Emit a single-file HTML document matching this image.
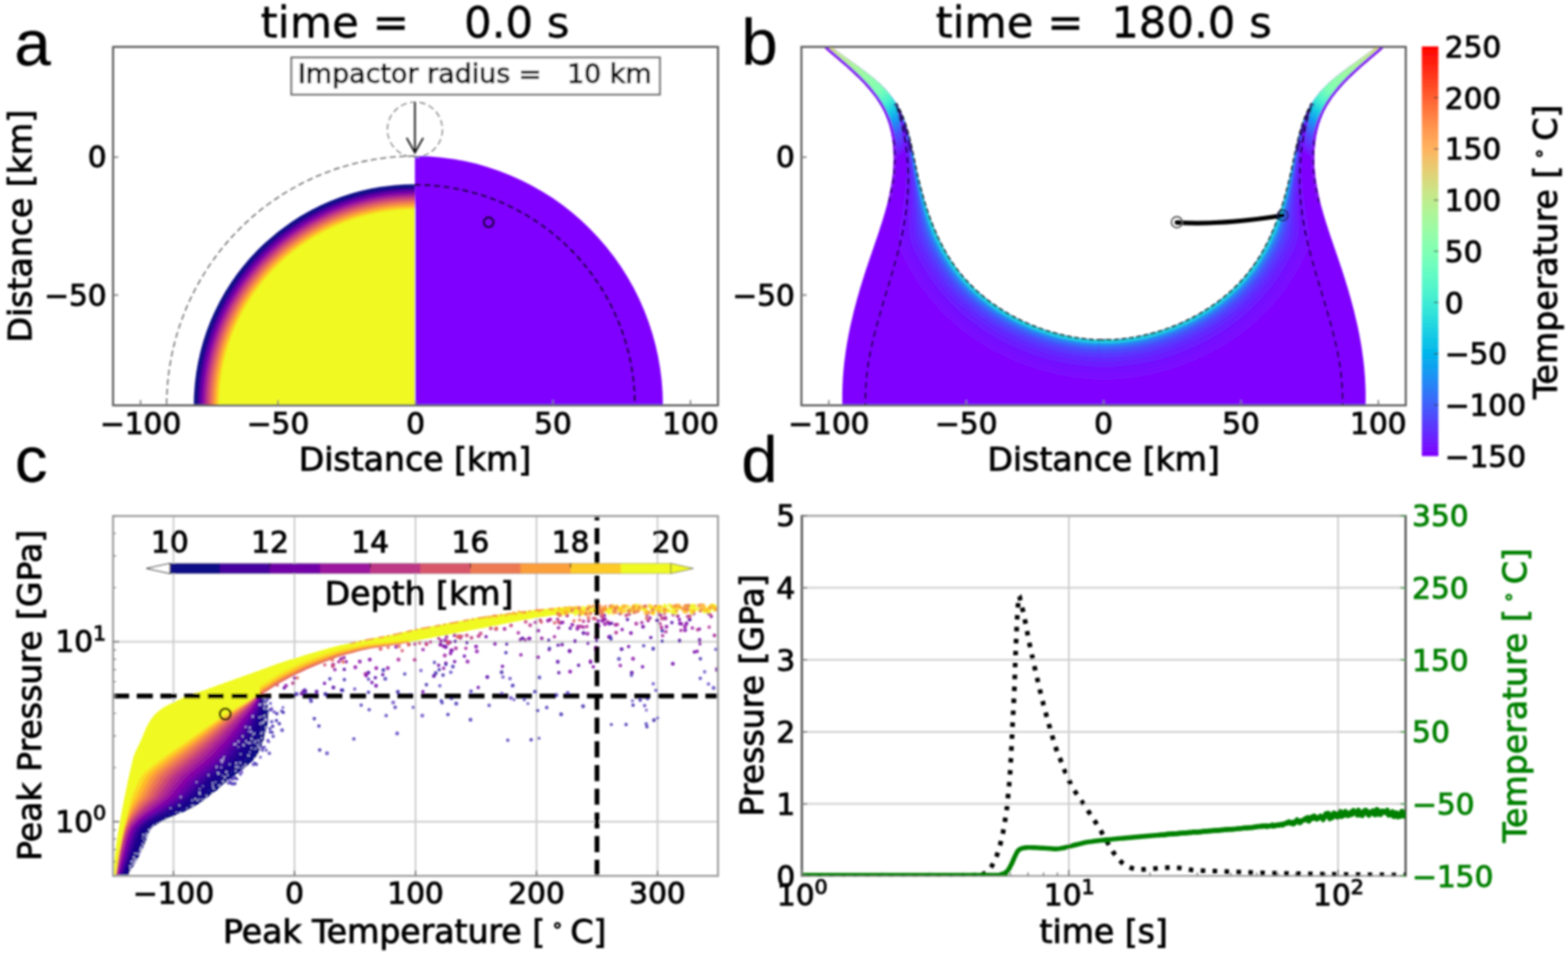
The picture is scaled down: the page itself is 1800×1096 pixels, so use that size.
<!DOCTYPE html>
<html lang="en"><head><meta charset="utf-8"><title>Impact simulation figure</title>
<style>
html,body{margin:0;padding:0;background:#fff;}
body{width:1800px;height:1096px;overflow:hidden;}
svg{display:block;font-family:'DejaVu Sans','Liberation Sans',sans-serif;}

</style></head><body>
<svg width="1800" height="1096" viewBox="0 0 1800 1096">
<defs><filter id="soft" filterUnits="userSpaceOnUse" x="0" y="0" width="1800" height="1096"><feGaussianBlur stdDeviation="0.8"/></filter></defs>
<rect width="1800" height="1096" fill="#fff"/>
<g filter="url(#soft)">
<!-- panel a -->
<defs>
<clipPath id="clipA"><rect x="129.8" y="53.8" width="694.4" height="411.4"/></clipPath>
<radialGradient id="gA" gradientUnits="userSpaceOnUse" cx="476.3" cy="465.2" r="253.8"><stop offset="0" stop-color="#f0f921"/><stop offset="0.8831" stop-color="#f0f921"/><stop offset="0.8935" stop-color="#fcce25"/><stop offset="0.9040" stop-color="#fca636"/><stop offset="0.9144" stop-color="#f2844b"/><stop offset="0.9249" stop-color="#e16462"/><stop offset="0.9353" stop-color="#cc4778"/><stop offset="0.9458" stop-color="#b12a90"/><stop offset="0.9562" stop-color="#8f0da4"/><stop offset="0.9667" stop-color="#6a00a8"/><stop offset="0.9771" stop-color="#41049d"/><stop offset="0.9876" stop-color="#0d0887"/></radialGradient>
</defs>
<g clip-path="url(#clipA)">
<path d="M476.3,179.1 A284.7,286.1 0 0 1 761,465.2 L476.3,465.2 Z" fill="#8000ff"/>
<path d="M476.3,211.4 A253.8,253.8 0 0 0 222.5,465.2 L476.3,465.2 Z" fill="url(#gA)"/>
<path d="M476.3,179.1 A285,286.1 0 0 0 191.3,465.2" fill="none" stroke="#707070" stroke-width="1.6" stroke-dasharray="7 4"/>
<path d="M476.3,212 A252.5,253.2 0 0 1 728.8,465.2" fill="none" stroke="#12042e" stroke-width="2.4" stroke-dasharray="7 4"/>
<circle cx="561" cy="255.1" r="5.6" fill="none" stroke="#12042e" stroke-width="2.8"/>
</g>
<circle cx="476.3" cy="148.7" r="31.6" fill="none" stroke="#808080" stroke-width="1.4" stroke-dasharray="7 4"/>
<path d="M476.3,117.1 L476.3,175.3 M466.8,158.3 L476.3,175.3 L485.8,158.3" fill="none" stroke="#111" stroke-width="1.9"/>
<rect x="334.5" y="66" width="423" height="42.5" fill="#fff" stroke="#6a6a6a" stroke-width="2.2"/>
<text x="342" y="94.5" font-size="30.9" text-anchor="start" fill="#000" stroke="#000" stroke-width="1.0" xml:space="preserve">Impactor radius =   10 km</text>
<rect x="129.8" y="53.8" width="694.4" height="411.4" fill="none" stroke="#5a5a5a" stroke-width="2.3"/>
<line x1="161.4" y1="465.2" x2="161.4" y2="459.2" stroke="#777" stroke-width="1.6"/>
<text x="161.4" y="498.3" font-size="34" text-anchor="middle" fill="#000" stroke="#000" stroke-width="1.0">−100</text>
<line x1="319.2" y1="465.2" x2="319.2" y2="459.2" stroke="#777" stroke-width="1.6"/>
<text x="319.2" y="498.3" font-size="34" text-anchor="middle" fill="#000" stroke="#000" stroke-width="1.0">−50</text>
<line x1="477" y1="465.2" x2="477" y2="459.2" stroke="#777" stroke-width="1.6"/>
<text x="477" y="498.3" font-size="34" text-anchor="middle" fill="#000" stroke="#000" stroke-width="1.0">0</text>
<line x1="634.8" y1="465.2" x2="634.8" y2="459.2" stroke="#777" stroke-width="1.6"/>
<text x="634.8" y="498.3" font-size="34" text-anchor="middle" fill="#000" stroke="#000" stroke-width="1.0">50</text>
<line x1="792.6" y1="465.2" x2="792.6" y2="459.2" stroke="#777" stroke-width="1.6"/>
<text x="792.6" y="498.3" font-size="34" text-anchor="middle" fill="#000" stroke="#000" stroke-width="1.0">100</text>
<line x1="129.8" y1="180.4" x2="135.8" y2="180.4" stroke="#777" stroke-width="1.6"/>
<text x="122.5" y="192.4" font-size="34" text-anchor="end" fill="#000" stroke="#000" stroke-width="1.0">0</text>
<line x1="129.8" y1="338.6" x2="135.8" y2="338.6" stroke="#777" stroke-width="1.6"/>
<text x="122.5" y="350.6" font-size="34" text-anchor="end" fill="#000" stroke="#000" stroke-width="1.0">−50</text>
<text x="476.5" y="539.5" font-size="38" text-anchor="middle" fill="#000" stroke="#000" stroke-width="1.0">Distance [km]</text>
<text x="35.5" y="259.5" font-size="38" text-anchor="middle" fill="#000" stroke="#000" stroke-width="1.0" transform="rotate(-90 35.5 259.5)">Distance [km]</text>
<text x="476.5" y="43.4" font-size="49.8" text-anchor="middle" fill="#000" stroke="#000" stroke-width="1.0" xml:space="preserve" style="stroke-width:0.5">time =    0.0 s</text>
<!-- panel b -->
<defs>
<clipPath id="clipB"><rect x="920" y="53.8" width="693.8" height="411.4"/></clipPath>
<clipPath id="bodyB"><polygon points="934.2,44.1 936.3,46.1 938.5,48.1 940.7,50.1 943,52.1 945.3,54.1 947.6,56.1 949.9,58.2 952.3,60.2 954.6,62.2 957,64.2 959.4,66.3 961.8,68.3 964.2,70.4 966.6,72.4 969,74.5 971.4,76.6 973.8,78.7 976.2,80.9 978.5,83 980.8,85.2 983.1,87.4 985.4,89.6 987.6,91.8 989.8,94.1 992,96.3 994.1,98.7 996.2,101 998.2,103.4 1000.2,105.8 1002.1,108.2 1004,110.6 1005.8,113.1 1007.5,115.7 1009.2,118.2 1010.8,120.8 1012.3,123.5 1013.7,126.1 1015.1,128.8 1016.3,131.6 1017.5,134.4 1018.6,137.2 1019.6,140.1 1020.6,143 1021.4,146 1022.2,148.9 1022.9,151.9 1023.5,154.9 1024,157.9 1024.5,161 1024.9,164 1025.2,167.1 1025.5,170.2 1025.7,173.3 1025.8,176.4 1025.9,179.5 1025.9,182.6 1025.8,185.6 1025.7,188.7 1025.6,191.8 1025.4,194.9 1025.1,198 1024.8,201 1024.4,204.1 1024,207.1 1023.5,210.2 1023,213.3 1022.4,216.3 1021.8,219.3 1021.2,222.4 1020.6,225.4 1019.9,228.4 1019.1,231.5 1018.4,234.5 1017.6,237.5 1016.7,240.5 1015.9,243.6 1015,246.6 1014.1,249.6 1013.2,252.6 1012.3,255.6 1011.3,258.6 1010.3,261.6 1009.4,264.6 1008.4,267.6 1007.4,270.5 1006.4,273.5 1005.3,276.5 1004.3,279.5 1003.3,282.5 1002.3,285.4 1001.2,288.4 1000.2,291.4 999.2,294.3 998.2,297.3 997.2,300.3 996.2,303.2 995.2,306.2 994.2,309.1 993.3,312.1 992.3,315.1 991.4,318 990.4,321 989.5,323.9 988.6,326.9 987.7,329.8 986.8,332.8 986,335.7 985.1,338.7 984.3,341.6 983.5,344.6 982.7,347.6 981.9,350.5 981.1,353.5 980.3,356.4 979.6,359.4 978.9,362.4 978.2,365.4 977.5,368.3 976.8,371.3 976.1,374.3 975.5,377.3 974.9,380.3 974.3,383.3 973.7,386.3 973.2,389.3 972.6,392.3 972.1,395.3 971.6,398.4 971.1,401.4 970.7,404.4 970.3,407.5 969.9,410.5 969.5,413.6 969.1,416.7 968.8,419.8 968.5,422.8 968.2,425.9 968,429 967.7,432.1 967.5,435.3 967.4,438.4 967.2,441.5 967.1,444.7 967,447.8 966.9,451 966.9,454.2 966.9,457.4 966.9,460.6 966.9,463.8 967,467 967.1,470.2 1273,470 1272.9,390.2 1270,390.2 1267,390.3 1264,390.2 1261,390.1 1258,390 1255,389.8 1252,389.6 1249,389.4 1246,389.1 1243,388.7 1239.9,388.3 1236.9,387.9 1233.9,387.4 1231,386.9 1228,386.3 1225,385.7 1222,385.1 1219,384.4 1216,383.7 1213.1,382.9 1210.1,382.1 1207.2,381.3 1204.3,380.4 1201.3,379.5 1198.4,378.5 1195.5,377.5 1192.7,376.5 1189.8,375.4 1186.9,374.3 1184.1,373.2 1181.3,372 1178.5,370.8 1175.7,369.5 1172.9,368.2 1170.2,366.9 1167.4,365.5 1164.7,364.1 1162,362.7 1159.4,361.2 1156.7,359.7 1154.1,358.1 1151.5,356.5 1149,354.9 1146.4,353.3 1143.9,351.6 1141.4,349.9 1139,348.2 1136.5,346.4 1134.1,344.6 1131.8,342.7 1129.4,340.9 1127.1,339 1124.9,337 1122.6,335.1 1120.4,333.1 1118.3,331.1 1116.1,329 1114,326.9 1112,324.8 1110,322.7 1108,320.5 1106,318.3 1104.1,316.1 1102.3,313.8 1100.5,311.5 1098.7,309.2 1097,306.9 1095.3,304.5 1093.6,302.2 1092,299.7 1090.4,297.3 1088.8,294.9 1087.3,292.4 1085.8,289.9 1084.4,287.4 1083,284.8 1081.6,282.2 1080.2,279.7 1078.9,277 1077.6,274.4 1076.4,271.8 1075.2,269.1 1074,266.4 1072.8,263.7 1071.7,261 1070.6,258.3 1069.5,255.5 1068.4,252.7 1067.4,250 1066.4,247.2 1065.4,244.3 1064.4,241.5 1063.5,238.7 1062.6,235.8 1061.7,233 1060.8,230.1 1060,227.2 1059.2,224.3 1058.4,221.4 1057.6,218.5 1056.8,215.5 1056.1,212.6 1055.3,209.6 1054.6,206.7 1053.9,203.7 1053.2,200.8 1052.6,197.8 1051.9,194.8 1051.3,191.8 1050.6,188.8 1050,185.8 1049.4,182.8 1048.8,179.8 1048.2,176.8 1047.5,173.9 1046.9,170.9 1046.3,167.9 1045.6,165 1044.9,162 1044.2,159.1 1043.5,156.2 1042.7,153.3 1041.9,150.4 1041.1,147.6 1040.2,144.8 1039.3,142 1038.4,139.2 1037.4,136.5 1036.3,133.8 1035.2,131.1 1034,128.5 1032.8,125.9 1031.5,123.3 1030.1,120.8 1028.7,118.3 1027.2,115.9 1025.6,113.5 1023.9,111.2 1022.1,108.9 1020.3,106.6 1018.4,104.5 1016.4,102.3 1014.4,100.2 1012.3,98.1 1010.2,96.1 1008,94.1 1005.7,92.1 1003.4,90.1 1001.1,88.2 998.7,86.3 996.4,84.4 993.9,82.6 991.5,80.7 989,78.9 986.6,77.1 984.1,75.3 981.6,73.5 979.1,71.7 976.6,69.9 974.1,68.1 971.6,66.3 969.2,64.5 966.7,62.8 964.3,61 961.9,59.2 959.5,57.3 957.2,55.5 954.9,53.7 952.7,51.8 950.5,49.9 948.3,48 946.2,46.1 944.2,44.1"/></clipPath>
<linearGradient id="gCurt" gradientUnits="userSpaceOnUse" x1="948" y1="54" x2="1040" y2="175"><stop offset="0" stop-color="#e0cf72"/><stop offset="0.09" stop-color="#c4ec8c"/><stop offset="0.3" stop-color="#a0f8a0"/><stop offset="0.5" stop-color="#80ffb4"/><stop offset="0.6" stop-color="#4df3ce"/><stop offset="0.68" stop-color="#18cde4"/><stop offset="0.76" stop-color="#1996f3"/><stop offset="0.86" stop-color="#4e4dfc"/><stop offset="0.95" stop-color="#6e20ff"/><stop offset="1" stop-color="#8000ff"/></linearGradient>
</defs>
<g clip-path="url(#clipB)">
<polygon points="934.2,44.1 936.3,46.1 938.5,48.1 940.7,50.1 943,52.1 945.3,54.1 947.6,56.1 949.9,58.2 952.3,60.2 954.6,62.2 957,64.2 959.4,66.3 961.8,68.3 964.2,70.4 966.6,72.4 969,74.5 971.4,76.6 973.8,78.7 976.2,80.9 978.5,83 980.8,85.2 983.1,87.4 985.4,89.6 987.6,91.8 989.8,94.1 992,96.3 994.1,98.7 996.2,101 998.2,103.4 1000.2,105.8 1002.1,108.2 1004,110.6 1005.8,113.1 1007.5,115.7 1009.2,118.2 1010.8,120.8 1012.3,123.5 1013.7,126.1 1015.1,128.8 1016.3,131.6 1017.5,134.4 1018.6,137.2 1019.6,140.1 1020.6,143 1021.4,146 1022.2,148.9 1022.9,151.9 1023.5,154.9 1024,157.9 1024.5,161 1024.9,164 1025.2,167.1 1025.5,170.2 1025.7,173.3 1025.8,176.4 1025.9,179.5 1025.9,182.6 1025.8,185.6 1025.7,188.7 1025.6,191.8 1025.4,194.9 1025.1,198 1024.8,201 1024.4,204.1 1024,207.1 1023.5,210.2 1023,213.3 1022.4,216.3 1021.8,219.3 1021.2,222.4 1020.6,225.4 1019.9,228.4 1019.1,231.5 1018.4,234.5 1017.6,237.5 1016.7,240.5 1015.9,243.6 1015,246.6 1014.1,249.6 1013.2,252.6 1012.3,255.6 1011.3,258.6 1010.3,261.6 1009.4,264.6 1008.4,267.6 1007.4,270.5 1006.4,273.5 1005.3,276.5 1004.3,279.5 1003.3,282.5 1002.3,285.4 1001.2,288.4 1000.2,291.4 999.2,294.3 998.2,297.3 997.2,300.3 996.2,303.2 995.2,306.2 994.2,309.1 993.3,312.1 992.3,315.1 991.4,318 990.4,321 989.5,323.9 988.6,326.9 987.7,329.8 986.8,332.8 986,335.7 985.1,338.7 984.3,341.6 983.5,344.6 982.7,347.6 981.9,350.5 981.1,353.5 980.3,356.4 979.6,359.4 978.9,362.4 978.2,365.4 977.5,368.3 976.8,371.3 976.1,374.3 975.5,377.3 974.9,380.3 974.3,383.3 973.7,386.3 973.2,389.3 972.6,392.3 972.1,395.3 971.6,398.4 971.1,401.4 970.7,404.4 970.3,407.5 969.9,410.5 969.5,413.6 969.1,416.7 968.8,419.8 968.5,422.8 968.2,425.9 968,429 967.7,432.1 967.5,435.3 967.4,438.4 967.2,441.5 967.1,444.7 967,447.8 966.9,451 966.9,454.2 966.9,457.4 966.9,460.6 966.9,463.8 967,467 967.1,470.2 1273,470 1272.9,390.2 1270,390.2 1267,390.3 1264,390.2 1261,390.1 1258,390 1255,389.8 1252,389.6 1249,389.4 1246,389.1 1243,388.7 1239.9,388.3 1236.9,387.9 1233.9,387.4 1231,386.9 1228,386.3 1225,385.7 1222,385.1 1219,384.4 1216,383.7 1213.1,382.9 1210.1,382.1 1207.2,381.3 1204.3,380.4 1201.3,379.5 1198.4,378.5 1195.5,377.5 1192.7,376.5 1189.8,375.4 1186.9,374.3 1184.1,373.2 1181.3,372 1178.5,370.8 1175.7,369.5 1172.9,368.2 1170.2,366.9 1167.4,365.5 1164.7,364.1 1162,362.7 1159.4,361.2 1156.7,359.7 1154.1,358.1 1151.5,356.5 1149,354.9 1146.4,353.3 1143.9,351.6 1141.4,349.9 1139,348.2 1136.5,346.4 1134.1,344.6 1131.8,342.7 1129.4,340.9 1127.1,339 1124.9,337 1122.6,335.1 1120.4,333.1 1118.3,331.1 1116.1,329 1114,326.9 1112,324.8 1110,322.7 1108,320.5 1106,318.3 1104.1,316.1 1102.3,313.8 1100.5,311.5 1098.7,309.2 1097,306.9 1095.3,304.5 1093.6,302.2 1092,299.7 1090.4,297.3 1088.8,294.9 1087.3,292.4 1085.8,289.9 1084.4,287.4 1083,284.8 1081.6,282.2 1080.2,279.7 1078.9,277 1077.6,274.4 1076.4,271.8 1075.2,269.1 1074,266.4 1072.8,263.7 1071.7,261 1070.6,258.3 1069.5,255.5 1068.4,252.7 1067.4,250 1066.4,247.2 1065.4,244.3 1064.4,241.5 1063.5,238.7 1062.6,235.8 1061.7,233 1060.8,230.1 1060,227.2 1059.2,224.3 1058.4,221.4 1057.6,218.5 1056.8,215.5 1056.1,212.6 1055.3,209.6 1054.6,206.7 1053.9,203.7 1053.2,200.8 1052.6,197.8 1051.9,194.8 1051.3,191.8 1050.6,188.8 1050,185.8 1049.4,182.8 1048.8,179.8 1048.2,176.8 1047.5,173.9 1046.9,170.9 1046.3,167.9 1045.6,165 1044.9,162 1044.2,159.1 1043.5,156.2 1042.7,153.3 1041.9,150.4 1041.1,147.6 1040.2,144.8 1039.3,142 1038.4,139.2 1037.4,136.5 1036.3,133.8 1035.2,131.1 1034,128.5 1032.8,125.9 1031.5,123.3 1030.1,120.8 1028.7,118.3 1027.2,115.9 1025.6,113.5 1023.9,111.2 1022.1,108.9 1020.3,106.6 1018.4,104.5 1016.4,102.3 1014.4,100.2 1012.3,98.1 1010.2,96.1 1008,94.1 1005.7,92.1 1003.4,90.1 1001.1,88.2 998.7,86.3 996.4,84.4 993.9,82.6 991.5,80.7 989,78.9 986.6,77.1 984.1,75.3 981.6,73.5 979.1,71.7 976.6,69.9 974.1,68.1 971.6,66.3 969.2,64.5 966.7,62.8 964.3,61 961.9,59.2 959.5,57.3 957.2,55.5 954.9,53.7 952.7,51.8 950.5,49.9 948.3,48 946.2,46.1 944.2,44.1" fill="#8000ff"/>
<g transform="translate(2534.6 0) scale(-1 1)"><polygon points="934.2,44.1 936.3,46.1 938.5,48.1 940.7,50.1 943,52.1 945.3,54.1 947.6,56.1 949.9,58.2 952.3,60.2 954.6,62.2 957,64.2 959.4,66.3 961.8,68.3 964.2,70.4 966.6,72.4 969,74.5 971.4,76.6 973.8,78.7 976.2,80.9 978.5,83 980.8,85.2 983.1,87.4 985.4,89.6 987.6,91.8 989.8,94.1 992,96.3 994.1,98.7 996.2,101 998.2,103.4 1000.2,105.8 1002.1,108.2 1004,110.6 1005.8,113.1 1007.5,115.7 1009.2,118.2 1010.8,120.8 1012.3,123.5 1013.7,126.1 1015.1,128.8 1016.3,131.6 1017.5,134.4 1018.6,137.2 1019.6,140.1 1020.6,143 1021.4,146 1022.2,148.9 1022.9,151.9 1023.5,154.9 1024,157.9 1024.5,161 1024.9,164 1025.2,167.1 1025.5,170.2 1025.7,173.3 1025.8,176.4 1025.9,179.5 1025.9,182.6 1025.8,185.6 1025.7,188.7 1025.6,191.8 1025.4,194.9 1025.1,198 1024.8,201 1024.4,204.1 1024,207.1 1023.5,210.2 1023,213.3 1022.4,216.3 1021.8,219.3 1021.2,222.4 1020.6,225.4 1019.9,228.4 1019.1,231.5 1018.4,234.5 1017.6,237.5 1016.7,240.5 1015.9,243.6 1015,246.6 1014.1,249.6 1013.2,252.6 1012.3,255.6 1011.3,258.6 1010.3,261.6 1009.4,264.6 1008.4,267.6 1007.4,270.5 1006.4,273.5 1005.3,276.5 1004.3,279.5 1003.3,282.5 1002.3,285.4 1001.2,288.4 1000.2,291.4 999.2,294.3 998.2,297.3 997.2,300.3 996.2,303.2 995.2,306.2 994.2,309.1 993.3,312.1 992.3,315.1 991.4,318 990.4,321 989.5,323.9 988.6,326.9 987.7,329.8 986.8,332.8 986,335.7 985.1,338.7 984.3,341.6 983.5,344.6 982.7,347.6 981.9,350.5 981.1,353.5 980.3,356.4 979.6,359.4 978.9,362.4 978.2,365.4 977.5,368.3 976.8,371.3 976.1,374.3 975.5,377.3 974.9,380.3 974.3,383.3 973.7,386.3 973.2,389.3 972.6,392.3 972.1,395.3 971.6,398.4 971.1,401.4 970.7,404.4 970.3,407.5 969.9,410.5 969.5,413.6 969.1,416.7 968.8,419.8 968.5,422.8 968.2,425.9 968,429 967.7,432.1 967.5,435.3 967.4,438.4 967.2,441.5 967.1,444.7 967,447.8 966.9,451 966.9,454.2 966.9,457.4 966.9,460.6 966.9,463.8 967,467 967.1,470.2 1273,470 1272.9,390.2 1270,390.2 1267,390.3 1264,390.2 1261,390.1 1258,390 1255,389.8 1252,389.6 1249,389.4 1246,389.1 1243,388.7 1239.9,388.3 1236.9,387.9 1233.9,387.4 1231,386.9 1228,386.3 1225,385.7 1222,385.1 1219,384.4 1216,383.7 1213.1,382.9 1210.1,382.1 1207.2,381.3 1204.3,380.4 1201.3,379.5 1198.4,378.5 1195.5,377.5 1192.7,376.5 1189.8,375.4 1186.9,374.3 1184.1,373.2 1181.3,372 1178.5,370.8 1175.7,369.5 1172.9,368.2 1170.2,366.9 1167.4,365.5 1164.7,364.1 1162,362.7 1159.4,361.2 1156.7,359.7 1154.1,358.1 1151.5,356.5 1149,354.9 1146.4,353.3 1143.9,351.6 1141.4,349.9 1139,348.2 1136.5,346.4 1134.1,344.6 1131.8,342.7 1129.4,340.9 1127.1,339 1124.9,337 1122.6,335.1 1120.4,333.1 1118.3,331.1 1116.1,329 1114,326.9 1112,324.8 1110,322.7 1108,320.5 1106,318.3 1104.1,316.1 1102.3,313.8 1100.5,311.5 1098.7,309.2 1097,306.9 1095.3,304.5 1093.6,302.2 1092,299.7 1090.4,297.3 1088.8,294.9 1087.3,292.4 1085.8,289.9 1084.4,287.4 1083,284.8 1081.6,282.2 1080.2,279.7 1078.9,277 1077.6,274.4 1076.4,271.8 1075.2,269.1 1074,266.4 1072.8,263.7 1071.7,261 1070.6,258.3 1069.5,255.5 1068.4,252.7 1067.4,250 1066.4,247.2 1065.4,244.3 1064.4,241.5 1063.5,238.7 1062.6,235.8 1061.7,233 1060.8,230.1 1060,227.2 1059.2,224.3 1058.4,221.4 1057.6,218.5 1056.8,215.5 1056.1,212.6 1055.3,209.6 1054.6,206.7 1053.9,203.7 1053.2,200.8 1052.6,197.8 1051.9,194.8 1051.3,191.8 1050.6,188.8 1050,185.8 1049.4,182.8 1048.8,179.8 1048.2,176.8 1047.5,173.9 1046.9,170.9 1046.3,167.9 1045.6,165 1044.9,162 1044.2,159.1 1043.5,156.2 1042.7,153.3 1041.9,150.4 1041.1,147.6 1040.2,144.8 1039.3,142 1038.4,139.2 1037.4,136.5 1036.3,133.8 1035.2,131.1 1034,128.5 1032.8,125.9 1031.5,123.3 1030.1,120.8 1028.7,118.3 1027.2,115.9 1025.6,113.5 1023.9,111.2 1022.1,108.9 1020.3,106.6 1018.4,104.5 1016.4,102.3 1014.4,100.2 1012.3,98.1 1010.2,96.1 1008,94.1 1005.7,92.1 1003.4,90.1 1001.1,88.2 998.7,86.3 996.4,84.4 993.9,82.6 991.5,80.7 989,78.9 986.6,77.1 984.1,75.3 981.6,73.5 979.1,71.7 976.6,69.9 974.1,68.1 971.6,66.3 969.2,64.5 966.7,62.8 964.3,61 961.9,59.2 959.5,57.3 957.2,55.5 954.9,53.7 952.7,51.8 950.5,49.9 948.3,48 946.2,46.1 944.2,44.1" fill="#8000ff"/></g>
<g>
<g clip-path="url(#bodyB)">
<polygon points="1048.2,176.8 1047.5,173.9 1046.9,170.9 1046.3,167.9 1045.6,165 1044.9,162 1044.2,159.1 1043.5,156.2 1042.7,153.3 1041.9,150.4 1041.1,147.6 1040.2,144.8 1039.3,142 1038.4,139.2 1037.4,136.5 1036.3,133.8 1035.2,131.1 1034,128.5 1032.8,125.9 1031.5,123.3 1030.1,120.8 1028.7,118.3 1027.2,115.9 1025.6,113.5 1023.9,111.2 1022.1,108.9 1020.3,106.6 1018.4,104.5 1016.4,102.3 1014.4,100.2 1012.3,98.1 1010.2,96.1 1008,94.1 1005.7,92.1 1003.4,90.1 1001.1,88.2 998.7,86.3 996.4,84.4 993.9,82.6 991.5,80.7 989,78.9 986.6,77.1 984.1,75.3 981.6,73.5 979.1,71.7 976.6,69.9 974.1,68.1 971.6,66.3 969.2,64.5 966.7,62.8 964.3,61 961.9,59.2 959.5,57.3 957.2,55.5 954.9,53.7 952.7,51.8 950.5,49.9 948.3,48 946.2,46.1 944.2,44.1 923.4,65.8 925.7,68 928.2,70.3 930.8,72.6 933.4,74.8 936,76.9 938.6,79 941.2,81.1 943.8,83 946.4,85 948.9,86.9 951.5,88.8 954.1,90.7 956.6,92.5 959.1,94.3 961.6,96.1 964.1,97.8 966.5,99.6 968.9,101.3 971.2,103 973.5,104.7 975.8,106.4 977.9,108.1 980.1,109.8 982.1,111.4 984.1,113.1 986.1,114.7 987.9,116.4 989.7,118 991.4,119.6 993,121.2 994.6,122.8 996,124.4 997.4,126 998.6,127.5 999.8,129.1 1000.9,130.6 1002,132.2 1003,133.8 1004,135.5 1004.9,137.3 1005.9,139.1 1006.8,141 1007.6,142.9 1008.5,145 1009.3,147.1 1010.1,149.3 1010.9,151.5 1011.6,153.8 1012.3,156.2 1013.1,158.6 1013.7,161.1 1014.4,163.7 1015.1,166.3 1015.7,168.9 1016.3,171.7 1017,174.4 1017.6,177.2 1018.2,180.1 1018.8,183" fill="url(#gCurt)"/>
<polygon points="1272.9,390.2 1270,390.2 1267,390.3 1264,390.2 1261,390.1 1258,390 1255,389.8 1252,389.6 1249,389.4 1246,389.1 1243,388.7 1239.9,388.3 1236.9,387.9 1233.9,387.4 1231,386.9 1228,386.3 1225,385.7 1222,385.1 1219,384.4 1216,383.7 1213.1,382.9 1210.1,382.1 1207.2,381.3 1204.3,380.4 1201.3,379.5 1198.4,378.5 1195.5,377.5 1192.7,376.5 1189.8,375.4 1186.9,374.3 1184.1,373.2 1181.3,372 1178.5,370.8 1175.7,369.5 1172.9,368.2 1170.2,366.9 1167.4,365.5 1164.7,364.1 1162,362.7 1159.4,361.2 1156.7,359.7 1154.1,358.1 1151.5,356.5 1149,354.9 1146.4,353.3 1143.9,351.6 1141.4,349.9 1139,348.2 1136.5,346.4 1134.1,344.6 1131.8,342.7 1129.4,340.9 1127.1,339 1124.9,337 1122.6,335.1 1120.4,333.1 1118.3,331.1 1116.1,329 1114,326.9 1112,324.8 1110,322.7 1108,320.5 1106,318.3 1104.1,316.1 1102.3,313.8 1100.5,311.5 1098.7,309.2 1097,306.9 1095.3,304.5 1093.6,302.2 1092,299.7 1090.4,297.3 1088.8,294.9 1087.3,292.4 1085.8,289.9 1084.4,287.4 1083,284.8 1081.6,282.2 1080.2,279.7 1078.9,277 1077.6,274.4 1076.4,271.8 1075.2,269.1 1074,266.4 1072.8,263.7 1071.7,261 1070.6,258.3 1069.5,255.5 1068.4,252.7 1067.4,250 1066.4,247.2 1065.4,244.3 1064.4,241.5 1063.5,238.7 1062.6,235.8 1061.7,233 1060.8,230.1 1060,227.2 1059.2,224.3 1058.4,221.4 1057.6,218.5 1056.8,215.5 1056.1,212.6 1055.3,209.6 1054.6,206.7 1053.9,203.7 1053.2,200.8 1052.6,197.8 1051.9,194.8 1051.3,191.8 1050.6,188.8 1050,185.8 1049.4,182.8 1048.8,179.8 1048.2,176.8 1047.5,173.9 1046.9,170.9 1046.3,167.9 1045.6,165 1044.9,162 1044.2,159.1 1043.5,156.2 1042.7,153.3 1041.9,150.4 1041.1,147.6 1040.2,144.8 1039.3,142 1038.4,139.2 1037.4,136.5 1036.3,133.8 1035.2,131.1 1034,128.5 1032.8,125.9 1031.5,123.3 1030.1,120.8 1028.7,118.3 1027.6,118.9 1028.7,121.6 1029.6,124.3 1030.3,127.1 1030.9,129.9 1031.5,132.7 1031.9,135.5 1032.6,138.3 1033.3,141 1033.9,143.8 1034.4,146.6 1034.9,149.4 1035.5,152.3 1036,155.1 1036.5,158 1036.9,160.9 1037.3,163.8 1037.6,166.8 1038,169.8 1038.3,172.8 1038.6,175.8 1038.8,178.8 1038.9,181.9 1039.1,185 1039.2,188.1 1039.2,191.2 1039.2,194.4 1039.2,197.6 1039.1,200.8 1039,204 1038.8,207.2 1038.6,210.5 1038.4,213.8 1038.1,217.1 1037.8,220.4 1037.5,223.8 1037.1,227.2 1036.7,230.6 1036.2,234.1 1035.7,237.5 1035.2,241.1 1034.7,244.6 1034.1,248.2 1033.5,251.8 1032.9,255.5 1032.3,259.2 1031.7,263 1031.3,266.7 1031.1,270.4 1031.1,274 1031.3,277.6 1031.8,281.1 1032.5,284.6 1033.5,287.9 1034.7,291.2 1036.2,294.4 1037.7,297.5 1039.3,300.6 1040.9,303.8 1042.6,306.9 1044.3,310 1046.1,313 1047.9,316.1 1049.8,319.1 1051.7,322.2 1053.6,325.2 1055.7,328.2 1057.7,331.1 1059.8,334.1 1062,337 1064.3,339.9 1066.5,342.8 1068.9,345.6 1071.3,348.4 1073.7,351.2 1076.2,353.9 1078.8,356.6 1081.3,359.3 1083.9,361.9 1086.6,364.4 1089.3,366.9 1092,369.4 1094.8,371.8 1097.6,374.2 1100.4,376.6 1103.3,378.9 1106.2,381.1 1109.1,383.3 1112.1,385.5 1115.1,387.6 1118.1,389.7 1121.1,391.7 1124.2,393.7 1127.3,395.7 1130.5,397.6 1133.6,399.4 1136.8,401.3 1140,403 1143.3,404.8 1146.5,406.5 1149.8,408.1 1153.1,409.7 1156.4,411.3 1159.8,412.8 1163.2,414.3 1166.5,415.7 1169.9,417.1 1173.4,418.4 1176.8,419.7 1180.3,420.9 1183.7,422.1 1187.2,423.3 1190.7,424.4 1194.2,425.4 1197.8,426.4 1201.3,427.4 1204.9,428.3 1208.4,429.2 1212,430 1215.6,430.8 1219.2,431.5 1222.8,432.2 1226.5,432.8 1230.1,433.4 1233.7,433.9 1237.4,434.4 1241,434.8 1244.7,435.2 1248.4,435.5 1252,435.7 1255.7,436 1259.4,436.1 1263.1,436.2 1266.7,436.3 1270.4,436.2 1273.8,436.2" fill="#7a07ff"/>
<polygon points="1272.9,390.2 1270,390.2 1267,390.3 1264,390.2 1261,390.1 1258,390 1255,389.8 1252,389.6 1249,389.4 1246,389.1 1243,388.7 1239.9,388.3 1236.9,387.9 1233.9,387.4 1231,386.9 1228,386.3 1225,385.7 1222,385.1 1219,384.4 1216,383.7 1213.1,382.9 1210.1,382.1 1207.2,381.3 1204.3,380.4 1201.3,379.5 1198.4,378.5 1195.5,377.5 1192.7,376.5 1189.8,375.4 1186.9,374.3 1184.1,373.2 1181.3,372 1178.5,370.8 1175.7,369.5 1172.9,368.2 1170.2,366.9 1167.4,365.5 1164.7,364.1 1162,362.7 1159.4,361.2 1156.7,359.7 1154.1,358.1 1151.5,356.5 1149,354.9 1146.4,353.3 1143.9,351.6 1141.4,349.9 1139,348.2 1136.5,346.4 1134.1,344.6 1131.8,342.7 1129.4,340.9 1127.1,339 1124.9,337 1122.6,335.1 1120.4,333.1 1118.3,331.1 1116.1,329 1114,326.9 1112,324.8 1110,322.7 1108,320.5 1106,318.3 1104.1,316.1 1102.3,313.8 1100.5,311.5 1098.7,309.2 1097,306.9 1095.3,304.5 1093.6,302.2 1092,299.7 1090.4,297.3 1088.8,294.9 1087.3,292.4 1085.8,289.9 1084.4,287.4 1083,284.8 1081.6,282.2 1080.2,279.7 1078.9,277 1077.6,274.4 1076.4,271.8 1075.2,269.1 1074,266.4 1072.8,263.7 1071.7,261 1070.6,258.3 1069.5,255.5 1068.4,252.7 1067.4,250 1066.4,247.2 1065.4,244.3 1064.4,241.5 1063.5,238.7 1062.6,235.8 1061.7,233 1060.8,230.1 1060,227.2 1059.2,224.3 1058.4,221.4 1057.6,218.5 1056.8,215.5 1056.1,212.6 1055.3,209.6 1054.6,206.7 1053.9,203.7 1053.2,200.8 1052.6,197.8 1051.9,194.8 1051.3,191.8 1050.6,188.8 1050,185.8 1049.4,182.8 1048.8,179.8 1048.2,176.8 1047.5,173.9 1046.9,170.9 1046.3,167.9 1045.6,165 1044.9,162 1044.2,159.1 1043.5,156.2 1042.7,153.3 1041.9,150.4 1041.1,147.6 1040.2,144.8 1039.3,142 1038.4,139.2 1037.4,136.5 1036.3,133.8 1035.2,131.1 1034,128.5 1032.8,125.9 1031.5,123.3 1030.1,120.8 1028.7,118.3 1027.8,118.8 1028.9,121.5 1029.9,124.1 1030.7,126.9 1031.5,129.6 1032.1,132.4 1032.7,135.2 1033.4,137.9 1034.2,140.7 1034.8,143.5 1035.4,146.3 1036,149.1 1036.6,151.9 1037.2,154.8 1037.7,157.7 1038.2,160.6 1038.6,163.5 1039,166.5 1039.4,169.4 1039.8,172.4 1040.1,175.4 1040.4,178.5 1040.7,181.5 1040.9,184.6 1041,187.7 1041.2,190.8 1041.3,193.9 1041.4,197.1 1041.5,200.2 1041.5,203.4 1041.5,206.6 1041.4,209.8 1041.3,213.1 1041.3,216.3 1041.1,219.6 1041,222.9 1040.8,226.2 1040.6,229.5 1040.3,232.9 1040.1,236.2 1039.8,239.6 1039.5,243.1 1039.2,246.5 1038.9,250 1038.6,253.6 1038.3,257.1 1037.9,260.7 1037.7,264.3 1037.7,267.8 1037.9,271.3 1038.3,274.7 1038.9,278.1 1039.7,281.4 1040.7,284.7 1042,287.8 1043.4,290.9 1044.9,293.9 1046.4,297 1048,300 1049.6,303 1051.3,306 1053,309 1054.8,312 1056.6,314.9 1058.4,317.8 1060.3,320.8 1062.3,323.6 1064.2,326.5 1066.3,329.4 1068.4,332.2 1070.6,335 1072.8,337.7 1075,340.5 1077.3,343.2 1079.7,345.9 1082.1,348.5 1084.5,351.1 1087,353.6 1089.5,356.2 1092.1,358.6 1094.7,361 1097.3,363.4 1100,365.8 1102.7,368.1 1105.5,370.3 1108.2,372.6 1111,374.8 1113.9,376.9 1116.7,379 1119.7,381.1 1122.6,383.1 1125.5,385 1128.5,387 1131.5,388.9 1134.6,390.7 1137.7,392.5 1140.7,394.3 1143.9,396 1147,397.7 1150.2,399.3 1153.4,400.9 1156.6,402.5 1159.8,404 1163,405.5 1166.3,406.9 1169.6,408.3 1172.9,409.6 1176.2,410.9 1179.6,412.2 1182.9,413.4 1186.3,414.5 1189.7,415.7 1193.1,416.7 1196.5,417.8 1199.9,418.7 1203.4,419.7 1206.8,420.6 1210.3,421.4 1213.8,422.2 1217.2,423 1220.7,423.7 1224.2,424.3 1227.8,424.9 1231.3,425.5 1234.8,426 1238.3,426.4 1241.9,426.8 1245.4,427.2 1249,427.5 1252.5,427.8 1256.1,428 1259.7,428.1 1263.2,428.2 1266.8,428.3 1270.4,428.2 1273.6,428.2" fill="#7410ff"/>
<polygon points="1272.9,390.2 1270,390.2 1267,390.3 1264,390.2 1261,390.1 1258,390 1255,389.8 1252,389.6 1249,389.4 1246,389.1 1243,388.7 1239.9,388.3 1236.9,387.9 1233.9,387.4 1231,386.9 1228,386.3 1225,385.7 1222,385.1 1219,384.4 1216,383.7 1213.1,382.9 1210.1,382.1 1207.2,381.3 1204.3,380.4 1201.3,379.5 1198.4,378.5 1195.5,377.5 1192.7,376.5 1189.8,375.4 1186.9,374.3 1184.1,373.2 1181.3,372 1178.5,370.8 1175.7,369.5 1172.9,368.2 1170.2,366.9 1167.4,365.5 1164.7,364.1 1162,362.7 1159.4,361.2 1156.7,359.7 1154.1,358.1 1151.5,356.5 1149,354.9 1146.4,353.3 1143.9,351.6 1141.4,349.9 1139,348.2 1136.5,346.4 1134.1,344.6 1131.8,342.7 1129.4,340.9 1127.1,339 1124.9,337 1122.6,335.1 1120.4,333.1 1118.3,331.1 1116.1,329 1114,326.9 1112,324.8 1110,322.7 1108,320.5 1106,318.3 1104.1,316.1 1102.3,313.8 1100.5,311.5 1098.7,309.2 1097,306.9 1095.3,304.5 1093.6,302.2 1092,299.7 1090.4,297.3 1088.8,294.9 1087.3,292.4 1085.8,289.9 1084.4,287.4 1083,284.8 1081.6,282.2 1080.2,279.7 1078.9,277 1077.6,274.4 1076.4,271.8 1075.2,269.1 1074,266.4 1072.8,263.7 1071.7,261 1070.6,258.3 1069.5,255.5 1068.4,252.7 1067.4,250 1066.4,247.2 1065.4,244.3 1064.4,241.5 1063.5,238.7 1062.6,235.8 1061.7,233 1060.8,230.1 1060,227.2 1059.2,224.3 1058.4,221.4 1057.6,218.5 1056.8,215.5 1056.1,212.6 1055.3,209.6 1054.6,206.7 1053.9,203.7 1053.2,200.8 1052.6,197.8 1051.9,194.8 1051.3,191.8 1050.6,188.8 1050,185.8 1049.4,182.8 1048.8,179.8 1048.2,176.8 1047.5,173.9 1046.9,170.9 1046.3,167.9 1045.6,165 1044.9,162 1044.2,159.1 1043.5,156.2 1042.7,153.3 1041.9,150.4 1041.1,147.6 1040.2,144.8 1039.3,142 1038.4,139.2 1037.4,136.5 1036.3,133.8 1035.2,131.1 1034,128.5 1032.8,125.9 1031.5,123.3 1030.1,120.8 1028.7,118.3 1028,118.7 1029.1,121.3 1030.2,124 1031.1,126.7 1031.9,129.4 1032.7,132.2 1033.3,135 1034.2,137.7 1034.9,140.4 1035.6,143.2 1036.3,146 1036.9,148.8 1037.6,151.7 1038.2,154.5 1038.8,157.4 1039.3,160.3 1039.8,163.2 1040.2,166.2 1040.7,169.2 1041.1,172.1 1041.5,175.1 1041.8,178.2 1042.2,181.2 1042.4,184.3 1042.7,187.3 1042.9,190.4 1043.1,193.5 1043.3,196.7 1043.5,199.8 1043.7,202.9 1043.8,206.1 1043.9,209.3 1043.9,212.4 1044,215.6 1044,218.8 1044,222.1 1044,225.3 1044,228.6 1044,231.8 1043.9,235.1 1043.9,238.4 1043.8,241.7 1043.7,245.1 1043.6,248.5 1043.5,251.9 1043.4,255.3 1043.3,258.7 1043.4,262.2 1043.6,265.5 1043.9,268.9 1044.5,272.2 1045.2,275.5 1046,278.7 1047.1,281.8 1048.3,284.9 1049.7,287.9 1051.2,290.8 1052.7,293.8 1054.2,296.7 1055.8,299.7 1057.4,302.6 1059,305.5 1060.7,308.4 1062.5,311.2 1064.3,314.1 1066.1,316.9 1068,319.7 1070,322.5 1071.9,325.2 1074,328 1076.1,330.7 1078.2,333.3 1080.4,336 1082.6,338.6 1084.9,341.2 1087.2,343.7 1089.6,346.2 1092,348.7 1094.4,351.1 1096.9,353.5 1099.4,355.9 1102,358.2 1104.6,360.5 1107.2,362.7 1109.9,364.9 1112.6,367.1 1115.3,369.2 1118.1,371.3 1120.8,373.3 1123.7,375.3 1126.5,377.3 1129.4,379.2 1132.3,381.1 1135.2,382.9 1138.2,384.7 1141.2,386.5 1144.2,388.2 1147.2,389.9 1150.3,391.5 1153.3,393.1 1156.4,394.7 1159.6,396.2 1162.7,397.7 1165.9,399.1 1169.1,400.5 1172.3,401.8 1175.5,403.1 1178.7,404.4 1182,405.6 1185.2,406.8 1188.5,407.9 1191.8,409 1195.1,410 1198.5,411 1201.8,412 1205.2,412.9 1208.5,413.8 1211.9,414.6 1215.3,415.4 1218.7,416.1 1222.1,416.8 1225.5,417.4 1228.9,418 1232.3,418.5 1235.8,419 1239.2,419.5 1242.6,419.9 1246.1,420.2 1249.5,420.5 1253,420.8 1256.4,421 1259.9,421.1 1263.4,421.2 1266.8,421.3 1270.3,421.2 1273.5,421.2" fill="#6c1aff"/>
<polygon points="1272.9,390.2 1270,390.2 1267,390.3 1264,390.2 1261,390.1 1258,390 1255,389.8 1252,389.6 1249,389.4 1246,389.1 1243,388.7 1239.9,388.3 1236.9,387.9 1233.9,387.4 1231,386.9 1228,386.3 1225,385.7 1222,385.1 1219,384.4 1216,383.7 1213.1,382.9 1210.1,382.1 1207.2,381.3 1204.3,380.4 1201.3,379.5 1198.4,378.5 1195.5,377.5 1192.7,376.5 1189.8,375.4 1186.9,374.3 1184.1,373.2 1181.3,372 1178.5,370.8 1175.7,369.5 1172.9,368.2 1170.2,366.9 1167.4,365.5 1164.7,364.1 1162,362.7 1159.4,361.2 1156.7,359.7 1154.1,358.1 1151.5,356.5 1149,354.9 1146.4,353.3 1143.9,351.6 1141.4,349.9 1139,348.2 1136.5,346.4 1134.1,344.6 1131.8,342.7 1129.4,340.9 1127.1,339 1124.9,337 1122.6,335.1 1120.4,333.1 1118.3,331.1 1116.1,329 1114,326.9 1112,324.8 1110,322.7 1108,320.5 1106,318.3 1104.1,316.1 1102.3,313.8 1100.5,311.5 1098.7,309.2 1097,306.9 1095.3,304.5 1093.6,302.2 1092,299.7 1090.4,297.3 1088.8,294.9 1087.3,292.4 1085.8,289.9 1084.4,287.4 1083,284.8 1081.6,282.2 1080.2,279.7 1078.9,277 1077.6,274.4 1076.4,271.8 1075.2,269.1 1074,266.4 1072.8,263.7 1071.7,261 1070.6,258.3 1069.5,255.5 1068.4,252.7 1067.4,250 1066.4,247.2 1065.4,244.3 1064.4,241.5 1063.5,238.7 1062.6,235.8 1061.7,233 1060.8,230.1 1060,227.2 1059.2,224.3 1058.4,221.4 1057.6,218.5 1056.8,215.5 1056.1,212.6 1055.3,209.6 1054.6,206.7 1053.9,203.7 1053.2,200.8 1052.6,197.8 1051.9,194.8 1051.3,191.8 1050.6,188.8 1050,185.8 1049.4,182.8 1048.8,179.8 1048.2,176.8 1047.5,173.9 1046.9,170.9 1046.3,167.9 1045.6,165 1044.9,162 1044.2,159.1 1043.5,156.2 1042.7,153.3 1041.9,150.4 1041.1,147.6 1040.2,144.8 1039.3,142 1038.4,139.2 1037.4,136.5 1036.3,133.8 1035.2,131.1 1034,128.5 1032.8,125.9 1031.5,123.3 1030.1,120.8 1028.7,118.3 1028.1,118.6 1029.3,121.2 1030.4,123.8 1031.4,126.5 1032.3,129.2 1033.2,132 1033.9,134.7 1034.8,137.4 1035.6,140.2 1036.4,143 1037.1,145.8 1037.7,148.6 1038.4,151.4 1039.1,154.3 1039.7,157.2 1040.2,160.1 1040.8,163 1041.3,166 1041.7,168.9 1042.2,171.9 1042.7,174.9 1043.1,177.9 1043.4,180.9 1043.8,184 1044.1,187 1044.4,190.1 1044.7,193.2 1045,196.3 1045.3,199.4 1045.5,202.5 1045.7,205.6 1045.9,208.8 1046.1,211.9 1046.3,215 1046.5,218.2 1046.7,221.4 1046.8,224.5 1046.9,227.7 1047.1,230.9 1047.2,234.1 1047.3,237.4 1047.4,240.6 1047.5,243.8 1047.6,247.1 1047.8,250.4 1047.9,253.7 1048,257 1048.2,260.3 1048.6,263.6 1049.1,266.8 1049.7,270 1050.5,273.2 1051.4,276.3 1052.5,279.3 1053.7,282.3 1055.1,285.3 1056.5,288.2 1058,291.1 1059.5,293.9 1061,296.8 1062.6,299.6 1064.2,302.5 1065.9,305.3 1067.6,308.1 1069.3,310.8 1071.1,313.6 1073,316.3 1074.9,319 1076.8,321.7 1078.8,324.3 1080.8,327 1082.9,329.6 1085,332.1 1087.2,334.7 1089.4,337.2 1091.6,339.7 1093.9,342.1 1096.3,344.5 1098.6,346.9 1101,349.2 1103.5,351.5 1106,353.7 1108.5,355.9 1111.1,358.1 1113.7,360.3 1116.3,362.4 1118.9,364.4 1121.6,366.5 1124.3,368.4 1127.1,370.4 1129.9,372.3 1132.7,374.2 1135.5,376 1138.4,377.8 1141.3,379.6 1144.2,381.3 1147.1,383 1150.1,384.6 1153.1,386.2 1156.1,387.8 1159.1,389.3 1162.2,390.8 1165.2,392.2 1168.3,393.6 1171.4,395 1174.6,396.3 1177.7,397.5 1180.9,398.8 1184,400 1187.2,401.1 1190.4,402.2 1193.7,403.3 1196.9,404.3 1200.2,405.3 1203.4,406.2 1206.7,407.1 1210,408 1213.3,408.8 1216.6,409.5 1219.9,410.2 1223.2,410.9 1226.5,411.5 1229.9,412.1 1233.2,412.6 1236.6,413.1 1239.9,413.5 1243.3,413.9 1246.6,414.3 1250,414.5 1253.4,414.8 1256.7,415 1260.1,415.1 1263.5,415.2 1266.8,415.3 1270.2,415.2 1273.4,415.2" fill="#6426ff"/>
<polygon points="1272.9,390.2 1270,390.2 1267,390.3 1264,390.2 1261,390.1 1258,390 1255,389.8 1252,389.6 1249,389.4 1246,389.1 1243,388.7 1239.9,388.3 1236.9,387.9 1233.9,387.4 1231,386.9 1228,386.3 1225,385.7 1222,385.1 1219,384.4 1216,383.7 1213.1,382.9 1210.1,382.1 1207.2,381.3 1204.3,380.4 1201.3,379.5 1198.4,378.5 1195.5,377.5 1192.7,376.5 1189.8,375.4 1186.9,374.3 1184.1,373.2 1181.3,372 1178.5,370.8 1175.7,369.5 1172.9,368.2 1170.2,366.9 1167.4,365.5 1164.7,364.1 1162,362.7 1159.4,361.2 1156.7,359.7 1154.1,358.1 1151.5,356.5 1149,354.9 1146.4,353.3 1143.9,351.6 1141.4,349.9 1139,348.2 1136.5,346.4 1134.1,344.6 1131.8,342.7 1129.4,340.9 1127.1,339 1124.9,337 1122.6,335.1 1120.4,333.1 1118.3,331.1 1116.1,329 1114,326.9 1112,324.8 1110,322.7 1108,320.5 1106,318.3 1104.1,316.1 1102.3,313.8 1100.5,311.5 1098.7,309.2 1097,306.9 1095.3,304.5 1093.6,302.2 1092,299.7 1090.4,297.3 1088.8,294.9 1087.3,292.4 1085.8,289.9 1084.4,287.4 1083,284.8 1081.6,282.2 1080.2,279.7 1078.9,277 1077.6,274.4 1076.4,271.8 1075.2,269.1 1074,266.4 1072.8,263.7 1071.7,261 1070.6,258.3 1069.5,255.5 1068.4,252.7 1067.4,250 1066.4,247.2 1065.4,244.3 1064.4,241.5 1063.5,238.7 1062.6,235.8 1061.7,233 1060.8,230.1 1060,227.2 1059.2,224.3 1058.4,221.4 1057.6,218.5 1056.8,215.5 1056.1,212.6 1055.3,209.6 1054.6,206.7 1053.9,203.7 1053.2,200.8 1052.6,197.8 1051.9,194.8 1051.3,191.8 1050.6,188.8 1050,185.8 1049.4,182.8 1048.8,179.8 1048.2,176.8 1047.5,173.9 1046.9,170.9 1046.3,167.9 1045.6,165 1044.9,162 1044.2,159.1 1043.5,156.2 1042.7,153.3 1041.9,150.4 1041.1,147.6 1040.2,144.8 1039.3,142 1038.4,139.2 1037.4,136.5 1036.3,133.8 1035.2,131.1 1034,128.5 1032.8,125.9 1031.5,123.3 1030.1,120.8 1028.7,118.3 1028.2,118.6 1029.5,121.1 1030.6,123.7 1031.7,126.4 1032.7,129.1 1033.6,131.8 1034.4,134.5 1035.3,137.2 1036.2,140 1036.9,142.8 1037.7,145.6 1038.4,148.4 1039.1,151.2 1039.8,154.1 1040.4,157 1041,159.9 1041.6,162.8 1042.1,165.8 1042.7,168.7 1043.2,171.7 1043.6,174.7 1044.1,177.7 1044.5,180.7 1044.9,183.8 1045.3,186.8 1045.7,189.9 1046,192.9 1046.4,196 1046.7,199.1 1047.1,202.2 1047.4,205.3 1047.7,208.4 1048,211.5 1048.3,214.6 1048.6,217.7 1048.8,220.8 1049.1,223.9 1049.4,227 1049.7,230.2 1049.9,233.3 1050.2,236.5 1050.5,239.6 1050.7,242.8 1051,246 1051.3,249.2 1051.6,252.4 1051.9,255.6 1052.3,258.8 1052.8,262 1053.4,265.1 1054.1,268.2 1055,271.3 1056,274.3 1057,277.3 1058.3,280.2 1059.6,283.1 1061,285.9 1062.4,288.8 1063.9,291.6 1065.4,294.4 1067,297.2 1068.5,299.9 1070.2,302.7 1071.8,305.4 1073.5,308.1 1075.3,310.8 1077.1,313.5 1078.9,316.1 1080.8,318.7 1082.7,321.3 1084.7,323.9 1086.7,326.4 1088.8,328.9 1090.9,331.4 1093.1,333.8 1095.3,336.3 1097.5,338.6 1099.8,341 1102.1,343.3 1104.5,345.6 1106.9,347.8 1109.3,350 1111.8,352.2 1114.3,354.3 1116.8,356.4 1119.4,358.4 1122,360.5 1124.6,362.4 1127.3,364.4 1130,366.3 1132.7,368.2 1135.4,370 1138.2,371.8 1141,373.6 1143.8,375.3 1146.7,377 1149.6,378.6 1152.5,380.2 1155.4,381.8 1158.3,383.3 1161.3,384.8 1164.3,386.3 1167.3,387.7 1170.3,389 1173.4,390.4 1176.5,391.7 1179.5,392.9 1182.6,394.1 1185.8,395.3 1188.9,396.4 1192,397.5 1195.2,398.5 1198.4,399.5 1201.6,400.5 1204.8,401.4 1208,402.3 1211.2,403.1 1214.4,403.9 1217.7,404.6 1220.9,405.3 1224.2,406 1227.4,406.6 1230.7,407.2 1234,407.7 1237.2,408.1 1240.5,408.6 1243.8,408.9 1247.1,409.3 1250.4,409.6 1253.7,409.8 1257,410 1260.3,410.1 1263.6,410.2 1266.9,410.3 1270.2,410.2 1273.3,410.2" fill="#5a34fe"/>
<polygon points="1272.9,390.2 1270,390.2 1267,390.3 1264,390.2 1261,390.1 1258,390 1255,389.8 1252,389.6 1249,389.4 1246,389.1 1243,388.7 1239.9,388.3 1236.9,387.9 1233.9,387.4 1231,386.9 1228,386.3 1225,385.7 1222,385.1 1219,384.4 1216,383.7 1213.1,382.9 1210.1,382.1 1207.2,381.3 1204.3,380.4 1201.3,379.5 1198.4,378.5 1195.5,377.5 1192.7,376.5 1189.8,375.4 1186.9,374.3 1184.1,373.2 1181.3,372 1178.5,370.8 1175.7,369.5 1172.9,368.2 1170.2,366.9 1167.4,365.5 1164.7,364.1 1162,362.7 1159.4,361.2 1156.7,359.7 1154.1,358.1 1151.5,356.5 1149,354.9 1146.4,353.3 1143.9,351.6 1141.4,349.9 1139,348.2 1136.5,346.4 1134.1,344.6 1131.8,342.7 1129.4,340.9 1127.1,339 1124.9,337 1122.6,335.1 1120.4,333.1 1118.3,331.1 1116.1,329 1114,326.9 1112,324.8 1110,322.7 1108,320.5 1106,318.3 1104.1,316.1 1102.3,313.8 1100.5,311.5 1098.7,309.2 1097,306.9 1095.3,304.5 1093.6,302.2 1092,299.7 1090.4,297.3 1088.8,294.9 1087.3,292.4 1085.8,289.9 1084.4,287.4 1083,284.8 1081.6,282.2 1080.2,279.7 1078.9,277 1077.6,274.4 1076.4,271.8 1075.2,269.1 1074,266.4 1072.8,263.7 1071.7,261 1070.6,258.3 1069.5,255.5 1068.4,252.7 1067.4,250 1066.4,247.2 1065.4,244.3 1064.4,241.5 1063.5,238.7 1062.6,235.8 1061.7,233 1060.8,230.1 1060,227.2 1059.2,224.3 1058.4,221.4 1057.6,218.5 1056.8,215.5 1056.1,212.6 1055.3,209.6 1054.6,206.7 1053.9,203.7 1053.2,200.8 1052.6,197.8 1051.9,194.8 1051.3,191.8 1050.6,188.8 1050,185.8 1049.4,182.8 1048.8,179.8 1048.2,176.8 1047.5,173.9 1046.9,170.9 1046.3,167.9 1045.6,165 1044.9,162 1044.2,159.1 1043.5,156.2 1042.7,153.3 1041.9,150.4 1041.1,147.6 1040.2,144.8 1039.3,142 1038.4,139.2 1037.4,136.5 1036.3,133.8 1035.2,131.1 1034,128.5 1032.8,125.9 1031.5,123.3 1030.1,120.8 1028.7,118.3 1028.3,118.5 1029.6,121.1 1030.8,123.6 1032,126.3 1033,128.9 1033.9,131.6 1034.8,134.4 1035.8,137.1 1036.6,139.8 1037.5,142.6 1038.3,145.4 1039,148.2 1039.7,151.1 1040.5,153.9 1041.1,156.8 1041.7,159.7 1042.3,162.6 1042.9,165.6 1043.5,168.5 1044,171.5 1044.5,174.5 1045,177.5 1045.5,180.5 1045.9,183.5 1046.4,186.6 1046.8,189.6 1047.2,192.7 1047.6,195.7 1048,198.8 1048.4,201.8 1048.8,204.9 1049.2,208 1049.6,211 1050,214.1 1050.4,217.2 1050.8,220.3 1051.2,223.3 1051.6,226.4 1052,229.5 1052.4,232.6 1052.8,235.7 1053.2,238.8 1053.6,241.9 1054,245 1054.5,248.1 1054.9,251.2 1055.4,254.3 1055.9,257.4 1056.5,260.5 1057.3,263.6 1058.1,266.6 1059,269.6 1060,272.5 1061.1,275.5 1062.3,278.3 1063.7,281.1 1065,283.9 1066.4,286.7 1067.9,289.5 1069.4,292.2 1070.9,295 1072.4,297.7 1074,300.4 1075.7,303 1077.3,305.7 1079.1,308.3 1080.8,310.9 1082.6,313.5 1084.4,316.1 1086.3,318.6 1088.3,321.1 1090.2,323.6 1092.3,326 1094.3,328.5 1096.4,330.8 1098.6,333.2 1100.8,335.5 1103,337.8 1105.3,340.1 1107.6,342.3 1109.9,344.5 1112.3,346.6 1114.7,348.8 1117.2,350.8 1119.7,352.9 1122.2,354.9 1124.7,356.9 1127.3,358.8 1129.9,360.7 1132.5,362.6 1135.2,364.4 1137.9,366.2 1140.6,368 1143.4,369.7 1146.1,371.4 1148.9,373.1 1151.8,374.7 1154.6,376.3 1157.5,377.8 1160.4,379.3 1163.3,380.8 1166.2,382.2 1169.2,383.6 1172.2,384.9 1175.2,386.2 1178.2,387.5 1181.2,388.7 1184.3,389.9 1187.3,391.1 1190.4,392.2 1193.5,393.2 1196.6,394.2 1199.7,395.2 1202.8,396.2 1206,397.1 1209.1,397.9 1212.3,398.7 1215.5,399.5 1218.6,400.2 1221.8,400.9 1225,401.6 1228.2,402.2 1231.4,402.7 1234.6,403.2 1237.9,403.7 1241.1,404.1 1244.3,404.5 1247.5,404.8 1250.8,405.1 1254,405.3 1257.2,405.5 1260.4,405.6 1263.7,405.7 1266.9,405.8 1270.1,405.7 1273.2,405.7" fill="#4e47fd"/>
<polygon points="1272.9,390.2 1270,390.2 1267,390.3 1264,390.2 1261,390.1 1258,390 1255,389.8 1252,389.6 1249,389.4 1246,389.1 1243,388.7 1239.9,388.3 1236.9,387.9 1233.9,387.4 1231,386.9 1228,386.3 1225,385.7 1222,385.1 1219,384.4 1216,383.7 1213.1,382.9 1210.1,382.1 1207.2,381.3 1204.3,380.4 1201.3,379.5 1198.4,378.5 1195.5,377.5 1192.7,376.5 1189.8,375.4 1186.9,374.3 1184.1,373.2 1181.3,372 1178.5,370.8 1175.7,369.5 1172.9,368.2 1170.2,366.9 1167.4,365.5 1164.7,364.1 1162,362.7 1159.4,361.2 1156.7,359.7 1154.1,358.1 1151.5,356.5 1149,354.9 1146.4,353.3 1143.9,351.6 1141.4,349.9 1139,348.2 1136.5,346.4 1134.1,344.6 1131.8,342.7 1129.4,340.9 1127.1,339 1124.9,337 1122.6,335.1 1120.4,333.1 1118.3,331.1 1116.1,329 1114,326.9 1112,324.8 1110,322.7 1108,320.5 1106,318.3 1104.1,316.1 1102.3,313.8 1100.5,311.5 1098.7,309.2 1097,306.9 1095.3,304.5 1093.6,302.2 1092,299.7 1090.4,297.3 1088.8,294.9 1087.3,292.4 1085.8,289.9 1084.4,287.4 1083,284.8 1081.6,282.2 1080.2,279.7 1078.9,277 1077.6,274.4 1076.4,271.8 1075.2,269.1 1074,266.4 1072.8,263.7 1071.7,261 1070.6,258.3 1069.5,255.5 1068.4,252.7 1067.4,250 1066.4,247.2 1065.4,244.3 1064.4,241.5 1063.5,238.7 1062.6,235.8 1061.7,233 1060.8,230.1 1060,227.2 1059.2,224.3 1058.4,221.4 1057.6,218.5 1056.8,215.5 1056.1,212.6 1055.3,209.6 1054.6,206.7 1053.9,203.7 1053.2,200.8 1052.6,197.8 1051.9,194.8 1051.3,191.8 1050.6,188.8 1050,185.8 1049.4,182.8 1048.8,179.8 1048.2,176.8 1047.5,173.9 1046.9,170.9 1046.3,167.9 1045.6,165 1044.9,162 1044.2,159.1 1043.5,156.2 1042.7,153.3 1041.9,150.4 1041.1,147.6 1040.2,144.8 1039.3,142 1038.4,139.2 1037.4,136.5 1036.3,133.8 1035.2,131.1 1034,128.5 1032.8,125.9 1031.5,123.3 1030.1,120.8 1028.7,118.3 1028.4,118.5 1029.8,121 1031,123.6 1032.2,126.2 1033.2,128.8 1034.3,131.5 1035.2,134.2 1036.2,136.9 1037.1,139.7 1038,142.4 1038.8,145.2 1039.6,148 1040.3,150.9 1041,153.8 1041.7,156.6 1042.4,159.6 1043,162.5 1043.6,165.4 1044.2,168.4 1044.7,171.4 1045.3,174.3 1045.8,177.3 1046.3,180.3 1046.8,183.4 1047.3,186.4 1047.8,189.4 1048.3,192.5 1048.7,195.5 1049.2,198.5 1049.7,201.6 1050.2,204.6 1050.6,207.6 1051.1,210.7 1051.6,213.7 1052.1,216.8 1052.6,219.8 1053,222.8 1053.5,225.9 1054.1,228.9 1054.6,231.9 1055.1,235 1055.6,238 1056.2,241.1 1056.7,244.1 1057.3,247.1 1057.9,250.2 1058.5,253.2 1059.1,256.2 1059.9,259.2 1060.7,262.2 1061.6,265.2 1062.6,268.1 1063.6,271 1064.7,273.8 1066,276.6 1067.3,279.4 1068.6,282.2 1070,284.9 1071.4,287.6 1072.9,290.3 1074.4,293 1075.9,295.7 1077.5,298.3 1079.1,300.9 1080.7,303.5 1082.4,306.1 1084.1,308.7 1085.9,311.2 1087.7,313.7 1089.5,316.2 1091.4,318.6 1093.3,321.1 1095.3,323.5 1097.4,325.8 1099.4,328.2 1101.5,330.5 1103.7,332.8 1105.9,335 1108.1,337.2 1110.3,339.4 1112.6,341.5 1115,343.7 1117.3,345.7 1119.7,347.8 1122.2,349.8 1124.6,351.8 1127.1,353.7 1129.7,355.6 1132.2,357.5 1134.8,359.3 1137.4,361.1 1140.1,362.9 1142.8,364.6 1145.5,366.3 1148.2,368 1151,369.6 1153.7,371.2 1156.5,372.7 1159.4,374.3 1162.2,375.7 1165.1,377.2 1168,378.6 1170.9,379.9 1173.8,381.3 1176.7,382.5 1179.7,383.8 1182.7,385 1185.7,386.2 1188.7,387.3 1191.7,388.4 1194.8,389.4 1197.8,390.4 1200.9,391.4 1204,392.3 1207,393.2 1210.1,394.1 1213.3,394.9 1216.4,395.6 1219.5,396.3 1222.6,397 1225.8,397.6 1228.9,398.2 1232.1,398.8 1235.2,399.3 1238.4,399.7 1241.6,400.1 1244.7,400.5 1247.9,400.8 1251.1,401.1 1254.2,401.3 1257.4,401.5 1260.6,401.6 1263.7,401.7 1266.9,401.8 1270.1,401.7 1273.1,401.7" fill="#405dfa"/>
<polygon points="1272.9,390.2 1270,390.2 1267,390.3 1264,390.2 1261,390.1 1258,390 1255,389.8 1252,389.6 1249,389.4 1246,389.1 1243,388.7 1239.9,388.3 1236.9,387.9 1233.9,387.4 1231,386.9 1228,386.3 1225,385.7 1222,385.1 1219,384.4 1216,383.7 1213.1,382.9 1210.1,382.1 1207.2,381.3 1204.3,380.4 1201.3,379.5 1198.4,378.5 1195.5,377.5 1192.7,376.5 1189.8,375.4 1186.9,374.3 1184.1,373.2 1181.3,372 1178.5,370.8 1175.7,369.5 1172.9,368.2 1170.2,366.9 1167.4,365.5 1164.7,364.1 1162,362.7 1159.4,361.2 1156.7,359.7 1154.1,358.1 1151.5,356.5 1149,354.9 1146.4,353.3 1143.9,351.6 1141.4,349.9 1139,348.2 1136.5,346.4 1134.1,344.6 1131.8,342.7 1129.4,340.9 1127.1,339 1124.9,337 1122.6,335.1 1120.4,333.1 1118.3,331.1 1116.1,329 1114,326.9 1112,324.8 1110,322.7 1108,320.5 1106,318.3 1104.1,316.1 1102.3,313.8 1100.5,311.5 1098.7,309.2 1097,306.9 1095.3,304.5 1093.6,302.2 1092,299.7 1090.4,297.3 1088.8,294.9 1087.3,292.4 1085.8,289.9 1084.4,287.4 1083,284.8 1081.6,282.2 1080.2,279.7 1078.9,277 1077.6,274.4 1076.4,271.8 1075.2,269.1 1074,266.4 1072.8,263.7 1071.7,261 1070.6,258.3 1069.5,255.5 1068.4,252.7 1067.4,250 1066.4,247.2 1065.4,244.3 1064.4,241.5 1063.5,238.7 1062.6,235.8 1061.7,233 1060.8,230.1 1060,227.2 1059.2,224.3 1058.4,221.4 1057.6,218.5 1056.8,215.5 1056.1,212.6 1055.3,209.6 1054.6,206.7 1053.9,203.7 1053.2,200.8 1052.6,197.8 1051.9,194.8 1051.3,191.8 1050.6,188.8 1050,185.8 1049.4,182.8 1048.8,179.8 1048.2,176.8 1047.5,173.9 1046.9,170.9 1046.3,167.9 1045.6,165 1044.9,162 1044.2,159.1 1043.5,156.2 1042.7,153.3 1041.9,150.4 1041.1,147.6 1040.2,144.8 1039.3,142 1038.4,139.2 1037.4,136.5 1036.3,133.8 1035.2,131.1 1034,128.5 1032.8,125.9 1031.5,123.3 1030.1,120.8 1028.7,118.3 1028.5,118.4 1029.9,120.9 1031.1,123.5 1032.3,126.1 1033.4,128.7 1034.5,131.4 1035.5,134.1 1036.5,136.8 1037.4,139.5 1038.3,142.3 1039.1,145.1 1040,147.9 1040.7,150.8 1041.5,153.6 1042.2,156.5 1042.9,159.4 1043.5,162.4 1044.1,165.3 1044.7,168.3 1045.3,171.2 1045.9,174.2 1046.4,177.2 1047,180.2 1047.5,183.2 1048,186.2 1048.5,189.3 1049,192.3 1049.6,195.3 1050.1,198.3 1050.6,201.4 1051.1,204.4 1051.7,207.4 1052.2,210.4 1052.8,213.4 1053.3,216.4 1053.9,219.4 1054.4,222.5 1055,225.5 1055.6,228.5 1056.2,231.5 1056.8,234.5 1057.4,237.4 1058.1,240.4 1058.7,243.4 1059.4,246.4 1060.1,249.4 1060.8,252.4 1061.6,255.3 1062.4,258.3 1063.3,261.2 1064.2,264.1 1065.2,266.9 1066.3,269.8 1067.5,272.6 1068.7,275.4 1070,278.1 1071.3,280.8 1072.7,283.5 1074.1,286.2 1075.5,288.9 1077,291.5 1078.5,294.2 1080,296.8 1081.6,299.3 1083.2,301.9 1084.9,304.4 1086.6,307 1088.3,309.5 1090.1,311.9 1091.9,314.4 1093.8,316.8 1095.7,319.2 1097.6,321.5 1099.6,323.9 1101.6,326.2 1103.7,328.4 1105.8,330.7 1108,332.9 1110.2,335.1 1112.4,337.2 1114.7,339.3 1117,341.4 1119.3,343.5 1121.7,345.5 1124.1,347.5 1126.5,349.4 1129,351.3 1131.5,353.2 1134,355.1 1136.5,356.9 1139.1,358.6 1141.7,360.4 1144.4,362.1 1147.1,363.8 1149.7,365.4 1152.5,367 1155.2,368.6 1158,370.1 1160.8,371.6 1163.6,373.1 1166.4,374.5 1169.3,375.9 1172.1,377.2 1175,378.5 1177.9,379.8 1180.8,381 1183.8,382.2 1186.8,383.4 1189.7,384.5 1192.7,385.6 1195.7,386.6 1198.7,387.6 1201.8,388.5 1204.8,389.5 1207.9,390.3 1210.9,391.2 1214,392 1217.1,392.7 1220.1,393.4 1223.2,394.1 1226.3,394.7 1229.5,395.3 1232.6,395.8 1235.7,396.3 1238.8,396.7 1241.9,397.2 1245,397.5 1248.2,397.8 1251.3,398.1 1254.4,398.3 1257.6,398.5 1260.7,398.6 1263.8,398.7 1266.9,398.8 1270,398.7 1273.1,398.7" fill="#3176f6"/>
<polygon points="1272.9,390.2 1270,390.2 1267,390.3 1264,390.2 1261,390.1 1258,390 1255,389.8 1252,389.6 1249,389.4 1246,389.1 1243,388.7 1239.9,388.3 1236.9,387.9 1233.9,387.4 1231,386.9 1228,386.3 1225,385.7 1222,385.1 1219,384.4 1216,383.7 1213.1,382.9 1210.1,382.1 1207.2,381.3 1204.3,380.4 1201.3,379.5 1198.4,378.5 1195.5,377.5 1192.7,376.5 1189.8,375.4 1186.9,374.3 1184.1,373.2 1181.3,372 1178.5,370.8 1175.7,369.5 1172.9,368.2 1170.2,366.9 1167.4,365.5 1164.7,364.1 1162,362.7 1159.4,361.2 1156.7,359.7 1154.1,358.1 1151.5,356.5 1149,354.9 1146.4,353.3 1143.9,351.6 1141.4,349.9 1139,348.2 1136.5,346.4 1134.1,344.6 1131.8,342.7 1129.4,340.9 1127.1,339 1124.9,337 1122.6,335.1 1120.4,333.1 1118.3,331.1 1116.1,329 1114,326.9 1112,324.8 1110,322.7 1108,320.5 1106,318.3 1104.1,316.1 1102.3,313.8 1100.5,311.5 1098.7,309.2 1097,306.9 1095.3,304.5 1093.6,302.2 1092,299.7 1090.4,297.3 1088.8,294.9 1087.3,292.4 1085.8,289.9 1084.4,287.4 1083,284.8 1081.6,282.2 1080.2,279.7 1078.9,277 1077.6,274.4 1076.4,271.8 1075.2,269.1 1074,266.4 1072.8,263.7 1071.7,261 1070.6,258.3 1069.5,255.5 1068.4,252.7 1067.4,250 1066.4,247.2 1065.4,244.3 1064.4,241.5 1063.5,238.7 1062.6,235.8 1061.7,233 1060.8,230.1 1060,227.2 1059.2,224.3 1058.4,221.4 1057.6,218.5 1056.8,215.5 1056.1,212.6 1055.3,209.6 1054.6,206.7 1053.9,203.7 1053.2,200.8 1052.6,197.8 1051.9,194.8 1051.3,191.8 1050.6,188.8 1050,185.8 1049.4,182.8 1048.8,179.8 1048.2,176.8 1047.5,173.9 1046.9,170.9 1046.3,167.9 1045.6,165 1044.9,162 1044.2,159.1 1043.5,156.2 1042.7,153.3 1041.9,150.4 1041.1,147.6 1040.2,144.8 1039.3,142 1038.4,139.2 1037.4,136.5 1036.3,133.8 1035.2,131.1 1034,128.5 1032.8,125.9 1031.5,123.3 1030.1,120.8 1028.7,118.3 1028.5,118.4 1029.9,120.9 1031.2,123.4 1032.5,126 1033.6,128.6 1034.7,131.3 1035.7,134 1036.7,136.7 1037.7,139.4 1038.6,142.2 1039.5,145 1040.3,147.8 1041.1,150.7 1041.8,153.5 1042.6,156.4 1043.3,159.3 1043.9,162.3 1044.6,165.2 1045.2,168.2 1045.8,171.1 1046.4,174.1 1046.9,177.1 1047.5,180.1 1048.1,183.1 1048.6,186.1 1049.2,189.1 1049.7,192.1 1050.3,195.2 1050.8,198.2 1051.4,201.2 1052,204.2 1052.5,207.2 1053.1,210.2 1053.7,213.2 1054.3,216.2 1055,219.2 1055.6,222.1 1056.2,225.1 1056.9,228.1 1057.6,231.1 1058.3,234 1059,237 1059.7,239.9 1060.4,242.9 1061.2,245.8 1061.9,248.7 1062.7,251.7 1063.6,254.6 1064.5,257.5 1065.4,260.3 1066.4,263.2 1067.5,266 1068.6,268.8 1069.7,271.6 1071,274.3 1072.2,277 1073.6,279.7 1074.9,282.4 1076.3,285 1077.7,287.7 1079.2,290.3 1080.6,292.9 1082.2,295.5 1083.7,298 1085.3,300.6 1087,303.1 1088.6,305.6 1090.4,308 1092.1,310.4 1093.9,312.9 1095.7,315.2 1097.6,317.6 1099.5,319.9 1101.5,322.2 1103.5,324.5 1105.6,326.7 1107.6,329 1109.8,331.1 1111.9,333.3 1114.1,335.4 1116.4,337.5 1118.6,339.5 1120.9,341.6 1123.3,343.6 1125.6,345.5 1128,347.4 1130.5,349.3 1133,351.2 1135.5,353 1138,354.8 1140.5,356.6 1143.1,358.3 1145.7,360 1148.4,361.6 1151,363.3 1153.7,364.9 1156.4,366.4 1159.2,367.9 1161.9,369.4 1164.7,370.8 1167.5,372.2 1170.3,373.6 1173.2,374.9 1176,376.2 1178.9,377.5 1181.8,378.7 1184.7,379.9 1187.6,381 1190.6,382.1 1193.5,383.2 1196.5,384.2 1199.5,385.2 1202.5,386.2 1205.5,387.1 1208.5,387.9 1211.6,388.7 1214.6,389.5 1217.6,390.3 1220.7,391 1223.8,391.6 1226.8,392.2 1229.9,392.8 1233,393.3 1236.1,393.8 1239.1,394.3 1242.2,394.7 1245.3,395 1248.4,395.3 1251.5,395.6 1254.6,395.8 1257.7,396 1260.8,396.1 1263.9,396.2 1266.9,396.3 1270,396.2 1273,396.2" fill="#2393f1"/>
<polygon points="1272.9,390.2 1270,390.2 1267,390.3 1264,390.2 1261,390.1 1258,390 1255,389.8 1252,389.6 1249,389.4 1246,389.1 1243,388.7 1239.9,388.3 1236.9,387.9 1233.9,387.4 1231,386.9 1228,386.3 1225,385.7 1222,385.1 1219,384.4 1216,383.7 1213.1,382.9 1210.1,382.1 1207.2,381.3 1204.3,380.4 1201.3,379.5 1198.4,378.5 1195.5,377.5 1192.7,376.5 1189.8,375.4 1186.9,374.3 1184.1,373.2 1181.3,372 1178.5,370.8 1175.7,369.5 1172.9,368.2 1170.2,366.9 1167.4,365.5 1164.7,364.1 1162,362.7 1159.4,361.2 1156.7,359.7 1154.1,358.1 1151.5,356.5 1149,354.9 1146.4,353.3 1143.9,351.6 1141.4,349.9 1139,348.2 1136.5,346.4 1134.1,344.6 1131.8,342.7 1129.4,340.9 1127.1,339 1124.9,337 1122.6,335.1 1120.4,333.1 1118.3,331.1 1116.1,329 1114,326.9 1112,324.8 1110,322.7 1108,320.5 1106,318.3 1104.1,316.1 1102.3,313.8 1100.5,311.5 1098.7,309.2 1097,306.9 1095.3,304.5 1093.6,302.2 1092,299.7 1090.4,297.3 1088.8,294.9 1087.3,292.4 1085.8,289.9 1084.4,287.4 1083,284.8 1081.6,282.2 1080.2,279.7 1078.9,277 1077.6,274.4 1076.4,271.8 1075.2,269.1 1074,266.4 1072.8,263.7 1071.7,261 1070.6,258.3 1069.5,255.5 1068.4,252.7 1067.4,250 1066.4,247.2 1065.4,244.3 1064.4,241.5 1063.5,238.7 1062.6,235.8 1061.7,233 1060.8,230.1 1060,227.2 1059.2,224.3 1058.4,221.4 1057.6,218.5 1056.8,215.5 1056.1,212.6 1055.3,209.6 1054.6,206.7 1053.9,203.7 1053.2,200.8 1052.6,197.8 1051.9,194.8 1051.3,191.8 1050.6,188.8 1050,185.8 1049.4,182.8 1048.8,179.8 1048.2,176.8 1047.5,173.9 1046.9,170.9 1046.3,167.9 1045.6,165 1044.9,162 1044.2,159.1 1043.5,156.2 1042.7,153.3 1041.9,150.4 1041.1,147.6 1040.2,144.8 1039.3,142 1038.4,139.2 1037.4,136.5 1036.3,133.8 1035.2,131.1 1034,128.5 1032.8,125.9 1031.5,123.3 1030.1,120.8 1028.7,118.3 1028.6,118.4 1030,120.9 1031.3,123.4 1032.6,126 1033.7,128.6 1034.8,131.2 1035.9,133.9 1036.9,136.6 1037.9,139.4 1038.8,142.1 1039.7,144.9 1040.5,147.8 1041.3,150.6 1042.1,153.5 1042.8,156.4 1043.5,159.3 1044.2,162.2 1044.9,165.1 1045.5,168.1 1046.1,171.1 1046.7,174 1047.3,177 1047.9,180 1048.5,183 1049,186 1049.6,189 1050.2,192 1050.8,195 1051.3,198.1 1051.9,201.1 1052.5,204 1053.2,207 1053.8,210 1054.4,213 1055.1,216 1055.7,218.9 1056.4,221.9 1057.1,224.9 1057.8,227.8 1058.6,230.8 1059.3,233.7 1060.1,236.6 1060.8,239.5 1061.6,242.5 1062.4,245.4 1063.3,248.3 1064.1,251.1 1065,254 1066,256.9 1067,259.7 1068,262.5 1069.1,265.3 1070.2,268.1 1071.4,270.8 1072.6,273.5 1073.9,276.2 1075.2,278.9 1076.5,281.6 1077.9,284.2 1079.3,286.8 1080.7,289.4 1082.2,292 1083.7,294.5 1085.3,297.1 1086.8,299.6 1088.5,302.1 1090.1,304.5 1091.8,307 1093.6,309.4 1095.3,311.8 1097.2,314.1 1099,316.5 1100.9,318.8 1102.9,321 1104.8,323.3 1106.9,325.5 1108.9,327.7 1111,329.9 1113.2,332 1115.4,334.1 1117.6,336.2 1119.8,338.2 1122.1,340.2 1124.4,342.2 1126.8,344.1 1129.2,346 1131.6,347.9 1134,349.8 1136.5,351.6 1139,353.3 1141.5,355.1 1144.1,356.8 1146.7,358.5 1149.3,360.1 1152,361.7 1154.6,363.3 1157.3,364.8 1160,366.3 1162.8,367.8 1165.5,369.2 1168.3,370.6 1171.1,372 1173.9,373.3 1176.8,374.6 1179.6,375.8 1182.5,377 1185.4,378.2 1188.3,379.4 1191.2,380.4 1194.1,381.5 1197.1,382.5 1200.1,383.5 1203,384.4 1206,385.3 1209,386.2 1212,387 1215,387.8 1218,388.5 1221.1,389.2 1224.1,389.9 1227.2,390.5 1230.2,391 1233.3,391.6 1236.3,392 1239.4,392.5 1242.4,392.9 1245.5,393.2 1248.6,393.5 1251.6,393.8 1254.7,394 1257.8,394.2 1260.8,394.3 1263.9,394.4 1266.9,394.5 1270,394.4 1273,394.4" fill="#1cb4ea"/>
<polygon points="1272.9,390.2 1270,390.2 1267,390.3 1264,390.2 1261,390.1 1258,390 1255,389.8 1252,389.6 1249,389.4 1246,389.1 1243,388.7 1239.9,388.3 1236.9,387.9 1233.9,387.4 1231,386.9 1228,386.3 1225,385.7 1222,385.1 1219,384.4 1216,383.7 1213.1,382.9 1210.1,382.1 1207.2,381.3 1204.3,380.4 1201.3,379.5 1198.4,378.5 1195.5,377.5 1192.7,376.5 1189.8,375.4 1186.9,374.3 1184.1,373.2 1181.3,372 1178.5,370.8 1175.7,369.5 1172.9,368.2 1170.2,366.9 1167.4,365.5 1164.7,364.1 1162,362.7 1159.4,361.2 1156.7,359.7 1154.1,358.1 1151.5,356.5 1149,354.9 1146.4,353.3 1143.9,351.6 1141.4,349.9 1139,348.2 1136.5,346.4 1134.1,344.6 1131.8,342.7 1129.4,340.9 1127.1,339 1124.9,337 1122.6,335.1 1120.4,333.1 1118.3,331.1 1116.1,329 1114,326.9 1112,324.8 1110,322.7 1108,320.5 1106,318.3 1104.1,316.1 1102.3,313.8 1100.5,311.5 1098.7,309.2 1097,306.9 1095.3,304.5 1093.6,302.2 1092,299.7 1090.4,297.3 1088.8,294.9 1087.3,292.4 1085.8,289.9 1084.4,287.4 1083,284.8 1081.6,282.2 1080.2,279.7 1078.9,277 1077.6,274.4 1076.4,271.8 1075.2,269.1 1074,266.4 1072.8,263.7 1071.7,261 1070.6,258.3 1069.5,255.5 1068.4,252.7 1067.4,250 1066.4,247.2 1065.4,244.3 1064.4,241.5 1063.5,238.7 1062.6,235.8 1061.7,233 1060.8,230.1 1060,227.2 1059.2,224.3 1058.4,221.4 1057.6,218.5 1056.8,215.5 1056.1,212.6 1055.3,209.6 1054.6,206.7 1053.9,203.7 1053.2,200.8 1052.6,197.8 1051.9,194.8 1051.3,191.8 1050.6,188.8 1050,185.8 1049.4,182.8 1048.8,179.8 1048.2,176.8 1047.5,173.9 1046.9,170.9 1046.3,167.9 1045.6,165 1044.9,162 1044.2,159.1 1043.5,156.2 1042.7,153.3 1041.9,150.4 1041.1,147.6 1040.2,144.8 1039.3,142 1038.4,139.2 1037.4,136.5 1036.3,133.8 1035.2,131.1 1034,128.5 1032.8,125.9 1031.5,123.3 1030.1,120.8 1028.7,118.3 1028.6,118.3 1030,120.8 1031.4,123.4 1032.6,125.9 1033.8,128.5 1035,131.2 1036,133.9 1037.1,136.6 1038.1,139.3 1039,142.1 1039.9,144.9 1040.7,147.7 1041.5,150.5 1042.3,153.4 1043,156.3 1043.8,159.2 1044.4,162.1 1045.1,165.1 1045.8,168 1046.4,171 1047,174 1047.6,177 1048.2,180 1048.8,183 1049.4,186 1049.9,189 1050.5,192 1051.1,195 1051.8,198 1052.4,201 1053,203.9 1053.6,206.9 1054.3,209.9 1055,212.9 1055.7,215.8 1056.4,218.8 1057.1,221.7 1057.8,224.7 1058.6,227.6 1059.3,230.5 1060.1,233.5 1060.9,236.4 1061.7,239.3 1062.6,242.1 1063.4,245 1064.3,247.9 1065.2,250.7 1066.2,253.6 1067.1,256.4 1068.2,259.2 1069.2,262 1070.3,264.8 1071.4,267.5 1072.6,270.3 1073.9,273 1075.1,275.6 1076.4,278.3 1077.8,280.9 1079.1,283.6 1080.5,286.2 1081.9,288.7 1083.4,291.3 1084.9,293.8 1086.4,296.3 1088,298.8 1089.6,301.3 1091.3,303.7 1093,306.2 1094.7,308.6 1096.5,310.9 1098.3,313.3 1100.1,315.6 1102,317.9 1103.9,320.1 1105.9,322.4 1107.9,324.6 1109.9,326.7 1112,328.9 1114.2,331 1116.3,333.1 1118.5,335.1 1120.8,337.2 1123,339.1 1125.3,341.1 1127.7,343 1130,344.9 1132.4,346.8 1134.9,348.6 1137.3,350.4 1139.8,352.2 1142.3,353.9 1144.9,355.6 1147.5,357.3 1150.1,358.9 1152.7,360.5 1155.3,362.1 1158,363.6 1160.7,365.1 1163.4,366.6 1166.2,368 1168.9,369.4 1171.7,370.7 1174.5,372 1177.3,373.3 1180.2,374.6 1183,375.8 1185.9,376.9 1188.8,378 1191.7,379.1 1194.6,380.2 1197.5,381.2 1200.5,382.2 1203.4,383.1 1206.4,384 1209.4,384.8 1212.4,385.7 1215.4,386.4 1218.4,387.2 1221.4,387.8 1224.4,388.5 1227.4,389.1 1230.5,389.7 1233.5,390.2 1236.5,390.7 1239.6,391.1 1242.6,391.5 1245.7,391.8 1248.7,392.2 1251.8,392.4 1254.8,392.6 1257.8,392.8 1260.9,392.9 1263.9,393 1267,393.1 1270,393 1273,393" fill="#27d6e0"/>
<polyline points="934.2,44.1 936.3,46.1 938.5,48.1 940.7,50.1 943,52.1 945.3,54.1 947.6,56.1 949.9,58.2 952.3,60.2 954.6,62.2 957,64.2 959.4,66.3 961.8,68.3 964.2,70.4 966.6,72.4 969,74.5 971.4,76.6 973.8,78.7 976.2,80.9 978.5,83 980.8,85.2 983.1,87.4 985.4,89.6 987.6,91.8 989.8,94.1 992,96.3 994.1,98.7 996.2,101 998.2,103.4 1000.2,105.8 1002.1,108.2 1004,110.6 1005.8,113.1 1007.5,115.7 1009.2,118.2 1010.8,120.8 1012.3,123.5 1013.7,126.1 1015.1,128.8 1016.3,131.6 1017.5,134.4 1018.6,137.2 1019.6,140.1 1020.6,143 1021.4,146 1022.2,148.9 1022.9,151.9 1023.5,154.9 1024,157.9 1024.5,161 1024.9,164 1025.2,167.1 1025.5,170.2 1025.7,173.3 1025.8,176.4 1025.9,179.5 1025.9,182.6 1025.8,185.6 1025.7,188.7 1025.6,191.8 1025.4,194.9 1025.1,198 1024.8,201 1024.4,204.1 1024,207.1 1023.5,210.2 1023,213.3 1022.4,216.3 1021.8,219.3 1021.2,222.4 1020.6,225.4 1019.9,228.4" fill="none" stroke="#8614f4" stroke-width="6.5"/>
<polyline points="1047.5,173.9 1046.9,170.9 1046.3,167.9 1045.6,165 1044.9,162 1044.2,159.1 1043.5,156.2 1042.7,153.3 1041.9,150.4 1041.1,147.6 1040.2,144.8 1039.3,142 1038.4,139.2 1037.4,136.5 1036.3,133.8 1035.2,131.1 1034,128.5 1032.8,125.9 1031.5,123.3 1030.1,120.8 1028.7,118.3" fill="none" stroke="#3a0a8a" stroke-width="7" stroke-dasharray="14 5" opacity="0.9"/>
</g>
<polyline points="1029,121.9 1030.1,125.2 1031.2,128.5 1032.2,131.9 1033.2,135.2 1034.1,138.6 1035,141.9 1035.8,145.3 1036.6,148.6 1037.3,152 1038,155.3 1038.6,158.7 1039.2,162.1 1039.7,165.5 1040.2,168.9 1040.7,172.2 1041.1,175.6 1041.4,179 1041.7,182.4 1042,185.8 1042.2,189.2 1042.4,192.6 1042.5,196 1042.6,199.4 1042.7,202.8 1042.7,206.2 1042.7,209.5 1042.6,212.9 1042.5,216.3 1042.3,219.7 1042.1,223.1 1041.9,226.5 1041.6,229.8 1041.3,233.2 1040.9,236.6 1040.6,240 1040.1,243.3 1039.7,246.7 1039.2,250 1038.6,253.4 1038,256.7 1037.4,260 1036.8,263.4 1036.1,266.7 1035.4,270 1034.7,273.3 1033.9,276.6 1033.2,280 1032.4,283.3 1031.5,286.6 1030.7,289.9 1029.8,293.2 1028.9,296.4 1028,299.7 1027.1,303 1026.2,306.3 1025.2,309.6 1024.3,312.9 1023.3,316.2 1022.4,319.4 1021.4,322.7 1020.4,326 1019.4,329.3 1018.4,332.5 1017.4,335.8 1016.4,339.1 1015.5,342.4 1014.5,345.6 1013.5,348.9 1012.5,352.2 1011.6,355.5 1010.6,358.8 1009.7,362.1 1008.7,365.3 1007.8,368.6 1006.9,371.9 1006,375.2 1005.2,378.5 1004.3,381.8 1003.5,385.1 1002.7,388.4 1001.9,391.7 1001.1,395 1000.4,398.4 999.7,401.7 999,405 998.4,408.3 997.8,411.7 997.2,415 996.6,418.4 996.1,421.7 995.7,425.1 995.2,428.4 994.9,431.8 994.5,435.2 994.2,438.6 994,441.9 993.7,445.3 993.6,448.8 993.5,452.2 993.4,455.6 993.4,459 993.4,462.4 993.5,465.9" fill="none" stroke="#14043a" stroke-width="2.1" stroke-dasharray="7 5"/>
<polyline points="1272.9,390.2 1270,390.2 1267,390.3 1264,390.2 1261,390.1 1258,390 1255,389.8 1252,389.6 1249,389.4 1246,389.1 1243,388.7 1239.9,388.3 1236.9,387.9 1233.9,387.4 1231,386.9 1228,386.3 1225,385.7 1222,385.1 1219,384.4 1216,383.7 1213.1,382.9 1210.1,382.1 1207.2,381.3 1204.3,380.4 1201.3,379.5 1198.4,378.5 1195.5,377.5 1192.7,376.5 1189.8,375.4 1186.9,374.3 1184.1,373.2 1181.3,372 1178.5,370.8 1175.7,369.5 1172.9,368.2 1170.2,366.9 1167.4,365.5 1164.7,364.1 1162,362.7 1159.4,361.2 1156.7,359.7 1154.1,358.1 1151.5,356.5 1149,354.9 1146.4,353.3 1143.9,351.6 1141.4,349.9 1139,348.2 1136.5,346.4 1134.1,344.6 1131.8,342.7 1129.4,340.9 1127.1,339 1124.9,337 1122.6,335.1 1120.4,333.1 1118.3,331.1 1116.1,329 1114,326.9 1112,324.8 1110,322.7 1108,320.5 1106,318.3 1104.1,316.1 1102.3,313.8 1100.5,311.5 1098.7,309.2 1097,306.9 1095.3,304.5 1093.6,302.2 1092,299.7 1090.4,297.3 1088.8,294.9 1087.3,292.4 1085.8,289.9 1084.4,287.4 1083,284.8 1081.6,282.2 1080.2,279.7 1078.9,277 1077.6,274.4 1076.4,271.8 1075.2,269.1 1074,266.4 1072.8,263.7 1071.7,261 1070.6,258.3 1069.5,255.5 1068.4,252.7 1067.4,250 1066.4,247.2 1065.4,244.3 1064.4,241.5 1063.5,238.7 1062.6,235.8 1061.7,233 1060.8,230.1 1060,227.2 1059.2,224.3 1058.4,221.4 1057.6,218.5 1056.8,215.5 1056.1,212.6 1055.3,209.6 1054.6,206.7 1053.9,203.7 1053.2,200.8 1052.6,197.8 1051.9,194.8 1051.3,191.8 1050.6,188.8 1050,185.8 1049.4,182.8 1048.8,179.8 1048.2,176.8 1047.5,173.9 1046.9,170.9 1046.3,167.9 1045.6,165 1044.9,162 1044.2,159.1 1043.5,156.2 1042.7,153.3 1041.9,150.4 1041.1,147.6 1040.2,144.8 1039.3,142 1038.4,139.2 1037.4,136.5 1036.3,133.8 1035.2,131.1 1034,128.5 1032.8,125.9 1031.5,123.3 1030.1,120.8 1028.7,118.3" fill="none" stroke="#101418" stroke-width="1.8" stroke-dasharray="6 2.5"/>
<polyline points="1024.5,161 1024.9,164 1025.2,167.1 1025.5,170.2 1025.7,173.3 1025.8,176.4 1025.9,179.5 1025.9,182.6 1025.8,185.6 1025.7,188.7 1025.6,191.8 1025.4,194.9 1025.1,198 1024.8,201 1024.4,204.1 1024,207.1 1023.5,210.2 1023,213.3 1022.4,216.3 1021.8,219.3 1021.2,222.4 1020.6,225.4 1019.9,228.4 1019.1,231.5 1018.4,234.5" fill="none" stroke="#2a0670" stroke-width="2" stroke-dasharray="6 5" transform="translate(1.5 0)"/>
</g>
<g transform="translate(2534.6 0) scale(-1 1)"><g>
<g clip-path="url(#bodyB)">
<polygon points="1048.2,176.8 1047.5,173.9 1046.9,170.9 1046.3,167.9 1045.6,165 1044.9,162 1044.2,159.1 1043.5,156.2 1042.7,153.3 1041.9,150.4 1041.1,147.6 1040.2,144.8 1039.3,142 1038.4,139.2 1037.4,136.5 1036.3,133.8 1035.2,131.1 1034,128.5 1032.8,125.9 1031.5,123.3 1030.1,120.8 1028.7,118.3 1027.2,115.9 1025.6,113.5 1023.9,111.2 1022.1,108.9 1020.3,106.6 1018.4,104.5 1016.4,102.3 1014.4,100.2 1012.3,98.1 1010.2,96.1 1008,94.1 1005.7,92.1 1003.4,90.1 1001.1,88.2 998.7,86.3 996.4,84.4 993.9,82.6 991.5,80.7 989,78.9 986.6,77.1 984.1,75.3 981.6,73.5 979.1,71.7 976.6,69.9 974.1,68.1 971.6,66.3 969.2,64.5 966.7,62.8 964.3,61 961.9,59.2 959.5,57.3 957.2,55.5 954.9,53.7 952.7,51.8 950.5,49.9 948.3,48 946.2,46.1 944.2,44.1 923.4,65.8 925.7,68 928.2,70.3 930.8,72.6 933.4,74.8 936,76.9 938.6,79 941.2,81.1 943.8,83 946.4,85 948.9,86.9 951.5,88.8 954.1,90.7 956.6,92.5 959.1,94.3 961.6,96.1 964.1,97.8 966.5,99.6 968.9,101.3 971.2,103 973.5,104.7 975.8,106.4 977.9,108.1 980.1,109.8 982.1,111.4 984.1,113.1 986.1,114.7 987.9,116.4 989.7,118 991.4,119.6 993,121.2 994.6,122.8 996,124.4 997.4,126 998.6,127.5 999.8,129.1 1000.9,130.6 1002,132.2 1003,133.8 1004,135.5 1004.9,137.3 1005.9,139.1 1006.8,141 1007.6,142.9 1008.5,145 1009.3,147.1 1010.1,149.3 1010.9,151.5 1011.6,153.8 1012.3,156.2 1013.1,158.6 1013.7,161.1 1014.4,163.7 1015.1,166.3 1015.7,168.9 1016.3,171.7 1017,174.4 1017.6,177.2 1018.2,180.1 1018.8,183" fill="url(#gCurt)"/>
<polygon points="1272.9,390.2 1270,390.2 1267,390.3 1264,390.2 1261,390.1 1258,390 1255,389.8 1252,389.6 1249,389.4 1246,389.1 1243,388.7 1239.9,388.3 1236.9,387.9 1233.9,387.4 1231,386.9 1228,386.3 1225,385.7 1222,385.1 1219,384.4 1216,383.7 1213.1,382.9 1210.1,382.1 1207.2,381.3 1204.3,380.4 1201.3,379.5 1198.4,378.5 1195.5,377.5 1192.7,376.5 1189.8,375.4 1186.9,374.3 1184.1,373.2 1181.3,372 1178.5,370.8 1175.7,369.5 1172.9,368.2 1170.2,366.9 1167.4,365.5 1164.7,364.1 1162,362.7 1159.4,361.2 1156.7,359.7 1154.1,358.1 1151.5,356.5 1149,354.9 1146.4,353.3 1143.9,351.6 1141.4,349.9 1139,348.2 1136.5,346.4 1134.1,344.6 1131.8,342.7 1129.4,340.9 1127.1,339 1124.9,337 1122.6,335.1 1120.4,333.1 1118.3,331.1 1116.1,329 1114,326.9 1112,324.8 1110,322.7 1108,320.5 1106,318.3 1104.1,316.1 1102.3,313.8 1100.5,311.5 1098.7,309.2 1097,306.9 1095.3,304.5 1093.6,302.2 1092,299.7 1090.4,297.3 1088.8,294.9 1087.3,292.4 1085.8,289.9 1084.4,287.4 1083,284.8 1081.6,282.2 1080.2,279.7 1078.9,277 1077.6,274.4 1076.4,271.8 1075.2,269.1 1074,266.4 1072.8,263.7 1071.7,261 1070.6,258.3 1069.5,255.5 1068.4,252.7 1067.4,250 1066.4,247.2 1065.4,244.3 1064.4,241.5 1063.5,238.7 1062.6,235.8 1061.7,233 1060.8,230.1 1060,227.2 1059.2,224.3 1058.4,221.4 1057.6,218.5 1056.8,215.5 1056.1,212.6 1055.3,209.6 1054.6,206.7 1053.9,203.7 1053.2,200.8 1052.6,197.8 1051.9,194.8 1051.3,191.8 1050.6,188.8 1050,185.8 1049.4,182.8 1048.8,179.8 1048.2,176.8 1047.5,173.9 1046.9,170.9 1046.3,167.9 1045.6,165 1044.9,162 1044.2,159.1 1043.5,156.2 1042.7,153.3 1041.9,150.4 1041.1,147.6 1040.2,144.8 1039.3,142 1038.4,139.2 1037.4,136.5 1036.3,133.8 1035.2,131.1 1034,128.5 1032.8,125.9 1031.5,123.3 1030.1,120.8 1028.7,118.3 1027.6,118.9 1028.7,121.6 1029.6,124.3 1030.3,127.1 1030.9,129.9 1031.5,132.7 1031.9,135.5 1032.6,138.3 1033.3,141 1033.9,143.8 1034.4,146.6 1034.9,149.4 1035.5,152.3 1036,155.1 1036.5,158 1036.9,160.9 1037.3,163.8 1037.6,166.8 1038,169.8 1038.3,172.8 1038.6,175.8 1038.8,178.8 1038.9,181.9 1039.1,185 1039.2,188.1 1039.2,191.2 1039.2,194.4 1039.2,197.6 1039.1,200.8 1039,204 1038.8,207.2 1038.6,210.5 1038.4,213.8 1038.1,217.1 1037.8,220.4 1037.5,223.8 1037.1,227.2 1036.7,230.6 1036.2,234.1 1035.7,237.5 1035.2,241.1 1034.7,244.6 1034.1,248.2 1033.5,251.8 1032.9,255.5 1032.3,259.2 1031.7,263 1031.3,266.7 1031.1,270.4 1031.1,274 1031.3,277.6 1031.8,281.1 1032.5,284.6 1033.5,287.9 1034.7,291.2 1036.2,294.4 1037.7,297.5 1039.3,300.6 1040.9,303.8 1042.6,306.9 1044.3,310 1046.1,313 1047.9,316.1 1049.8,319.1 1051.7,322.2 1053.6,325.2 1055.7,328.2 1057.7,331.1 1059.8,334.1 1062,337 1064.3,339.9 1066.5,342.8 1068.9,345.6 1071.3,348.4 1073.7,351.2 1076.2,353.9 1078.8,356.6 1081.3,359.3 1083.9,361.9 1086.6,364.4 1089.3,366.9 1092,369.4 1094.8,371.8 1097.6,374.2 1100.4,376.6 1103.3,378.9 1106.2,381.1 1109.1,383.3 1112.1,385.5 1115.1,387.6 1118.1,389.7 1121.1,391.7 1124.2,393.7 1127.3,395.7 1130.5,397.6 1133.6,399.4 1136.8,401.3 1140,403 1143.3,404.8 1146.5,406.5 1149.8,408.1 1153.1,409.7 1156.4,411.3 1159.8,412.8 1163.2,414.3 1166.5,415.7 1169.9,417.1 1173.4,418.4 1176.8,419.7 1180.3,420.9 1183.7,422.1 1187.2,423.3 1190.7,424.4 1194.2,425.4 1197.8,426.4 1201.3,427.4 1204.9,428.3 1208.4,429.2 1212,430 1215.6,430.8 1219.2,431.5 1222.8,432.2 1226.5,432.8 1230.1,433.4 1233.7,433.9 1237.4,434.4 1241,434.8 1244.7,435.2 1248.4,435.5 1252,435.7 1255.7,436 1259.4,436.1 1263.1,436.2 1266.7,436.3 1270.4,436.2 1273.8,436.2" fill="#7a07ff"/>
<polygon points="1272.9,390.2 1270,390.2 1267,390.3 1264,390.2 1261,390.1 1258,390 1255,389.8 1252,389.6 1249,389.4 1246,389.1 1243,388.7 1239.9,388.3 1236.9,387.9 1233.9,387.4 1231,386.9 1228,386.3 1225,385.7 1222,385.1 1219,384.4 1216,383.7 1213.1,382.9 1210.1,382.1 1207.2,381.3 1204.3,380.4 1201.3,379.5 1198.4,378.5 1195.5,377.5 1192.7,376.5 1189.8,375.4 1186.9,374.3 1184.1,373.2 1181.3,372 1178.5,370.8 1175.7,369.5 1172.9,368.2 1170.2,366.9 1167.4,365.5 1164.7,364.1 1162,362.7 1159.4,361.2 1156.7,359.7 1154.1,358.1 1151.5,356.5 1149,354.9 1146.4,353.3 1143.9,351.6 1141.4,349.9 1139,348.2 1136.5,346.4 1134.1,344.6 1131.8,342.7 1129.4,340.9 1127.1,339 1124.9,337 1122.6,335.1 1120.4,333.1 1118.3,331.1 1116.1,329 1114,326.9 1112,324.8 1110,322.7 1108,320.5 1106,318.3 1104.1,316.1 1102.3,313.8 1100.5,311.5 1098.7,309.2 1097,306.9 1095.3,304.5 1093.6,302.2 1092,299.7 1090.4,297.3 1088.8,294.9 1087.3,292.4 1085.8,289.9 1084.4,287.4 1083,284.8 1081.6,282.2 1080.2,279.7 1078.9,277 1077.6,274.4 1076.4,271.8 1075.2,269.1 1074,266.4 1072.8,263.7 1071.7,261 1070.6,258.3 1069.5,255.5 1068.4,252.7 1067.4,250 1066.4,247.2 1065.4,244.3 1064.4,241.5 1063.5,238.7 1062.6,235.8 1061.7,233 1060.8,230.1 1060,227.2 1059.2,224.3 1058.4,221.4 1057.6,218.5 1056.8,215.5 1056.1,212.6 1055.3,209.6 1054.6,206.7 1053.9,203.7 1053.2,200.8 1052.6,197.8 1051.9,194.8 1051.3,191.8 1050.6,188.8 1050,185.8 1049.4,182.8 1048.8,179.8 1048.2,176.8 1047.5,173.9 1046.9,170.9 1046.3,167.9 1045.6,165 1044.9,162 1044.2,159.1 1043.5,156.2 1042.7,153.3 1041.9,150.4 1041.1,147.6 1040.2,144.8 1039.3,142 1038.4,139.2 1037.4,136.5 1036.3,133.8 1035.2,131.1 1034,128.5 1032.8,125.9 1031.5,123.3 1030.1,120.8 1028.7,118.3 1027.8,118.8 1028.9,121.5 1029.9,124.1 1030.7,126.9 1031.5,129.6 1032.1,132.4 1032.7,135.2 1033.4,137.9 1034.2,140.7 1034.8,143.5 1035.4,146.3 1036,149.1 1036.6,151.9 1037.2,154.8 1037.7,157.7 1038.2,160.6 1038.6,163.5 1039,166.5 1039.4,169.4 1039.8,172.4 1040.1,175.4 1040.4,178.5 1040.7,181.5 1040.9,184.6 1041,187.7 1041.2,190.8 1041.3,193.9 1041.4,197.1 1041.5,200.2 1041.5,203.4 1041.5,206.6 1041.4,209.8 1041.3,213.1 1041.3,216.3 1041.1,219.6 1041,222.9 1040.8,226.2 1040.6,229.5 1040.3,232.9 1040.1,236.2 1039.8,239.6 1039.5,243.1 1039.2,246.5 1038.9,250 1038.6,253.6 1038.3,257.1 1037.9,260.7 1037.7,264.3 1037.7,267.8 1037.9,271.3 1038.3,274.7 1038.9,278.1 1039.7,281.4 1040.7,284.7 1042,287.8 1043.4,290.9 1044.9,293.9 1046.4,297 1048,300 1049.6,303 1051.3,306 1053,309 1054.8,312 1056.6,314.9 1058.4,317.8 1060.3,320.8 1062.3,323.6 1064.2,326.5 1066.3,329.4 1068.4,332.2 1070.6,335 1072.8,337.7 1075,340.5 1077.3,343.2 1079.7,345.9 1082.1,348.5 1084.5,351.1 1087,353.6 1089.5,356.2 1092.1,358.6 1094.7,361 1097.3,363.4 1100,365.8 1102.7,368.1 1105.5,370.3 1108.2,372.6 1111,374.8 1113.9,376.9 1116.7,379 1119.7,381.1 1122.6,383.1 1125.5,385 1128.5,387 1131.5,388.9 1134.6,390.7 1137.7,392.5 1140.7,394.3 1143.9,396 1147,397.7 1150.2,399.3 1153.4,400.9 1156.6,402.5 1159.8,404 1163,405.5 1166.3,406.9 1169.6,408.3 1172.9,409.6 1176.2,410.9 1179.6,412.2 1182.9,413.4 1186.3,414.5 1189.7,415.7 1193.1,416.7 1196.5,417.8 1199.9,418.7 1203.4,419.7 1206.8,420.6 1210.3,421.4 1213.8,422.2 1217.2,423 1220.7,423.7 1224.2,424.3 1227.8,424.9 1231.3,425.5 1234.8,426 1238.3,426.4 1241.9,426.8 1245.4,427.2 1249,427.5 1252.5,427.8 1256.1,428 1259.7,428.1 1263.2,428.2 1266.8,428.3 1270.4,428.2 1273.6,428.2" fill="#7410ff"/>
<polygon points="1272.9,390.2 1270,390.2 1267,390.3 1264,390.2 1261,390.1 1258,390 1255,389.8 1252,389.6 1249,389.4 1246,389.1 1243,388.7 1239.9,388.3 1236.9,387.9 1233.9,387.4 1231,386.9 1228,386.3 1225,385.7 1222,385.1 1219,384.4 1216,383.7 1213.1,382.9 1210.1,382.1 1207.2,381.3 1204.3,380.4 1201.3,379.5 1198.4,378.5 1195.5,377.5 1192.7,376.5 1189.8,375.4 1186.9,374.3 1184.1,373.2 1181.3,372 1178.5,370.8 1175.7,369.5 1172.9,368.2 1170.2,366.9 1167.4,365.5 1164.7,364.1 1162,362.7 1159.4,361.2 1156.7,359.7 1154.1,358.1 1151.5,356.5 1149,354.9 1146.4,353.3 1143.9,351.6 1141.4,349.9 1139,348.2 1136.5,346.4 1134.1,344.6 1131.8,342.7 1129.4,340.9 1127.1,339 1124.9,337 1122.6,335.1 1120.4,333.1 1118.3,331.1 1116.1,329 1114,326.9 1112,324.8 1110,322.7 1108,320.5 1106,318.3 1104.1,316.1 1102.3,313.8 1100.5,311.5 1098.7,309.2 1097,306.9 1095.3,304.5 1093.6,302.2 1092,299.7 1090.4,297.3 1088.8,294.9 1087.3,292.4 1085.8,289.9 1084.4,287.4 1083,284.8 1081.6,282.2 1080.2,279.7 1078.9,277 1077.6,274.4 1076.4,271.8 1075.2,269.1 1074,266.4 1072.8,263.7 1071.7,261 1070.6,258.3 1069.5,255.5 1068.4,252.7 1067.4,250 1066.4,247.2 1065.4,244.3 1064.4,241.5 1063.5,238.7 1062.6,235.8 1061.7,233 1060.8,230.1 1060,227.2 1059.2,224.3 1058.4,221.4 1057.6,218.5 1056.8,215.5 1056.1,212.6 1055.3,209.6 1054.6,206.7 1053.9,203.7 1053.2,200.8 1052.6,197.8 1051.9,194.8 1051.3,191.8 1050.6,188.8 1050,185.8 1049.4,182.8 1048.8,179.8 1048.2,176.8 1047.5,173.9 1046.9,170.9 1046.3,167.9 1045.6,165 1044.9,162 1044.2,159.1 1043.5,156.2 1042.7,153.3 1041.9,150.4 1041.1,147.6 1040.2,144.8 1039.3,142 1038.4,139.2 1037.4,136.5 1036.3,133.8 1035.2,131.1 1034,128.5 1032.8,125.9 1031.5,123.3 1030.1,120.8 1028.7,118.3 1028,118.7 1029.1,121.3 1030.2,124 1031.1,126.7 1031.9,129.4 1032.7,132.2 1033.3,135 1034.2,137.7 1034.9,140.4 1035.6,143.2 1036.3,146 1036.9,148.8 1037.6,151.7 1038.2,154.5 1038.8,157.4 1039.3,160.3 1039.8,163.2 1040.2,166.2 1040.7,169.2 1041.1,172.1 1041.5,175.1 1041.8,178.2 1042.2,181.2 1042.4,184.3 1042.7,187.3 1042.9,190.4 1043.1,193.5 1043.3,196.7 1043.5,199.8 1043.7,202.9 1043.8,206.1 1043.9,209.3 1043.9,212.4 1044,215.6 1044,218.8 1044,222.1 1044,225.3 1044,228.6 1044,231.8 1043.9,235.1 1043.9,238.4 1043.8,241.7 1043.7,245.1 1043.6,248.5 1043.5,251.9 1043.4,255.3 1043.3,258.7 1043.4,262.2 1043.6,265.5 1043.9,268.9 1044.5,272.2 1045.2,275.5 1046,278.7 1047.1,281.8 1048.3,284.9 1049.7,287.9 1051.2,290.8 1052.7,293.8 1054.2,296.7 1055.8,299.7 1057.4,302.6 1059,305.5 1060.7,308.4 1062.5,311.2 1064.3,314.1 1066.1,316.9 1068,319.7 1070,322.5 1071.9,325.2 1074,328 1076.1,330.7 1078.2,333.3 1080.4,336 1082.6,338.6 1084.9,341.2 1087.2,343.7 1089.6,346.2 1092,348.7 1094.4,351.1 1096.9,353.5 1099.4,355.9 1102,358.2 1104.6,360.5 1107.2,362.7 1109.9,364.9 1112.6,367.1 1115.3,369.2 1118.1,371.3 1120.8,373.3 1123.7,375.3 1126.5,377.3 1129.4,379.2 1132.3,381.1 1135.2,382.9 1138.2,384.7 1141.2,386.5 1144.2,388.2 1147.2,389.9 1150.3,391.5 1153.3,393.1 1156.4,394.7 1159.6,396.2 1162.7,397.7 1165.9,399.1 1169.1,400.5 1172.3,401.8 1175.5,403.1 1178.7,404.4 1182,405.6 1185.2,406.8 1188.5,407.9 1191.8,409 1195.1,410 1198.5,411 1201.8,412 1205.2,412.9 1208.5,413.8 1211.9,414.6 1215.3,415.4 1218.7,416.1 1222.1,416.8 1225.5,417.4 1228.9,418 1232.3,418.5 1235.8,419 1239.2,419.5 1242.6,419.9 1246.1,420.2 1249.5,420.5 1253,420.8 1256.4,421 1259.9,421.1 1263.4,421.2 1266.8,421.3 1270.3,421.2 1273.5,421.2" fill="#6c1aff"/>
<polygon points="1272.9,390.2 1270,390.2 1267,390.3 1264,390.2 1261,390.1 1258,390 1255,389.8 1252,389.6 1249,389.4 1246,389.1 1243,388.7 1239.9,388.3 1236.9,387.9 1233.9,387.4 1231,386.9 1228,386.3 1225,385.7 1222,385.1 1219,384.4 1216,383.7 1213.1,382.9 1210.1,382.1 1207.2,381.3 1204.3,380.4 1201.3,379.5 1198.4,378.5 1195.5,377.5 1192.7,376.5 1189.8,375.4 1186.9,374.3 1184.1,373.2 1181.3,372 1178.5,370.8 1175.7,369.5 1172.9,368.2 1170.2,366.9 1167.4,365.5 1164.7,364.1 1162,362.7 1159.4,361.2 1156.7,359.7 1154.1,358.1 1151.5,356.5 1149,354.9 1146.4,353.3 1143.9,351.6 1141.4,349.9 1139,348.2 1136.5,346.4 1134.1,344.6 1131.8,342.7 1129.4,340.9 1127.1,339 1124.9,337 1122.6,335.1 1120.4,333.1 1118.3,331.1 1116.1,329 1114,326.9 1112,324.8 1110,322.7 1108,320.5 1106,318.3 1104.1,316.1 1102.3,313.8 1100.5,311.5 1098.7,309.2 1097,306.9 1095.3,304.5 1093.6,302.2 1092,299.7 1090.4,297.3 1088.8,294.9 1087.3,292.4 1085.8,289.9 1084.4,287.4 1083,284.8 1081.6,282.2 1080.2,279.7 1078.9,277 1077.6,274.4 1076.4,271.8 1075.2,269.1 1074,266.4 1072.8,263.7 1071.7,261 1070.6,258.3 1069.5,255.5 1068.4,252.7 1067.4,250 1066.4,247.2 1065.4,244.3 1064.4,241.5 1063.5,238.7 1062.6,235.8 1061.7,233 1060.8,230.1 1060,227.2 1059.2,224.3 1058.4,221.4 1057.6,218.5 1056.8,215.5 1056.1,212.6 1055.3,209.6 1054.6,206.7 1053.9,203.7 1053.2,200.8 1052.6,197.8 1051.9,194.8 1051.3,191.8 1050.6,188.8 1050,185.8 1049.4,182.8 1048.8,179.8 1048.2,176.8 1047.5,173.9 1046.9,170.9 1046.3,167.9 1045.6,165 1044.9,162 1044.2,159.1 1043.5,156.2 1042.7,153.3 1041.9,150.4 1041.1,147.6 1040.2,144.8 1039.3,142 1038.4,139.2 1037.4,136.5 1036.3,133.8 1035.2,131.1 1034,128.5 1032.8,125.9 1031.5,123.3 1030.1,120.8 1028.7,118.3 1028.1,118.6 1029.3,121.2 1030.4,123.8 1031.4,126.5 1032.3,129.2 1033.2,132 1033.9,134.7 1034.8,137.4 1035.6,140.2 1036.4,143 1037.1,145.8 1037.7,148.6 1038.4,151.4 1039.1,154.3 1039.7,157.2 1040.2,160.1 1040.8,163 1041.3,166 1041.7,168.9 1042.2,171.9 1042.7,174.9 1043.1,177.9 1043.4,180.9 1043.8,184 1044.1,187 1044.4,190.1 1044.7,193.2 1045,196.3 1045.3,199.4 1045.5,202.5 1045.7,205.6 1045.9,208.8 1046.1,211.9 1046.3,215 1046.5,218.2 1046.7,221.4 1046.8,224.5 1046.9,227.7 1047.1,230.9 1047.2,234.1 1047.3,237.4 1047.4,240.6 1047.5,243.8 1047.6,247.1 1047.8,250.4 1047.9,253.7 1048,257 1048.2,260.3 1048.6,263.6 1049.1,266.8 1049.7,270 1050.5,273.2 1051.4,276.3 1052.5,279.3 1053.7,282.3 1055.1,285.3 1056.5,288.2 1058,291.1 1059.5,293.9 1061,296.8 1062.6,299.6 1064.2,302.5 1065.9,305.3 1067.6,308.1 1069.3,310.8 1071.1,313.6 1073,316.3 1074.9,319 1076.8,321.7 1078.8,324.3 1080.8,327 1082.9,329.6 1085,332.1 1087.2,334.7 1089.4,337.2 1091.6,339.7 1093.9,342.1 1096.3,344.5 1098.6,346.9 1101,349.2 1103.5,351.5 1106,353.7 1108.5,355.9 1111.1,358.1 1113.7,360.3 1116.3,362.4 1118.9,364.4 1121.6,366.5 1124.3,368.4 1127.1,370.4 1129.9,372.3 1132.7,374.2 1135.5,376 1138.4,377.8 1141.3,379.6 1144.2,381.3 1147.1,383 1150.1,384.6 1153.1,386.2 1156.1,387.8 1159.1,389.3 1162.2,390.8 1165.2,392.2 1168.3,393.6 1171.4,395 1174.6,396.3 1177.7,397.5 1180.9,398.8 1184,400 1187.2,401.1 1190.4,402.2 1193.7,403.3 1196.9,404.3 1200.2,405.3 1203.4,406.2 1206.7,407.1 1210,408 1213.3,408.8 1216.6,409.5 1219.9,410.2 1223.2,410.9 1226.5,411.5 1229.9,412.1 1233.2,412.6 1236.6,413.1 1239.9,413.5 1243.3,413.9 1246.6,414.3 1250,414.5 1253.4,414.8 1256.7,415 1260.1,415.1 1263.5,415.2 1266.8,415.3 1270.2,415.2 1273.4,415.2" fill="#6426ff"/>
<polygon points="1272.9,390.2 1270,390.2 1267,390.3 1264,390.2 1261,390.1 1258,390 1255,389.8 1252,389.6 1249,389.4 1246,389.1 1243,388.7 1239.9,388.3 1236.9,387.9 1233.9,387.4 1231,386.9 1228,386.3 1225,385.7 1222,385.1 1219,384.4 1216,383.7 1213.1,382.9 1210.1,382.1 1207.2,381.3 1204.3,380.4 1201.3,379.5 1198.4,378.5 1195.5,377.5 1192.7,376.5 1189.8,375.4 1186.9,374.3 1184.1,373.2 1181.3,372 1178.5,370.8 1175.7,369.5 1172.9,368.2 1170.2,366.9 1167.4,365.5 1164.7,364.1 1162,362.7 1159.4,361.2 1156.7,359.7 1154.1,358.1 1151.5,356.5 1149,354.9 1146.4,353.3 1143.9,351.6 1141.4,349.9 1139,348.2 1136.5,346.4 1134.1,344.6 1131.8,342.7 1129.4,340.9 1127.1,339 1124.9,337 1122.6,335.1 1120.4,333.1 1118.3,331.1 1116.1,329 1114,326.9 1112,324.8 1110,322.7 1108,320.5 1106,318.3 1104.1,316.1 1102.3,313.8 1100.5,311.5 1098.7,309.2 1097,306.9 1095.3,304.5 1093.6,302.2 1092,299.7 1090.4,297.3 1088.8,294.9 1087.3,292.4 1085.8,289.9 1084.4,287.4 1083,284.8 1081.6,282.2 1080.2,279.7 1078.9,277 1077.6,274.4 1076.4,271.8 1075.2,269.1 1074,266.4 1072.8,263.7 1071.7,261 1070.6,258.3 1069.5,255.5 1068.4,252.7 1067.4,250 1066.4,247.2 1065.4,244.3 1064.4,241.5 1063.5,238.7 1062.6,235.8 1061.7,233 1060.8,230.1 1060,227.2 1059.2,224.3 1058.4,221.4 1057.6,218.5 1056.8,215.5 1056.1,212.6 1055.3,209.6 1054.6,206.7 1053.9,203.7 1053.2,200.8 1052.6,197.8 1051.9,194.8 1051.3,191.8 1050.6,188.8 1050,185.8 1049.4,182.8 1048.8,179.8 1048.2,176.8 1047.5,173.9 1046.9,170.9 1046.3,167.9 1045.6,165 1044.9,162 1044.2,159.1 1043.5,156.2 1042.7,153.3 1041.9,150.4 1041.1,147.6 1040.2,144.8 1039.3,142 1038.4,139.2 1037.4,136.5 1036.3,133.8 1035.2,131.1 1034,128.5 1032.8,125.9 1031.5,123.3 1030.1,120.8 1028.7,118.3 1028.2,118.6 1029.5,121.1 1030.6,123.7 1031.7,126.4 1032.7,129.1 1033.6,131.8 1034.4,134.5 1035.3,137.2 1036.2,140 1036.9,142.8 1037.7,145.6 1038.4,148.4 1039.1,151.2 1039.8,154.1 1040.4,157 1041,159.9 1041.6,162.8 1042.1,165.8 1042.7,168.7 1043.2,171.7 1043.6,174.7 1044.1,177.7 1044.5,180.7 1044.9,183.8 1045.3,186.8 1045.7,189.9 1046,192.9 1046.4,196 1046.7,199.1 1047.1,202.2 1047.4,205.3 1047.7,208.4 1048,211.5 1048.3,214.6 1048.6,217.7 1048.8,220.8 1049.1,223.9 1049.4,227 1049.7,230.2 1049.9,233.3 1050.2,236.5 1050.5,239.6 1050.7,242.8 1051,246 1051.3,249.2 1051.6,252.4 1051.9,255.6 1052.3,258.8 1052.8,262 1053.4,265.1 1054.1,268.2 1055,271.3 1056,274.3 1057,277.3 1058.3,280.2 1059.6,283.1 1061,285.9 1062.4,288.8 1063.9,291.6 1065.4,294.4 1067,297.2 1068.5,299.9 1070.2,302.7 1071.8,305.4 1073.5,308.1 1075.3,310.8 1077.1,313.5 1078.9,316.1 1080.8,318.7 1082.7,321.3 1084.7,323.9 1086.7,326.4 1088.8,328.9 1090.9,331.4 1093.1,333.8 1095.3,336.3 1097.5,338.6 1099.8,341 1102.1,343.3 1104.5,345.6 1106.9,347.8 1109.3,350 1111.8,352.2 1114.3,354.3 1116.8,356.4 1119.4,358.4 1122,360.5 1124.6,362.4 1127.3,364.4 1130,366.3 1132.7,368.2 1135.4,370 1138.2,371.8 1141,373.6 1143.8,375.3 1146.7,377 1149.6,378.6 1152.5,380.2 1155.4,381.8 1158.3,383.3 1161.3,384.8 1164.3,386.3 1167.3,387.7 1170.3,389 1173.4,390.4 1176.5,391.7 1179.5,392.9 1182.6,394.1 1185.8,395.3 1188.9,396.4 1192,397.5 1195.2,398.5 1198.4,399.5 1201.6,400.5 1204.8,401.4 1208,402.3 1211.2,403.1 1214.4,403.9 1217.7,404.6 1220.9,405.3 1224.2,406 1227.4,406.6 1230.7,407.2 1234,407.7 1237.2,408.1 1240.5,408.6 1243.8,408.9 1247.1,409.3 1250.4,409.6 1253.7,409.8 1257,410 1260.3,410.1 1263.6,410.2 1266.9,410.3 1270.2,410.2 1273.3,410.2" fill="#5a34fe"/>
<polygon points="1272.9,390.2 1270,390.2 1267,390.3 1264,390.2 1261,390.1 1258,390 1255,389.8 1252,389.6 1249,389.4 1246,389.1 1243,388.7 1239.9,388.3 1236.9,387.9 1233.9,387.4 1231,386.9 1228,386.3 1225,385.7 1222,385.1 1219,384.4 1216,383.7 1213.1,382.9 1210.1,382.1 1207.2,381.3 1204.3,380.4 1201.3,379.5 1198.4,378.5 1195.5,377.5 1192.7,376.5 1189.8,375.4 1186.9,374.3 1184.1,373.2 1181.3,372 1178.5,370.8 1175.7,369.5 1172.9,368.2 1170.2,366.9 1167.4,365.5 1164.7,364.1 1162,362.7 1159.4,361.2 1156.7,359.7 1154.1,358.1 1151.5,356.5 1149,354.9 1146.4,353.3 1143.9,351.6 1141.4,349.9 1139,348.2 1136.5,346.4 1134.1,344.6 1131.8,342.7 1129.4,340.9 1127.1,339 1124.9,337 1122.6,335.1 1120.4,333.1 1118.3,331.1 1116.1,329 1114,326.9 1112,324.8 1110,322.7 1108,320.5 1106,318.3 1104.1,316.1 1102.3,313.8 1100.5,311.5 1098.7,309.2 1097,306.9 1095.3,304.5 1093.6,302.2 1092,299.7 1090.4,297.3 1088.8,294.9 1087.3,292.4 1085.8,289.9 1084.4,287.4 1083,284.8 1081.6,282.2 1080.2,279.7 1078.9,277 1077.6,274.4 1076.4,271.8 1075.2,269.1 1074,266.4 1072.8,263.7 1071.7,261 1070.6,258.3 1069.5,255.5 1068.4,252.7 1067.4,250 1066.4,247.2 1065.4,244.3 1064.4,241.5 1063.5,238.7 1062.6,235.8 1061.7,233 1060.8,230.1 1060,227.2 1059.2,224.3 1058.4,221.4 1057.6,218.5 1056.8,215.5 1056.1,212.6 1055.3,209.6 1054.6,206.7 1053.9,203.7 1053.2,200.8 1052.6,197.8 1051.9,194.8 1051.3,191.8 1050.6,188.8 1050,185.8 1049.4,182.8 1048.8,179.8 1048.2,176.8 1047.5,173.9 1046.9,170.9 1046.3,167.9 1045.6,165 1044.9,162 1044.2,159.1 1043.5,156.2 1042.7,153.3 1041.9,150.4 1041.1,147.6 1040.2,144.8 1039.3,142 1038.4,139.2 1037.4,136.5 1036.3,133.8 1035.2,131.1 1034,128.5 1032.8,125.9 1031.5,123.3 1030.1,120.8 1028.7,118.3 1028.3,118.5 1029.6,121.1 1030.8,123.6 1032,126.3 1033,128.9 1033.9,131.6 1034.8,134.4 1035.8,137.1 1036.6,139.8 1037.5,142.6 1038.3,145.4 1039,148.2 1039.7,151.1 1040.5,153.9 1041.1,156.8 1041.7,159.7 1042.3,162.6 1042.9,165.6 1043.5,168.5 1044,171.5 1044.5,174.5 1045,177.5 1045.5,180.5 1045.9,183.5 1046.4,186.6 1046.8,189.6 1047.2,192.7 1047.6,195.7 1048,198.8 1048.4,201.8 1048.8,204.9 1049.2,208 1049.6,211 1050,214.1 1050.4,217.2 1050.8,220.3 1051.2,223.3 1051.6,226.4 1052,229.5 1052.4,232.6 1052.8,235.7 1053.2,238.8 1053.6,241.9 1054,245 1054.5,248.1 1054.9,251.2 1055.4,254.3 1055.9,257.4 1056.5,260.5 1057.3,263.6 1058.1,266.6 1059,269.6 1060,272.5 1061.1,275.5 1062.3,278.3 1063.7,281.1 1065,283.9 1066.4,286.7 1067.9,289.5 1069.4,292.2 1070.9,295 1072.4,297.7 1074,300.4 1075.7,303 1077.3,305.7 1079.1,308.3 1080.8,310.9 1082.6,313.5 1084.4,316.1 1086.3,318.6 1088.3,321.1 1090.2,323.6 1092.3,326 1094.3,328.5 1096.4,330.8 1098.6,333.2 1100.8,335.5 1103,337.8 1105.3,340.1 1107.6,342.3 1109.9,344.5 1112.3,346.6 1114.7,348.8 1117.2,350.8 1119.7,352.9 1122.2,354.9 1124.7,356.9 1127.3,358.8 1129.9,360.7 1132.5,362.6 1135.2,364.4 1137.9,366.2 1140.6,368 1143.4,369.7 1146.1,371.4 1148.9,373.1 1151.8,374.7 1154.6,376.3 1157.5,377.8 1160.4,379.3 1163.3,380.8 1166.2,382.2 1169.2,383.6 1172.2,384.9 1175.2,386.2 1178.2,387.5 1181.2,388.7 1184.3,389.9 1187.3,391.1 1190.4,392.2 1193.5,393.2 1196.6,394.2 1199.7,395.2 1202.8,396.2 1206,397.1 1209.1,397.9 1212.3,398.7 1215.5,399.5 1218.6,400.2 1221.8,400.9 1225,401.6 1228.2,402.2 1231.4,402.7 1234.6,403.2 1237.9,403.7 1241.1,404.1 1244.3,404.5 1247.5,404.8 1250.8,405.1 1254,405.3 1257.2,405.5 1260.4,405.6 1263.7,405.7 1266.9,405.8 1270.1,405.7 1273.2,405.7" fill="#4e47fd"/>
<polygon points="1272.9,390.2 1270,390.2 1267,390.3 1264,390.2 1261,390.1 1258,390 1255,389.8 1252,389.6 1249,389.4 1246,389.1 1243,388.7 1239.9,388.3 1236.9,387.9 1233.9,387.4 1231,386.9 1228,386.3 1225,385.7 1222,385.1 1219,384.4 1216,383.7 1213.1,382.9 1210.1,382.1 1207.2,381.3 1204.3,380.4 1201.3,379.5 1198.4,378.5 1195.5,377.5 1192.7,376.5 1189.8,375.4 1186.9,374.3 1184.1,373.2 1181.3,372 1178.5,370.8 1175.7,369.5 1172.9,368.2 1170.2,366.9 1167.4,365.5 1164.7,364.1 1162,362.7 1159.4,361.2 1156.7,359.7 1154.1,358.1 1151.5,356.5 1149,354.9 1146.4,353.3 1143.9,351.6 1141.4,349.9 1139,348.2 1136.5,346.4 1134.1,344.6 1131.8,342.7 1129.4,340.9 1127.1,339 1124.9,337 1122.6,335.1 1120.4,333.1 1118.3,331.1 1116.1,329 1114,326.9 1112,324.8 1110,322.7 1108,320.5 1106,318.3 1104.1,316.1 1102.3,313.8 1100.5,311.5 1098.7,309.2 1097,306.9 1095.3,304.5 1093.6,302.2 1092,299.7 1090.4,297.3 1088.8,294.9 1087.3,292.4 1085.8,289.9 1084.4,287.4 1083,284.8 1081.6,282.2 1080.2,279.7 1078.9,277 1077.6,274.4 1076.4,271.8 1075.2,269.1 1074,266.4 1072.8,263.7 1071.7,261 1070.6,258.3 1069.5,255.5 1068.4,252.7 1067.4,250 1066.4,247.2 1065.4,244.3 1064.4,241.5 1063.5,238.7 1062.6,235.8 1061.7,233 1060.8,230.1 1060,227.2 1059.2,224.3 1058.4,221.4 1057.6,218.5 1056.8,215.5 1056.1,212.6 1055.3,209.6 1054.6,206.7 1053.9,203.7 1053.2,200.8 1052.6,197.8 1051.9,194.8 1051.3,191.8 1050.6,188.8 1050,185.8 1049.4,182.8 1048.8,179.8 1048.2,176.8 1047.5,173.9 1046.9,170.9 1046.3,167.9 1045.6,165 1044.9,162 1044.2,159.1 1043.5,156.2 1042.7,153.3 1041.9,150.4 1041.1,147.6 1040.2,144.8 1039.3,142 1038.4,139.2 1037.4,136.5 1036.3,133.8 1035.2,131.1 1034,128.5 1032.8,125.9 1031.5,123.3 1030.1,120.8 1028.7,118.3 1028.4,118.5 1029.8,121 1031,123.6 1032.2,126.2 1033.2,128.8 1034.3,131.5 1035.2,134.2 1036.2,136.9 1037.1,139.7 1038,142.4 1038.8,145.2 1039.6,148 1040.3,150.9 1041,153.8 1041.7,156.6 1042.4,159.6 1043,162.5 1043.6,165.4 1044.2,168.4 1044.7,171.4 1045.3,174.3 1045.8,177.3 1046.3,180.3 1046.8,183.4 1047.3,186.4 1047.8,189.4 1048.3,192.5 1048.7,195.5 1049.2,198.5 1049.7,201.6 1050.2,204.6 1050.6,207.6 1051.1,210.7 1051.6,213.7 1052.1,216.8 1052.6,219.8 1053,222.8 1053.5,225.9 1054.1,228.9 1054.6,231.9 1055.1,235 1055.6,238 1056.2,241.1 1056.7,244.1 1057.3,247.1 1057.9,250.2 1058.5,253.2 1059.1,256.2 1059.9,259.2 1060.7,262.2 1061.6,265.2 1062.6,268.1 1063.6,271 1064.7,273.8 1066,276.6 1067.3,279.4 1068.6,282.2 1070,284.9 1071.4,287.6 1072.9,290.3 1074.4,293 1075.9,295.7 1077.5,298.3 1079.1,300.9 1080.7,303.5 1082.4,306.1 1084.1,308.7 1085.9,311.2 1087.7,313.7 1089.5,316.2 1091.4,318.6 1093.3,321.1 1095.3,323.5 1097.4,325.8 1099.4,328.2 1101.5,330.5 1103.7,332.8 1105.9,335 1108.1,337.2 1110.3,339.4 1112.6,341.5 1115,343.7 1117.3,345.7 1119.7,347.8 1122.2,349.8 1124.6,351.8 1127.1,353.7 1129.7,355.6 1132.2,357.5 1134.8,359.3 1137.4,361.1 1140.1,362.9 1142.8,364.6 1145.5,366.3 1148.2,368 1151,369.6 1153.7,371.2 1156.5,372.7 1159.4,374.3 1162.2,375.7 1165.1,377.2 1168,378.6 1170.9,379.9 1173.8,381.3 1176.7,382.5 1179.7,383.8 1182.7,385 1185.7,386.2 1188.7,387.3 1191.7,388.4 1194.8,389.4 1197.8,390.4 1200.9,391.4 1204,392.3 1207,393.2 1210.1,394.1 1213.3,394.9 1216.4,395.6 1219.5,396.3 1222.6,397 1225.8,397.6 1228.9,398.2 1232.1,398.8 1235.2,399.3 1238.4,399.7 1241.6,400.1 1244.7,400.5 1247.9,400.8 1251.1,401.1 1254.2,401.3 1257.4,401.5 1260.6,401.6 1263.7,401.7 1266.9,401.8 1270.1,401.7 1273.1,401.7" fill="#405dfa"/>
<polygon points="1272.9,390.2 1270,390.2 1267,390.3 1264,390.2 1261,390.1 1258,390 1255,389.8 1252,389.6 1249,389.4 1246,389.1 1243,388.7 1239.9,388.3 1236.9,387.9 1233.9,387.4 1231,386.9 1228,386.3 1225,385.7 1222,385.1 1219,384.4 1216,383.7 1213.1,382.9 1210.1,382.1 1207.2,381.3 1204.3,380.4 1201.3,379.5 1198.4,378.5 1195.5,377.5 1192.7,376.5 1189.8,375.4 1186.9,374.3 1184.1,373.2 1181.3,372 1178.5,370.8 1175.7,369.5 1172.9,368.2 1170.2,366.9 1167.4,365.5 1164.7,364.1 1162,362.7 1159.4,361.2 1156.7,359.7 1154.1,358.1 1151.5,356.5 1149,354.9 1146.4,353.3 1143.9,351.6 1141.4,349.9 1139,348.2 1136.5,346.4 1134.1,344.6 1131.8,342.7 1129.4,340.9 1127.1,339 1124.9,337 1122.6,335.1 1120.4,333.1 1118.3,331.1 1116.1,329 1114,326.9 1112,324.8 1110,322.7 1108,320.5 1106,318.3 1104.1,316.1 1102.3,313.8 1100.5,311.5 1098.7,309.2 1097,306.9 1095.3,304.5 1093.6,302.2 1092,299.7 1090.4,297.3 1088.8,294.9 1087.3,292.4 1085.8,289.9 1084.4,287.4 1083,284.8 1081.6,282.2 1080.2,279.7 1078.9,277 1077.6,274.4 1076.4,271.8 1075.2,269.1 1074,266.4 1072.8,263.7 1071.7,261 1070.6,258.3 1069.5,255.5 1068.4,252.7 1067.4,250 1066.4,247.2 1065.4,244.3 1064.4,241.5 1063.5,238.7 1062.6,235.8 1061.7,233 1060.8,230.1 1060,227.2 1059.2,224.3 1058.4,221.4 1057.6,218.5 1056.8,215.5 1056.1,212.6 1055.3,209.6 1054.6,206.7 1053.9,203.7 1053.2,200.8 1052.6,197.8 1051.9,194.8 1051.3,191.8 1050.6,188.8 1050,185.8 1049.4,182.8 1048.8,179.8 1048.2,176.8 1047.5,173.9 1046.9,170.9 1046.3,167.9 1045.6,165 1044.9,162 1044.2,159.1 1043.5,156.2 1042.7,153.3 1041.9,150.4 1041.1,147.6 1040.2,144.8 1039.3,142 1038.4,139.2 1037.4,136.5 1036.3,133.8 1035.2,131.1 1034,128.5 1032.8,125.9 1031.5,123.3 1030.1,120.8 1028.7,118.3 1028.5,118.4 1029.9,120.9 1031.1,123.5 1032.3,126.1 1033.4,128.7 1034.5,131.4 1035.5,134.1 1036.5,136.8 1037.4,139.5 1038.3,142.3 1039.1,145.1 1040,147.9 1040.7,150.8 1041.5,153.6 1042.2,156.5 1042.9,159.4 1043.5,162.4 1044.1,165.3 1044.7,168.3 1045.3,171.2 1045.9,174.2 1046.4,177.2 1047,180.2 1047.5,183.2 1048,186.2 1048.5,189.3 1049,192.3 1049.6,195.3 1050.1,198.3 1050.6,201.4 1051.1,204.4 1051.7,207.4 1052.2,210.4 1052.8,213.4 1053.3,216.4 1053.9,219.4 1054.4,222.5 1055,225.5 1055.6,228.5 1056.2,231.5 1056.8,234.5 1057.4,237.4 1058.1,240.4 1058.7,243.4 1059.4,246.4 1060.1,249.4 1060.8,252.4 1061.6,255.3 1062.4,258.3 1063.3,261.2 1064.2,264.1 1065.2,266.9 1066.3,269.8 1067.5,272.6 1068.7,275.4 1070,278.1 1071.3,280.8 1072.7,283.5 1074.1,286.2 1075.5,288.9 1077,291.5 1078.5,294.2 1080,296.8 1081.6,299.3 1083.2,301.9 1084.9,304.4 1086.6,307 1088.3,309.5 1090.1,311.9 1091.9,314.4 1093.8,316.8 1095.7,319.2 1097.6,321.5 1099.6,323.9 1101.6,326.2 1103.7,328.4 1105.8,330.7 1108,332.9 1110.2,335.1 1112.4,337.2 1114.7,339.3 1117,341.4 1119.3,343.5 1121.7,345.5 1124.1,347.5 1126.5,349.4 1129,351.3 1131.5,353.2 1134,355.1 1136.5,356.9 1139.1,358.6 1141.7,360.4 1144.4,362.1 1147.1,363.8 1149.7,365.4 1152.5,367 1155.2,368.6 1158,370.1 1160.8,371.6 1163.6,373.1 1166.4,374.5 1169.3,375.9 1172.1,377.2 1175,378.5 1177.9,379.8 1180.8,381 1183.8,382.2 1186.8,383.4 1189.7,384.5 1192.7,385.6 1195.7,386.6 1198.7,387.6 1201.8,388.5 1204.8,389.5 1207.9,390.3 1210.9,391.2 1214,392 1217.1,392.7 1220.1,393.4 1223.2,394.1 1226.3,394.7 1229.5,395.3 1232.6,395.8 1235.7,396.3 1238.8,396.7 1241.9,397.2 1245,397.5 1248.2,397.8 1251.3,398.1 1254.4,398.3 1257.6,398.5 1260.7,398.6 1263.8,398.7 1266.9,398.8 1270,398.7 1273.1,398.7" fill="#3176f6"/>
<polygon points="1272.9,390.2 1270,390.2 1267,390.3 1264,390.2 1261,390.1 1258,390 1255,389.8 1252,389.6 1249,389.4 1246,389.1 1243,388.7 1239.9,388.3 1236.9,387.9 1233.9,387.4 1231,386.9 1228,386.3 1225,385.7 1222,385.1 1219,384.4 1216,383.7 1213.1,382.9 1210.1,382.1 1207.2,381.3 1204.3,380.4 1201.3,379.5 1198.4,378.5 1195.5,377.5 1192.7,376.5 1189.8,375.4 1186.9,374.3 1184.1,373.2 1181.3,372 1178.5,370.8 1175.7,369.5 1172.9,368.2 1170.2,366.9 1167.4,365.5 1164.7,364.1 1162,362.7 1159.4,361.2 1156.7,359.7 1154.1,358.1 1151.5,356.5 1149,354.9 1146.4,353.3 1143.9,351.6 1141.4,349.9 1139,348.2 1136.5,346.4 1134.1,344.6 1131.8,342.7 1129.4,340.9 1127.1,339 1124.9,337 1122.6,335.1 1120.4,333.1 1118.3,331.1 1116.1,329 1114,326.9 1112,324.8 1110,322.7 1108,320.5 1106,318.3 1104.1,316.1 1102.3,313.8 1100.5,311.5 1098.7,309.2 1097,306.9 1095.3,304.5 1093.6,302.2 1092,299.7 1090.4,297.3 1088.8,294.9 1087.3,292.4 1085.8,289.9 1084.4,287.4 1083,284.8 1081.6,282.2 1080.2,279.7 1078.9,277 1077.6,274.4 1076.4,271.8 1075.2,269.1 1074,266.4 1072.8,263.7 1071.7,261 1070.6,258.3 1069.5,255.5 1068.4,252.7 1067.4,250 1066.4,247.2 1065.4,244.3 1064.4,241.5 1063.5,238.7 1062.6,235.8 1061.7,233 1060.8,230.1 1060,227.2 1059.2,224.3 1058.4,221.4 1057.6,218.5 1056.8,215.5 1056.1,212.6 1055.3,209.6 1054.6,206.7 1053.9,203.7 1053.2,200.8 1052.6,197.8 1051.9,194.8 1051.3,191.8 1050.6,188.8 1050,185.8 1049.4,182.8 1048.8,179.8 1048.2,176.8 1047.5,173.9 1046.9,170.9 1046.3,167.9 1045.6,165 1044.9,162 1044.2,159.1 1043.5,156.2 1042.7,153.3 1041.9,150.4 1041.1,147.6 1040.2,144.8 1039.3,142 1038.4,139.2 1037.4,136.5 1036.3,133.8 1035.2,131.1 1034,128.5 1032.8,125.9 1031.5,123.3 1030.1,120.8 1028.7,118.3 1028.5,118.4 1029.9,120.9 1031.2,123.4 1032.5,126 1033.6,128.6 1034.7,131.3 1035.7,134 1036.7,136.7 1037.7,139.4 1038.6,142.2 1039.5,145 1040.3,147.8 1041.1,150.7 1041.8,153.5 1042.6,156.4 1043.3,159.3 1043.9,162.3 1044.6,165.2 1045.2,168.2 1045.8,171.1 1046.4,174.1 1046.9,177.1 1047.5,180.1 1048.1,183.1 1048.6,186.1 1049.2,189.1 1049.7,192.1 1050.3,195.2 1050.8,198.2 1051.4,201.2 1052,204.2 1052.5,207.2 1053.1,210.2 1053.7,213.2 1054.3,216.2 1055,219.2 1055.6,222.1 1056.2,225.1 1056.9,228.1 1057.6,231.1 1058.3,234 1059,237 1059.7,239.9 1060.4,242.9 1061.2,245.8 1061.9,248.7 1062.7,251.7 1063.6,254.6 1064.5,257.5 1065.4,260.3 1066.4,263.2 1067.5,266 1068.6,268.8 1069.7,271.6 1071,274.3 1072.2,277 1073.6,279.7 1074.9,282.4 1076.3,285 1077.7,287.7 1079.2,290.3 1080.6,292.9 1082.2,295.5 1083.7,298 1085.3,300.6 1087,303.1 1088.6,305.6 1090.4,308 1092.1,310.4 1093.9,312.9 1095.7,315.2 1097.6,317.6 1099.5,319.9 1101.5,322.2 1103.5,324.5 1105.6,326.7 1107.6,329 1109.8,331.1 1111.9,333.3 1114.1,335.4 1116.4,337.5 1118.6,339.5 1120.9,341.6 1123.3,343.6 1125.6,345.5 1128,347.4 1130.5,349.3 1133,351.2 1135.5,353 1138,354.8 1140.5,356.6 1143.1,358.3 1145.7,360 1148.4,361.6 1151,363.3 1153.7,364.9 1156.4,366.4 1159.2,367.9 1161.9,369.4 1164.7,370.8 1167.5,372.2 1170.3,373.6 1173.2,374.9 1176,376.2 1178.9,377.5 1181.8,378.7 1184.7,379.9 1187.6,381 1190.6,382.1 1193.5,383.2 1196.5,384.2 1199.5,385.2 1202.5,386.2 1205.5,387.1 1208.5,387.9 1211.6,388.7 1214.6,389.5 1217.6,390.3 1220.7,391 1223.8,391.6 1226.8,392.2 1229.9,392.8 1233,393.3 1236.1,393.8 1239.1,394.3 1242.2,394.7 1245.3,395 1248.4,395.3 1251.5,395.6 1254.6,395.8 1257.7,396 1260.8,396.1 1263.9,396.2 1266.9,396.3 1270,396.2 1273,396.2" fill="#2393f1"/>
<polygon points="1272.9,390.2 1270,390.2 1267,390.3 1264,390.2 1261,390.1 1258,390 1255,389.8 1252,389.6 1249,389.4 1246,389.1 1243,388.7 1239.9,388.3 1236.9,387.9 1233.9,387.4 1231,386.9 1228,386.3 1225,385.7 1222,385.1 1219,384.4 1216,383.7 1213.1,382.9 1210.1,382.1 1207.2,381.3 1204.3,380.4 1201.3,379.5 1198.4,378.5 1195.5,377.5 1192.7,376.5 1189.8,375.4 1186.9,374.3 1184.1,373.2 1181.3,372 1178.5,370.8 1175.7,369.5 1172.9,368.2 1170.2,366.9 1167.4,365.5 1164.7,364.1 1162,362.7 1159.4,361.2 1156.7,359.7 1154.1,358.1 1151.5,356.5 1149,354.9 1146.4,353.3 1143.9,351.6 1141.4,349.9 1139,348.2 1136.5,346.4 1134.1,344.6 1131.8,342.7 1129.4,340.9 1127.1,339 1124.9,337 1122.6,335.1 1120.4,333.1 1118.3,331.1 1116.1,329 1114,326.9 1112,324.8 1110,322.7 1108,320.5 1106,318.3 1104.1,316.1 1102.3,313.8 1100.5,311.5 1098.7,309.2 1097,306.9 1095.3,304.5 1093.6,302.2 1092,299.7 1090.4,297.3 1088.8,294.9 1087.3,292.4 1085.8,289.9 1084.4,287.4 1083,284.8 1081.6,282.2 1080.2,279.7 1078.9,277 1077.6,274.4 1076.4,271.8 1075.2,269.1 1074,266.4 1072.8,263.7 1071.7,261 1070.6,258.3 1069.5,255.5 1068.4,252.7 1067.4,250 1066.4,247.2 1065.4,244.3 1064.4,241.5 1063.5,238.7 1062.6,235.8 1061.7,233 1060.8,230.1 1060,227.2 1059.2,224.3 1058.4,221.4 1057.6,218.5 1056.8,215.5 1056.1,212.6 1055.3,209.6 1054.6,206.7 1053.9,203.7 1053.2,200.8 1052.6,197.8 1051.9,194.8 1051.3,191.8 1050.6,188.8 1050,185.8 1049.4,182.8 1048.8,179.8 1048.2,176.8 1047.5,173.9 1046.9,170.9 1046.3,167.9 1045.6,165 1044.9,162 1044.2,159.1 1043.5,156.2 1042.7,153.3 1041.9,150.4 1041.1,147.6 1040.2,144.8 1039.3,142 1038.4,139.2 1037.4,136.5 1036.3,133.8 1035.2,131.1 1034,128.5 1032.8,125.9 1031.5,123.3 1030.1,120.8 1028.7,118.3 1028.6,118.4 1030,120.9 1031.3,123.4 1032.6,126 1033.7,128.6 1034.8,131.2 1035.9,133.9 1036.9,136.6 1037.9,139.4 1038.8,142.1 1039.7,144.9 1040.5,147.8 1041.3,150.6 1042.1,153.5 1042.8,156.4 1043.5,159.3 1044.2,162.2 1044.9,165.1 1045.5,168.1 1046.1,171.1 1046.7,174 1047.3,177 1047.9,180 1048.5,183 1049,186 1049.6,189 1050.2,192 1050.8,195 1051.3,198.1 1051.9,201.1 1052.5,204 1053.2,207 1053.8,210 1054.4,213 1055.1,216 1055.7,218.9 1056.4,221.9 1057.1,224.9 1057.8,227.8 1058.6,230.8 1059.3,233.7 1060.1,236.6 1060.8,239.5 1061.6,242.5 1062.4,245.4 1063.3,248.3 1064.1,251.1 1065,254 1066,256.9 1067,259.7 1068,262.5 1069.1,265.3 1070.2,268.1 1071.4,270.8 1072.6,273.5 1073.9,276.2 1075.2,278.9 1076.5,281.6 1077.9,284.2 1079.3,286.8 1080.7,289.4 1082.2,292 1083.7,294.5 1085.3,297.1 1086.8,299.6 1088.5,302.1 1090.1,304.5 1091.8,307 1093.6,309.4 1095.3,311.8 1097.2,314.1 1099,316.5 1100.9,318.8 1102.9,321 1104.8,323.3 1106.9,325.5 1108.9,327.7 1111,329.9 1113.2,332 1115.4,334.1 1117.6,336.2 1119.8,338.2 1122.1,340.2 1124.4,342.2 1126.8,344.1 1129.2,346 1131.6,347.9 1134,349.8 1136.5,351.6 1139,353.3 1141.5,355.1 1144.1,356.8 1146.7,358.5 1149.3,360.1 1152,361.7 1154.6,363.3 1157.3,364.8 1160,366.3 1162.8,367.8 1165.5,369.2 1168.3,370.6 1171.1,372 1173.9,373.3 1176.8,374.6 1179.6,375.8 1182.5,377 1185.4,378.2 1188.3,379.4 1191.2,380.4 1194.1,381.5 1197.1,382.5 1200.1,383.5 1203,384.4 1206,385.3 1209,386.2 1212,387 1215,387.8 1218,388.5 1221.1,389.2 1224.1,389.9 1227.2,390.5 1230.2,391 1233.3,391.6 1236.3,392 1239.4,392.5 1242.4,392.9 1245.5,393.2 1248.6,393.5 1251.6,393.8 1254.7,394 1257.8,394.2 1260.8,394.3 1263.9,394.4 1266.9,394.5 1270,394.4 1273,394.4" fill="#1cb4ea"/>
<polygon points="1272.9,390.2 1270,390.2 1267,390.3 1264,390.2 1261,390.1 1258,390 1255,389.8 1252,389.6 1249,389.4 1246,389.1 1243,388.7 1239.9,388.3 1236.9,387.9 1233.9,387.4 1231,386.9 1228,386.3 1225,385.7 1222,385.1 1219,384.4 1216,383.7 1213.1,382.9 1210.1,382.1 1207.2,381.3 1204.3,380.4 1201.3,379.5 1198.4,378.5 1195.5,377.5 1192.7,376.5 1189.8,375.4 1186.9,374.3 1184.1,373.2 1181.3,372 1178.5,370.8 1175.7,369.5 1172.9,368.2 1170.2,366.9 1167.4,365.5 1164.7,364.1 1162,362.7 1159.4,361.2 1156.7,359.7 1154.1,358.1 1151.5,356.5 1149,354.9 1146.4,353.3 1143.9,351.6 1141.4,349.9 1139,348.2 1136.5,346.4 1134.1,344.6 1131.8,342.7 1129.4,340.9 1127.1,339 1124.9,337 1122.6,335.1 1120.4,333.1 1118.3,331.1 1116.1,329 1114,326.9 1112,324.8 1110,322.7 1108,320.5 1106,318.3 1104.1,316.1 1102.3,313.8 1100.5,311.5 1098.7,309.2 1097,306.9 1095.3,304.5 1093.6,302.2 1092,299.7 1090.4,297.3 1088.8,294.9 1087.3,292.4 1085.8,289.9 1084.4,287.4 1083,284.8 1081.6,282.2 1080.2,279.7 1078.9,277 1077.6,274.4 1076.4,271.8 1075.2,269.1 1074,266.4 1072.8,263.7 1071.7,261 1070.6,258.3 1069.5,255.5 1068.4,252.7 1067.4,250 1066.4,247.2 1065.4,244.3 1064.4,241.5 1063.5,238.7 1062.6,235.8 1061.7,233 1060.8,230.1 1060,227.2 1059.2,224.3 1058.4,221.4 1057.6,218.5 1056.8,215.5 1056.1,212.6 1055.3,209.6 1054.6,206.7 1053.9,203.7 1053.2,200.8 1052.6,197.8 1051.9,194.8 1051.3,191.8 1050.6,188.8 1050,185.8 1049.4,182.8 1048.8,179.8 1048.2,176.8 1047.5,173.9 1046.9,170.9 1046.3,167.9 1045.6,165 1044.9,162 1044.2,159.1 1043.5,156.2 1042.7,153.3 1041.9,150.4 1041.1,147.6 1040.2,144.8 1039.3,142 1038.4,139.2 1037.4,136.5 1036.3,133.8 1035.2,131.1 1034,128.5 1032.8,125.9 1031.5,123.3 1030.1,120.8 1028.7,118.3 1028.6,118.3 1030,120.8 1031.4,123.4 1032.6,125.9 1033.8,128.5 1035,131.2 1036,133.9 1037.1,136.6 1038.1,139.3 1039,142.1 1039.9,144.9 1040.7,147.7 1041.5,150.5 1042.3,153.4 1043,156.3 1043.8,159.2 1044.4,162.1 1045.1,165.1 1045.8,168 1046.4,171 1047,174 1047.6,177 1048.2,180 1048.8,183 1049.4,186 1049.9,189 1050.5,192 1051.1,195 1051.8,198 1052.4,201 1053,203.9 1053.6,206.9 1054.3,209.9 1055,212.9 1055.7,215.8 1056.4,218.8 1057.1,221.7 1057.8,224.7 1058.6,227.6 1059.3,230.5 1060.1,233.5 1060.9,236.4 1061.7,239.3 1062.6,242.1 1063.4,245 1064.3,247.9 1065.2,250.7 1066.2,253.6 1067.1,256.4 1068.2,259.2 1069.2,262 1070.3,264.8 1071.4,267.5 1072.6,270.3 1073.9,273 1075.1,275.6 1076.4,278.3 1077.8,280.9 1079.1,283.6 1080.5,286.2 1081.9,288.7 1083.4,291.3 1084.9,293.8 1086.4,296.3 1088,298.8 1089.6,301.3 1091.3,303.7 1093,306.2 1094.7,308.6 1096.5,310.9 1098.3,313.3 1100.1,315.6 1102,317.9 1103.9,320.1 1105.9,322.4 1107.9,324.6 1109.9,326.7 1112,328.9 1114.2,331 1116.3,333.1 1118.5,335.1 1120.8,337.2 1123,339.1 1125.3,341.1 1127.7,343 1130,344.9 1132.4,346.8 1134.9,348.6 1137.3,350.4 1139.8,352.2 1142.3,353.9 1144.9,355.6 1147.5,357.3 1150.1,358.9 1152.7,360.5 1155.3,362.1 1158,363.6 1160.7,365.1 1163.4,366.6 1166.2,368 1168.9,369.4 1171.7,370.7 1174.5,372 1177.3,373.3 1180.2,374.6 1183,375.8 1185.9,376.9 1188.8,378 1191.7,379.1 1194.6,380.2 1197.5,381.2 1200.5,382.2 1203.4,383.1 1206.4,384 1209.4,384.8 1212.4,385.7 1215.4,386.4 1218.4,387.2 1221.4,387.8 1224.4,388.5 1227.4,389.1 1230.5,389.7 1233.5,390.2 1236.5,390.7 1239.6,391.1 1242.6,391.5 1245.7,391.8 1248.7,392.2 1251.8,392.4 1254.8,392.6 1257.8,392.8 1260.9,392.9 1263.9,393 1267,393.1 1270,393 1273,393" fill="#27d6e0"/>
<polyline points="934.2,44.1 936.3,46.1 938.5,48.1 940.7,50.1 943,52.1 945.3,54.1 947.6,56.1 949.9,58.2 952.3,60.2 954.6,62.2 957,64.2 959.4,66.3 961.8,68.3 964.2,70.4 966.6,72.4 969,74.5 971.4,76.6 973.8,78.7 976.2,80.9 978.5,83 980.8,85.2 983.1,87.4 985.4,89.6 987.6,91.8 989.8,94.1 992,96.3 994.1,98.7 996.2,101 998.2,103.4 1000.2,105.8 1002.1,108.2 1004,110.6 1005.8,113.1 1007.5,115.7 1009.2,118.2 1010.8,120.8 1012.3,123.5 1013.7,126.1 1015.1,128.8 1016.3,131.6 1017.5,134.4 1018.6,137.2 1019.6,140.1 1020.6,143 1021.4,146 1022.2,148.9 1022.9,151.9 1023.5,154.9 1024,157.9 1024.5,161 1024.9,164 1025.2,167.1 1025.5,170.2 1025.7,173.3 1025.8,176.4 1025.9,179.5 1025.9,182.6 1025.8,185.6 1025.7,188.7 1025.6,191.8 1025.4,194.9 1025.1,198 1024.8,201 1024.4,204.1 1024,207.1 1023.5,210.2 1023,213.3 1022.4,216.3 1021.8,219.3 1021.2,222.4 1020.6,225.4 1019.9,228.4" fill="none" stroke="#8614f4" stroke-width="6.5"/>
<polyline points="1047.5,173.9 1046.9,170.9 1046.3,167.9 1045.6,165 1044.9,162 1044.2,159.1 1043.5,156.2 1042.7,153.3 1041.9,150.4 1041.1,147.6 1040.2,144.8 1039.3,142 1038.4,139.2 1037.4,136.5 1036.3,133.8 1035.2,131.1 1034,128.5 1032.8,125.9 1031.5,123.3 1030.1,120.8 1028.7,118.3" fill="none" stroke="#3a0a8a" stroke-width="7" stroke-dasharray="14 5" opacity="0.9"/>
</g>
<polyline points="1029,121.9 1030.1,125.2 1031.2,128.5 1032.2,131.9 1033.2,135.2 1034.1,138.6 1035,141.9 1035.8,145.3 1036.6,148.6 1037.3,152 1038,155.3 1038.6,158.7 1039.2,162.1 1039.7,165.5 1040.2,168.9 1040.7,172.2 1041.1,175.6 1041.4,179 1041.7,182.4 1042,185.8 1042.2,189.2 1042.4,192.6 1042.5,196 1042.6,199.4 1042.7,202.8 1042.7,206.2 1042.7,209.5 1042.6,212.9 1042.5,216.3 1042.3,219.7 1042.1,223.1 1041.9,226.5 1041.6,229.8 1041.3,233.2 1040.9,236.6 1040.6,240 1040.1,243.3 1039.7,246.7 1039.2,250 1038.6,253.4 1038,256.7 1037.4,260 1036.8,263.4 1036.1,266.7 1035.4,270 1034.7,273.3 1033.9,276.6 1033.2,280 1032.4,283.3 1031.5,286.6 1030.7,289.9 1029.8,293.2 1028.9,296.4 1028,299.7 1027.1,303 1026.2,306.3 1025.2,309.6 1024.3,312.9 1023.3,316.2 1022.4,319.4 1021.4,322.7 1020.4,326 1019.4,329.3 1018.4,332.5 1017.4,335.8 1016.4,339.1 1015.5,342.4 1014.5,345.6 1013.5,348.9 1012.5,352.2 1011.6,355.5 1010.6,358.8 1009.7,362.1 1008.7,365.3 1007.8,368.6 1006.9,371.9 1006,375.2 1005.2,378.5 1004.3,381.8 1003.5,385.1 1002.7,388.4 1001.9,391.7 1001.1,395 1000.4,398.4 999.7,401.7 999,405 998.4,408.3 997.8,411.7 997.2,415 996.6,418.4 996.1,421.7 995.7,425.1 995.2,428.4 994.9,431.8 994.5,435.2 994.2,438.6 994,441.9 993.7,445.3 993.6,448.8 993.5,452.2 993.4,455.6 993.4,459 993.4,462.4 993.5,465.9" fill="none" stroke="#14043a" stroke-width="2.1" stroke-dasharray="7 5"/>
<polyline points="1272.9,390.2 1270,390.2 1267,390.3 1264,390.2 1261,390.1 1258,390 1255,389.8 1252,389.6 1249,389.4 1246,389.1 1243,388.7 1239.9,388.3 1236.9,387.9 1233.9,387.4 1231,386.9 1228,386.3 1225,385.7 1222,385.1 1219,384.4 1216,383.7 1213.1,382.9 1210.1,382.1 1207.2,381.3 1204.3,380.4 1201.3,379.5 1198.4,378.5 1195.5,377.5 1192.7,376.5 1189.8,375.4 1186.9,374.3 1184.1,373.2 1181.3,372 1178.5,370.8 1175.7,369.5 1172.9,368.2 1170.2,366.9 1167.4,365.5 1164.7,364.1 1162,362.7 1159.4,361.2 1156.7,359.7 1154.1,358.1 1151.5,356.5 1149,354.9 1146.4,353.3 1143.9,351.6 1141.4,349.9 1139,348.2 1136.5,346.4 1134.1,344.6 1131.8,342.7 1129.4,340.9 1127.1,339 1124.9,337 1122.6,335.1 1120.4,333.1 1118.3,331.1 1116.1,329 1114,326.9 1112,324.8 1110,322.7 1108,320.5 1106,318.3 1104.1,316.1 1102.3,313.8 1100.5,311.5 1098.7,309.2 1097,306.9 1095.3,304.5 1093.6,302.2 1092,299.7 1090.4,297.3 1088.8,294.9 1087.3,292.4 1085.8,289.9 1084.4,287.4 1083,284.8 1081.6,282.2 1080.2,279.7 1078.9,277 1077.6,274.4 1076.4,271.8 1075.2,269.1 1074,266.4 1072.8,263.7 1071.7,261 1070.6,258.3 1069.5,255.5 1068.4,252.7 1067.4,250 1066.4,247.2 1065.4,244.3 1064.4,241.5 1063.5,238.7 1062.6,235.8 1061.7,233 1060.8,230.1 1060,227.2 1059.2,224.3 1058.4,221.4 1057.6,218.5 1056.8,215.5 1056.1,212.6 1055.3,209.6 1054.6,206.7 1053.9,203.7 1053.2,200.8 1052.6,197.8 1051.9,194.8 1051.3,191.8 1050.6,188.8 1050,185.8 1049.4,182.8 1048.8,179.8 1048.2,176.8 1047.5,173.9 1046.9,170.9 1046.3,167.9 1045.6,165 1044.9,162 1044.2,159.1 1043.5,156.2 1042.7,153.3 1041.9,150.4 1041.1,147.6 1040.2,144.8 1039.3,142 1038.4,139.2 1037.4,136.5 1036.3,133.8 1035.2,131.1 1034,128.5 1032.8,125.9 1031.5,123.3 1030.1,120.8 1028.7,118.3" fill="none" stroke="#101418" stroke-width="1.8" stroke-dasharray="6 2.5"/>
<polyline points="1024.5,161 1024.9,164 1025.2,167.1 1025.5,170.2 1025.7,173.3 1025.8,176.4 1025.9,179.5 1025.9,182.6 1025.8,185.6 1025.7,188.7 1025.6,191.8 1025.4,194.9 1025.1,198 1024.8,201 1024.4,204.1 1024,207.1 1023.5,210.2 1023,213.3 1022.4,216.3 1021.8,219.3 1021.2,222.4 1020.6,225.4 1019.9,228.4 1019.1,231.5 1018.4,234.5" fill="none" stroke="#2a0670" stroke-width="2" stroke-dasharray="6 5" transform="translate(1.5 0)"/>
</g></g>
<path d="M1351,255.3 C1385,257.5 1430,254 1472.5,247.2" fill="none" stroke="#000" stroke-width="5.2" stroke-linecap="round"/>
<circle cx="1351" cy="255" r="6.3" fill="none" stroke="#555" stroke-width="1.7"/>
<circle cx="1472.5" cy="247.2" r="6" fill="none" stroke="#181848" stroke-width="1.7"/>
</g>
<rect x="920" y="53.8" width="693.8" height="411.4" fill="none" stroke="#5a5a5a" stroke-width="2.3"/>
<line x1="951.5" y1="465.2" x2="951.5" y2="459.2" stroke="#777" stroke-width="1.6"/>
<text x="951.5" y="498.3" font-size="34" text-anchor="middle" fill="#000" stroke="#000" stroke-width="1.0">−100</text>
<line x1="1109.2" y1="465.2" x2="1109.2" y2="459.2" stroke="#777" stroke-width="1.6"/>
<text x="1109.2" y="498.3" font-size="34" text-anchor="middle" fill="#000" stroke="#000" stroke-width="1.0">−50</text>
<line x1="1266.9" y1="465.2" x2="1266.9" y2="459.2" stroke="#777" stroke-width="1.6"/>
<text x="1266.9" y="498.3" font-size="34" text-anchor="middle" fill="#000" stroke="#000" stroke-width="1.0">0</text>
<line x1="1424.6" y1="465.2" x2="1424.6" y2="459.2" stroke="#777" stroke-width="1.6"/>
<text x="1424.6" y="498.3" font-size="34" text-anchor="middle" fill="#000" stroke="#000" stroke-width="1.0">50</text>
<line x1="1582.3" y1="465.2" x2="1582.3" y2="459.2" stroke="#777" stroke-width="1.6"/>
<text x="1582.3" y="498.3" font-size="34" text-anchor="middle" fill="#000" stroke="#000" stroke-width="1.0">100</text>
<line x1="920" y1="180.4" x2="926" y2="180.4" stroke="#777" stroke-width="1.6"/>
<text x="912.5" y="192.4" font-size="34" text-anchor="end" fill="#000" stroke="#000" stroke-width="1.0">0</text>
<line x1="920" y1="338.6" x2="926" y2="338.6" stroke="#777" stroke-width="1.6"/>
<text x="912.5" y="350.6" font-size="34" text-anchor="end" fill="#000" stroke="#000" stroke-width="1.0">−50</text>
<text x="1267" y="539.5" font-size="38" text-anchor="middle" fill="#000" stroke="#000" stroke-width="1.0">Distance [km]</text>
<text x="1267" y="43.4" font-size="49.8" text-anchor="middle" fill="#000" stroke="#000" stroke-width="1.0" xml:space="preserve" style="stroke-width:0.5">time =  180.0 s</text>
<defs><linearGradient id="gCB" x1="0" y1="1" x2="0" y2="0"><stop offset="0.000" stop-color="#8000ff"/><stop offset="0.050" stop-color="#6826fe"/><stop offset="0.100" stop-color="#4e4dfc"/><stop offset="0.150" stop-color="#3473f8"/><stop offset="0.200" stop-color="#1996f3"/><stop offset="0.250" stop-color="#00b5eb"/><stop offset="0.300" stop-color="#18cde4"/><stop offset="0.350" stop-color="#32e3da"/><stop offset="0.400" stop-color="#4df3ce"/><stop offset="0.450" stop-color="#66fcc2"/><stop offset="0.500" stop-color="#80ffb4"/><stop offset="0.550" stop-color="#99fca6"/><stop offset="0.600" stop-color="#b2f396"/><stop offset="0.650" stop-color="#cce385"/><stop offset="0.700" stop-color="#e6cd73"/><stop offset="0.750" stop-color="#ffb360"/><stop offset="0.800" stop-color="#ff964f"/><stop offset="0.850" stop-color="#ff733b"/><stop offset="0.900" stop-color="#ff4d27"/><stop offset="0.950" stop-color="#ff2613"/><stop offset="1.000" stop-color="#ff0000"/></linearGradient></defs>
<rect x="1632.2" y="53.3" width="19" height="470.2" fill="url(#gCB)"/>
<text x="1658.5" y="535.9" font-size="34" text-anchor="start" fill="#000" stroke="#000" stroke-width="1.0">−150</text>
<line x1="1646.2" y1="464.7" x2="1651.2" y2="464.7" stroke="#333" stroke-width="1.4" opacity="0.7"/>
<text x="1658.5" y="477.1" font-size="34" text-anchor="start" fill="#000" stroke="#000" stroke-width="1.0">−100</text>
<line x1="1646.2" y1="405.9" x2="1651.2" y2="405.9" stroke="#333" stroke-width="1.4" opacity="0.7"/>
<text x="1658.5" y="418.3" font-size="34" text-anchor="start" fill="#000" stroke="#000" stroke-width="1.0">−50</text>
<line x1="1646.2" y1="347.2" x2="1651.2" y2="347.2" stroke="#333" stroke-width="1.4" opacity="0.7"/>
<text x="1658.5" y="359.6" font-size="34" text-anchor="start" fill="#000" stroke="#000" stroke-width="1.0">0</text>
<line x1="1646.2" y1="288.4" x2="1651.2" y2="288.4" stroke="#333" stroke-width="1.4" opacity="0.7"/>
<text x="1658.5" y="300.8" font-size="34" text-anchor="start" fill="#000" stroke="#000" stroke-width="1.0">50</text>
<line x1="1646.2" y1="229.6" x2="1651.2" y2="229.6" stroke="#333" stroke-width="1.4" opacity="0.7"/>
<text x="1658.5" y="242" font-size="34" text-anchor="start" fill="#000" stroke="#000" stroke-width="1.0">100</text>
<line x1="1646.2" y1="170.9" x2="1651.2" y2="170.9" stroke="#333" stroke-width="1.4" opacity="0.7"/>
<text x="1658.5" y="183.3" font-size="34" text-anchor="start" fill="#000" stroke="#000" stroke-width="1.0">150</text>
<line x1="1646.2" y1="112.1" x2="1651.2" y2="112.1" stroke="#333" stroke-width="1.4" opacity="0.7"/>
<text x="1658.5" y="124.5" font-size="34" text-anchor="start" fill="#000" stroke="#000" stroke-width="1.0">200</text>
<text x="1658.5" y="65.7" font-size="34" text-anchor="start" fill="#000" stroke="#000" stroke-width="1.0">250</text>
<text x="1787" y="289" font-size="38" text-anchor="middle" stroke="#000" stroke-width="1.0" transform="rotate(-90 1787 289)">Temperature [<tspan font-size="22" dy="-13" dx="7">∘</tspan><tspan dy="13" dx="8">C]</tspan></text>
<!-- panel c -->
<defs>
<clipPath id="clipC"><rect x="129.8" y="592.2" width="694.4" height="413"/></clipPath>
</defs>
<line x1="199.2" y1="592.2" x2="199.2" y2="1005.2" stroke="#cecece" stroke-width="2"/>
<line x1="338.1" y1="592.2" x2="338.1" y2="1005.2" stroke="#cecece" stroke-width="2"/>
<line x1="477" y1="592.2" x2="477" y2="1005.2" stroke="#cecece" stroke-width="2"/>
<line x1="615.9" y1="592.2" x2="615.9" y2="1005.2" stroke="#cecece" stroke-width="2"/>
<line x1="754.8" y1="592.2" x2="754.8" y2="1005.2" stroke="#cecece" stroke-width="2"/>
<line x1="129.8" y1="943" x2="824.2" y2="943" stroke="#cecece" stroke-width="2"/>
<line x1="129.8" y1="736.5" x2="824.2" y2="736.5" stroke="#cecece" stroke-width="2"/>
<g clip-path="url(#clipC)">
<polygon points="129.2,1005.5 129.4,1003.5 129.6,1001.5 129.8,999.5 130,997.5 130.2,995.5 130.5,993.5 130.7,991.5 130.9,989.5 131.2,987.5 131.4,985.5 131.6,983.5 131.9,981.5 132.1,979.5 132.4,977.5 132.6,975.5 132.8,973.5 133.1,971.5 133.3,969.5 133.5,967.5 133.8,965.5 134.1,963.5 134.4,961.5 134.7,959.5 135.1,957.5 135.4,955.5 135.8,953.5 136.1,951.5 136.5,949.5 136.9,947.5 137.2,945.5 137.6,943.5 137.9,941.5 138.3,939.5 138.7,937.5 139,935.5 139.4,933.5 139.8,931.5 140.1,929.5 140.5,927.5 140.9,925.5 141.3,923.5 141.7,921.5 142.1,919.5 142.5,917.5 142.9,915.5 143.3,913.5 143.7,911.5 144.1,909.5 144.5,907.5 144.9,905.5 145.3,903.5 145.7,901.5 146.2,899.5 146.6,897.5 147,895.5 147.4,893.5 147.9,891.5 148.3,889.5 148.8,887.5 149.2,885.5 149.7,883.5 150.1,881.5 150.6,879.5 151,877.5 151.5,875.5 152,873.5 152.5,871.5 153,869.5 153.6,867.5 154.4,865.5 155.2,863.5 156.1,861.5 157.1,859.5 158,857.5 159,855.5 160,853.5 160.9,851.5 161.8,849.5 162.7,847.5 163.5,845.5 164.3,843.5 165.2,841.5 166,839.5 166.8,837.5 167.7,835.5 168.7,833.5 169.8,831.5 170.9,829.5 172.1,827.5 173.4,825.5 174.8,823.5 176.4,821.5 178.2,819.5 180.3,817.5 182.7,815.5 185.4,813.5 188.5,811.5 192.1,809.5 196.1,807.5 200.3,805.5 204.7,803.5 208.9,801.5 212.5,799.5 219,797.5 219,797.5 222,796.1 225,795.3 228,794.3 231,793.3 234,792.3 237,791.2 240,790.1 243,789 246,787.9 249,786.8 252,785.8 255,784.7 258,783.6 261,782.5 264,781.4 267,780.4 270,779.3 273,778.2 276,777.2 279,776.1 282,775 285,773.9 288,772.9 291,771.8 294,770.7 297,769.7 300,768.6 303,767.5 306,766.4 309,765.3 312,764.2 315,763.1 318,762.1 321,761 324,760 327,759 330,758.1 333,757.1 336,756.2 339,755.3 342,754.4 345,753.5 348,752.5 351,751.6 354,750.7 357,749.8 360,749 363,748.1 366,747.2 369,746.3 372,745.4 375,744.6 378,743.7 381,742.9 384,742.1 387,741.4 390,740.6 393,740 396,739.3 399,738.6 402,738 405,737.3 408,736.6 411,736 414,735.3 417,734.7 420,734.1 423,733.5 426,732.9 429,732.4 432,731.8 435,731.2 438,730.7 441,730.1 444,729.6 447,729 450,728.4 453,727.7 456,727 459,726.3 462,725.6 465,724.9 468,724.2 471,723.5 474,722.9 477,722.2 480,721.6 483,721.1 486,720.5 489,720 492,719.4 495,718.9 498,718.3 501,717.8 504,717.2 507,716.7 510,716.1 513,715.5 516,715 519,714.4 522,713.8 525,713.3 528,712.7 531,712.2 534,711.6 537,711 540,710.5 543,709.9 546,709.3 549,708.8 552,708.3 555,707.8 558,707.4 561,706.9 564,706.5 567,706.1 570,705.7 573,705.3 576,704.9 579,704.5 582,704.1 585,703.7 588,703.3 591,702.9 594,702.5 597,702.1 600,701.7 603,701.3 606,700.9 609,700.6 612,700.2 615,699.9 618,699.6 621,699.3 624,699 627,698.7 630,698.5 633,698.2 636,697.9 639,697.6 642,697.3 645,697 648,696.8 651,696.6 654,696.4 657,696.3 660,696.2 663,696.1 666,696 667,703.3 664,703.4 661,703.6 658,703.7 655,703.9 652,704.1 649,704.4 646,704.7 643,705.1 640,705.5 637,705.9 634,706.3 631,706.8 628,707.2 625,707.7 622,708.1 619,708.5 616,709 613,709.5 610,710 607,710.5 604,711 601,711.6 598,712.2 595,712.8 592,713.3 589,713.9 586,714.5 583,715.1 580,715.7 577,716.3 574,716.9 571,717.5 568,718.1 565,718.6 562,719.2 559,719.8 556,720.4 553,721 550,721.6 547,722.1 544,722.7 541,723.3 538,723.8 535,724.4 532,725 529,725.5 526,726.1 523,726.7 520,727.2 517,727.8 514,728.4 511,728.9 508,729.5 505,730.1 502,730.6 499,731.2 496,731.8 493,732.4 490,733 487,733.6 484,734.2 481,734.8 478,735.4 475,735.9 472,736.4 469,736.9 466,737.4 463,737.9 460,738.4 457,738.9 454,739.4 451,739.8 448,740.3 445,740.7 442,741.2 439,741.6 436,742.1 433,742.6 430,743 427,743.5 424,744 421,744.6 418,745.2 415,745.9 412,746.7 409,747.5 406,748.3 403,749.1 400,749.9 397,750.7 394,751.6 391,752.4 388,753.4 385,754.4 382,755.5 379,756.6 376,757.8 373,759 370,760.2 367,761.4 364,762.6 361,763.8 358,765.1 355,766.4 352,767.7 349,769.1 346,770.6 343,772 340,773.5 337,775 334,776.5 331,778 328,779.6 325,781.1 322,782.8 319,784.5 316,786.4 313,788.3 310,790.3 307,792.3 304,794.1 301,795.7 298,798.5 297.5,797.5 292.7,799.5 290,801.5 286.9,803.5 283.6,805.5 280.2,807.5 276.8,809.5 273.4,811.5 270.1,813.5 266.8,815.5 263.5,817.5 260.2,819.5 257,821.5 253.9,823.5 250.8,825.5 247.9,827.5 244.9,829.5 242,831.5 239.1,833.5 236.3,835.5 233.4,837.5 230.6,839.5 227.8,841.5 225,843.5 222.2,845.5 219.4,847.5 216.5,849.5 213.7,851.5 210.8,853.5 207.9,855.5 205,857.5 202.1,859.5 199.2,861.5 196.3,863.5 193.4,865.5 190.6,867.5 187.8,869.5 185.1,871.5 182.4,873.5 179.8,875.5 177.3,877.5 174.7,879.5 172.2,881.5 169.8,883.5 167.5,885.5 165.5,887.5 163.8,889.5 162.4,891.5 161.2,893.5 160.1,895.5 159.2,897.5 158.2,899.5 157.3,901.5 156.4,903.5 155.4,905.5 154.5,907.5 153.6,909.5 152.8,911.5 152.1,913.5 151.4,915.5 150.8,917.5 150.3,919.5 149.8,921.5 149.3,923.5 148.8,925.5 148.3,927.5 147.8,929.5 147.4,931.5 146.9,933.5 146.4,935.5 145.9,937.5 145.4,939.5 145,941.5 144.5,943.5 144,945.5 143.5,947.5 143,949.5 142.6,951.5 142.1,953.5 141.7,955.5 141.2,957.5 140.8,959.5 140.4,961.5 140,963.5 139.6,965.5 139.2,967.5 138.8,969.5 138.4,971.5 138,973.5 137.6,975.5 137.2,977.5 136.9,979.5 136.5,981.5 136.2,983.5 135.9,985.5 135.6,987.5 135.3,989.5 135.1,991.5 134.8,993.5 134.5,995.5 134.2,997.5 133.9,999.5 133.7,1001.5 133.5,1003.5 133.3,1005.5" fill="#f0f921"/>
<polygon points="297.1,797.5 292.3,799.5 289.6,801.5 286.5,803.5 283.2,805.5 279.8,807.5 276.4,809.5 273,811.5 269.7,813.5 266.4,815.5 263.1,817.5 259.8,819.5 256.6,821.5 253.5,823.5 250.4,825.5 247.5,827.5 244.5,829.5 241.6,831.5 238.7,833.5 235.9,835.5 233,837.5 230.2,839.5 227.4,841.5 224.6,843.5 221.8,845.5 219,847.5 216.1,849.5 213.3,851.5 210.4,853.5 207.5,855.5 204.6,857.5 201.7,859.5 198.8,861.5 195.9,863.5 193,865.5 190.2,867.5 187.4,869.5 184.7,871.5 182,873.5 179.4,875.5 176.9,877.5 174.3,879.5 171.8,881.5 169.4,883.5 167.1,885.5 165.1,887.5 163.4,889.5 162,891.5 160.8,893.5 159.7,895.5 158.8,897.5 157.8,899.5 156.9,901.5 156,903.5 155,905.5 154.1,907.5 153.2,909.5 152.4,911.5 151.7,913.5 151,915.5 150.4,917.5 149.9,919.5 149.4,921.5 148.9,923.5 148.4,925.5 147.9,927.5 147.4,929.5 147,931.5 146.5,933.5 146,935.5 145.5,937.5 145,939.5 144.6,941.5 144.1,943.5 143.6,945.5 143.1,947.5 142.6,949.5 142.2,951.5 141.7,953.5 141.3,955.5 140.8,957.5 140.4,959.5 140,961.5 139.6,963.5 139.2,965.5 138.8,967.5 138.4,969.5 138,971.5 137.6,973.5 137.2,975.5 136.8,977.5 136.5,979.5 136.1,981.5 135.8,983.5 135.5,985.5 135.2,987.5 134.9,989.5 134.7,991.5 134.4,993.5 134.1,995.5 133.8,997.5 133.5,999.5 133.3,1001.5 133.1,1003.5 132.9,1005.5 133.7,1005.5 133.9,1003.5 134.1,1001.5 134.4,999.5 134.6,997.5 134.9,995.5 135.2,993.5 135.5,991.5 135.8,989.5 136.1,987.5 136.4,985.5 136.7,983.5 137,981.5 137.3,979.5 137.7,977.5 138.1,975.5 138.5,973.5 138.9,971.5 139.3,969.5 139.7,967.5 140.1,965.5 140.5,963.5 140.9,961.5 141.3,959.5 141.7,957.5 142.2,955.5 142.6,953.5 143.1,951.5 143.6,949.5 144.2,947.5 144.7,945.5 145.2,943.5 145.8,941.5 146.4,939.5 147,937.5 147.6,935.5 148.3,933.5 149,931.5 149.7,929.5 150.5,927.5 151.3,925.5 152.2,923.5 153.1,921.5 154.1,919.5 155.2,917.5 156.4,915.5 157.3,913.5 158.2,911.5 159.1,909.5 160.1,907.5 161.1,905.5 162.1,903.5 163.1,901.5 164.1,899.5 165.1,897.5 166.2,895.5 167.3,893.5 168.6,891.5 170.1,889.5 171.9,887.5 173.9,885.5 176.2,883.5 178.6,881.5 181.1,879.5 183.7,877.5 186.2,875.5 188.8,873.5 191.4,871.5 194,869.5 196.7,867.5 199.5,865.5 202.3,863.5 205.1,861.5 207.9,859.5 210.7,857.5 213.5,855.5 216.2,853.5 219,851.5 221.7,849.5 224.4,847.5 227.1,845.5 229.8,843.5 232.5,841.5 235.1,839.5 237.8,837.5 240.5,835.5 243.3,833.5 246,831.5 248.8,829.5 251.5,827.5 254.4,825.5 257.3,823.5 260.2,821.5 263.3,819.5 266.4,817.5 269.5,815.5 272.6,813.5 275.7,811.5 278.9,809.5 282.1,807.5 285.2,805.5 288.3,803.5 291.1,801.5 293.6,799.5 298,797.5" fill="#fada24"/>
<polygon points="297.2,797.5 292.8,799.5 290.3,801.5 287.5,803.5 284.4,805.5 281.3,807.5 278.1,809.5 274.9,811.5 271.8,813.5 268.7,815.5 265.6,817.5 262.5,819.5 259.4,821.5 256.5,823.5 253.6,825.5 250.7,827.5 248,829.5 245.2,831.5 242.5,833.5 239.7,835.5 237,837.5 234.3,839.5 231.7,841.5 229,843.5 226.3,845.5 223.6,847.5 220.9,849.5 218.2,851.5 215.4,853.5 212.7,855.5 209.9,857.5 207.1,859.5 204.3,861.5 201.5,863.5 198.7,865.5 195.9,867.5 193.2,869.5 190.6,871.5 188,873.5 185.4,875.5 182.9,877.5 180.3,879.5 177.8,881.5 175.4,883.5 173.1,885.5 171.1,887.5 169.3,889.5 167.8,891.5 166.5,893.5 165.4,895.5 164.3,897.5 163.3,899.5 162.3,901.5 161.3,903.5 160.3,905.5 159.3,907.5 158.3,909.5 157.4,911.5 156.5,913.5 155.6,915.5 154.4,917.5 153.3,919.5 152.3,921.5 151.4,923.5 150.5,925.5 149.7,927.5 148.9,929.5 148.2,931.5 147.5,933.5 146.8,935.5 146.2,937.5 145.6,939.5 145,941.5 144.4,943.5 143.9,945.5 143.4,947.5 142.8,949.5 142.3,951.5 141.8,953.5 141.4,955.5 140.9,957.5 140.5,959.5 140.1,961.5 139.7,963.5 139.3,965.5 138.9,967.5 138.5,969.5 138.1,971.5 137.7,973.5 137.3,975.5 136.9,977.5 136.5,979.5 136.2,981.5 135.9,983.5 135.6,985.5 135.3,987.5 135,989.5 134.7,991.5 134.4,993.5 134.1,995.5 133.8,997.5 133.6,999.5 133.3,1001.5 133.1,1003.5 132.9,1005.5 133.8,1005.5 134,1003.5 134.2,1001.5 134.4,999.5 134.7,997.5 135,995.5 135.3,993.5 135.6,991.5 135.9,989.5 136.2,987.5 136.5,985.5 136.8,983.5 137.1,981.5 137.5,979.5 137.9,977.5 138.2,975.5 138.6,973.5 139,971.5 139.5,969.5 139.9,967.5 140.3,965.5 140.7,963.5 141.1,961.5 141.6,959.5 142,957.5 142.5,955.5 143,953.5 143.5,951.5 144.1,949.5 144.7,947.5 145.3,945.5 146,943.5 146.7,941.5 147.4,939.5 148.2,937.5 149.1,935.5 150,933.5 150.9,931.5 152,929.5 153.1,927.5 154.2,925.5 155.4,923.5 156.6,921.5 158,919.5 159.5,917.5 161.1,915.5 162.2,913.5 163.2,911.5 164.2,909.5 165.3,907.5 166.3,905.5 167.4,903.5 168.5,901.5 169.6,899.5 170.7,897.5 171.8,895.5 173.1,893.5 174.4,891.5 176,889.5 177.8,887.5 179.9,885.5 182.2,883.5 184.7,881.5 187.1,879.5 189.6,877.5 192.2,875.5 194.7,873.5 197.3,871.5 199.9,869.5 202.5,867.5 205.2,865.5 207.9,863.5 210.5,861.5 213.2,859.5 215.9,857.5 218.6,855.5 221.2,853.5 223.9,851.5 226.5,849.5 229.1,847.5 231.6,845.5 234.2,843.5 236.7,841.5 239.3,839.5 241.8,837.5 244.4,835.5 247,833.5 249.6,831.5 252.2,829.5 254.8,827.5 257.5,825.5 260.3,823.5 263.1,821.5 265.9,819.5 268.8,817.5 271.8,815.5 274.7,813.5 277.6,811.5 280.6,809.5 283.5,807.5 286.4,805.5 289.2,803.5 291.8,801.5 294.1,799.5 298.1,797.5" fill="#feb82c"/>
<polygon points="297.3,797.5 293.3,799.5 291,801.5 288.4,803.5 285.6,805.5 282.7,807.5 279.8,809.5 276.8,811.5 273.9,813.5 271,815.5 268,817.5 265.1,819.5 262.3,821.5 259.5,823.5 256.7,825.5 254,827.5 251.4,829.5 248.8,831.5 246.2,833.5 243.6,835.5 241,837.5 238.5,839.5 235.9,841.5 233.4,843.5 230.8,845.5 228.3,847.5 225.7,849.5 223.1,851.5 220.4,853.5 217.8,855.5 215.1,857.5 212.4,859.5 209.7,861.5 207.1,863.5 204.4,865.5 201.7,867.5 199.1,869.5 196.5,871.5 193.9,873.5 191.4,875.5 188.8,877.5 186.3,879.5 183.9,881.5 181.4,883.5 179.1,885.5 177,887.5 175.2,889.5 173.6,891.5 172.3,893.5 171,895.5 169.9,897.5 168.8,899.5 167.7,901.5 166.6,903.5 165.5,905.5 164.5,907.5 163.4,909.5 162.4,911.5 161.4,913.5 160.3,915.5 158.7,917.5 157.2,919.5 155.8,921.5 154.6,923.5 153.4,925.5 152.3,927.5 151.2,929.5 150.1,931.5 149.2,933.5 148.3,935.5 147.4,937.5 146.6,939.5 145.9,941.5 145.2,943.5 144.5,945.5 143.9,947.5 143.3,949.5 142.7,951.5 142.2,953.5 141.7,955.5 141.2,957.5 140.8,959.5 140.3,961.5 139.9,963.5 139.5,965.5 139.1,967.5 138.7,969.5 138.2,971.5 137.8,973.5 137.4,975.5 137.1,977.5 136.7,979.5 136.3,981.5 136,983.5 135.7,985.5 135.4,987.5 135.1,989.5 134.8,991.5 134.5,993.5 134.2,995.5 133.9,997.5 133.6,999.5 133.4,1001.5 133.2,1003.5 133,1005.5 133.9,1005.5 134.1,1003.5 134.3,1001.5 134.6,999.5 134.9,997.5 135.2,995.5 135.5,993.5 135.8,991.5 136.1,989.5 136.4,987.5 136.8,985.5 137.1,983.5 137.4,981.5 137.8,979.5 138.2,977.5 138.5,975.5 139,973.5 139.4,971.5 139.8,969.5 140.2,967.5 140.6,965.5 141.1,963.5 141.6,961.5 142,959.5 142.5,957.5 143,955.5 143.6,953.5 144.2,951.5 144.8,949.5 145.5,947.5 146.2,945.5 147,943.5 147.9,941.5 148.8,939.5 149.8,937.5 150.9,935.5 152,933.5 153.3,931.5 154.6,929.5 156,927.5 157.4,925.5 158.9,923.5 160.4,921.5 162.1,919.5 163.9,917.5 165.9,915.5 167.1,913.5 168.2,911.5 169.3,909.5 170.4,907.5 171.6,905.5 172.8,903.5 173.9,901.5 175.1,899.5 176.3,897.5 177.5,895.5 178.8,893.5 180.2,891.5 181.9,889.5 183.8,887.5 185.9,885.5 188.2,883.5 190.7,881.5 193.1,879.5 195.6,877.5 198.1,875.5 200.6,873.5 203.2,871.5 205.7,869.5 208.3,867.5 210.9,865.5 213.4,863.5 216,861.5 218.6,859.5 221.1,857.5 223.7,855.5 226.2,853.5 228.8,851.5 231.2,849.5 233.7,847.5 236.2,845.5 238.6,843.5 241,841.5 243.4,839.5 245.8,837.5 248.3,835.5 250.7,833.5 253.2,831.5 255.6,829.5 258.1,827.5 260.7,825.5 263.2,823.5 265.9,821.5 268.6,819.5 271.3,817.5 274.1,815.5 276.8,813.5 279.5,811.5 282.2,809.5 284.9,807.5 287.6,805.5 290.2,803.5 292.6,801.5 294.6,799.5 298.2,797.5" fill="#f9973f"/>
<polygon points="297.4,797.5 293.8,799.5 291.8,801.5 289.4,803.5 286.8,805.5 284.1,807.5 281.4,809.5 278.7,811.5 276,813.5 273.3,815.5 270.5,817.5 267.8,819.5 265.1,821.5 262.4,823.5 259.9,825.5 257.3,827.5 254.8,829.5 252.4,831.5 249.9,833.5 247.5,835.5 245,837.5 242.6,839.5 240.2,841.5 237.8,843.5 235.4,845.5 232.9,847.5 230.4,849.5 228,851.5 225.4,853.5 222.9,855.5 220.3,857.5 217.8,859.5 215.2,861.5 212.6,863.5 210.1,865.5 207.5,867.5 204.9,869.5 202.4,871.5 199.8,873.5 197.3,875.5 194.8,877.5 192.3,879.5 189.9,881.5 187.4,883.5 185.1,885.5 183,887.5 181.1,889.5 179.4,891.5 178,893.5 176.7,895.5 175.5,897.5 174.3,899.5 173.1,901.5 172,903.5 170.8,905.5 169.6,907.5 168.5,909.5 167.4,911.5 166.3,913.5 165.1,915.5 163.1,917.5 161.3,919.5 159.6,921.5 158.1,923.5 156.6,925.5 155.2,927.5 153.8,929.5 152.5,931.5 151.2,933.5 150.1,935.5 149,937.5 148,939.5 147.1,941.5 146.2,943.5 145.4,945.5 144.7,947.5 144,949.5 143.4,951.5 142.8,953.5 142.2,955.5 141.7,957.5 141.2,959.5 140.8,961.5 140.3,963.5 139.8,965.5 139.4,967.5 139,969.5 138.6,971.5 138.2,973.5 137.7,975.5 137.4,977.5 137,979.5 136.6,981.5 136.3,983.5 136,985.5 135.6,987.5 135.3,989.5 135,991.5 134.7,993.5 134.4,995.5 134.1,997.5 133.8,999.5 133.5,1001.5 133.3,1003.5 133.1,1005.5 134.1,1005.5 134.3,1003.5 134.6,1001.5 134.9,999.5 135.2,997.5 135.5,995.5 135.8,993.5 136.1,991.5 136.5,989.5 136.8,987.5 137.1,985.5 137.5,983.5 137.8,981.5 138.2,979.5 138.6,977.5 139,975.5 139.4,973.5 139.9,971.5 140.3,969.5 140.7,967.5 141.2,965.5 141.7,963.5 142.2,961.5 142.7,959.5 143.2,957.5 143.8,955.5 144.3,953.5 145,951.5 145.7,949.5 146.5,947.5 147.4,945.5 148.3,943.5 149.4,941.5 150.5,939.5 151.7,937.5 153,935.5 154.4,933.5 156,931.5 157.6,929.5 159.2,927.5 160.9,925.5 162.6,923.5 164.4,921.5 166.4,919.5 168.4,917.5 170.6,915.5 172,913.5 173.2,911.5 174.4,909.5 175.6,907.5 176.9,905.5 178.1,903.5 179.3,901.5 180.6,899.5 181.8,897.5 183.1,895.5 184.5,893.5 186,891.5 187.8,889.5 189.7,887.5 191.9,885.5 194.2,883.5 196.7,881.5 199.1,879.5 201.6,877.5 204.1,875.5 206.6,873.5 209.1,871.5 211.6,869.5 214.1,867.5 216.6,865.5 219,863.5 221.5,861.5 223.9,859.5 226.4,857.5 228.8,855.5 231.2,853.5 233.6,851.5 236,849.5 238.4,847.5 240.7,845.5 243,843.5 245.3,841.5 247.6,839.5 249.8,837.5 252.1,835.5 254.4,833.5 256.8,831.5 259.1,829.5 261.4,827.5 263.8,825.5 266.2,823.5 268.7,821.5 271.2,819.5 273.8,817.5 276.3,815.5 278.9,813.5 281.4,811.5 283.9,809.5 286.4,807.5 288.8,805.5 291.1,803.5 293.3,801.5 295.1,799.5 298.3,797.5" fill="#ed7a52"/>
<polygon points="297.5,797.5 294.3,799.5 292.5,801.5 290.3,803.5 288,805.5 285.6,807.5 283.1,809.5 280.6,811.5 278.1,813.5 275.5,815.5 273,817.5 270.4,819.5 267.9,821.5 265.4,823.5 263,825.5 260.6,827.5 258.3,829.5 256,831.5 253.6,833.5 251.3,835.5 249,837.5 246.8,839.5 244.5,841.5 242.2,843.5 239.9,845.5 237.6,847.5 235.2,849.5 232.8,851.5 230.4,853.5 228,855.5 225.6,857.5 223.1,859.5 220.7,861.5 218.2,863.5 215.8,865.5 213.3,867.5 210.8,869.5 208.3,871.5 205.8,873.5 203.3,875.5 200.8,877.5 198.3,879.5 195.9,881.5 193.4,883.5 191.1,885.5 188.9,887.5 187,889.5 185.2,891.5 183.7,893.5 182.3,895.5 181,897.5 179.8,899.5 178.5,901.5 177.3,903.5 176.1,905.5 174.8,907.5 173.6,909.5 172.4,911.5 171.2,913.5 169.8,915.5 167.6,917.5 165.6,919.5 163.6,921.5 161.8,923.5 160.1,925.5 158.4,927.5 156.8,929.5 155.2,931.5 153.6,933.5 152.2,935.5 150.9,937.5 149.7,939.5 148.6,941.5 147.5,943.5 146.6,945.5 145.7,947.5 144.9,949.5 144.2,951.5 143.5,953.5 143,955.5 142.4,957.5 141.9,959.5 141.4,961.5 140.9,963.5 140.4,965.5 139.9,967.5 139.5,969.5 139.1,971.5 138.6,973.5 138.2,975.5 137.8,977.5 137.4,979.5 137,981.5 136.7,983.5 136.3,985.5 136,987.5 135.7,989.5 135.3,991.5 135,993.5 134.7,995.5 134.4,997.5 134.1,999.5 133.8,1001.5 133.5,1003.5 133.3,1005.5 134.4,1005.5 134.6,1003.5 134.9,1001.5 135.2,999.5 135.5,997.5 135.9,995.5 136.2,993.5 136.6,991.5 136.9,989.5 137.3,987.5 137.6,985.5 138,983.5 138.4,981.5 138.8,979.5 139.2,977.5 139.6,975.5 140.1,973.5 140.5,971.5 141,969.5 141.4,967.5 141.9,965.5 142.4,963.5 142.9,961.5 143.5,959.5 144,957.5 144.6,955.5 145.3,953.5 146,951.5 146.8,949.5 147.7,947.5 148.7,945.5 149.8,943.5 151,941.5 152.4,939.5 153.8,937.5 155.4,935.5 157.1,933.5 158.9,931.5 160.7,929.5 162.7,927.5 164.6,925.5 166.6,923.5 168.6,921.5 170.7,919.5 173,917.5 175.4,915.5 176.9,913.5 178.2,911.5 179.5,909.5 180.8,907.5 182.1,905.5 183.4,903.5 184.7,901.5 186.1,899.5 187.4,897.5 188.8,895.5 190.3,893.5 191.9,891.5 193.7,889.5 195.7,887.5 197.9,885.5 200.2,883.5 202.7,881.5 205.1,879.5 207.6,877.5 210.1,875.5 212.5,873.5 215,871.5 217.4,869.5 219.8,867.5 222.2,865.5 224.6,863.5 227,861.5 229.3,859.5 231.6,857.5 233.9,855.5 236.2,853.5 238.5,851.5 240.8,849.5 243,847.5 245.2,845.5 247.4,843.5 249.5,841.5 251.7,839.5 253.8,837.5 256,835.5 258.2,833.5 260.3,831.5 262.5,829.5 264.7,827.5 267,825.5 269.2,823.5 271.5,821.5 273.9,819.5 276.3,817.5 278.6,815.5 281,813.5 283.3,811.5 285.6,809.5 287.8,807.5 290,805.5 292.1,803.5 294,801.5 295.6,799.5 298.5,797.5" fill="#df6263"/>
<polygon points="297.7,797.5 294.8,799.5 293.2,801.5 291.3,803.5 289.2,805.5 287,807.5 284.8,809.5 282.5,811.5 280.2,813.5 277.8,815.5 275.5,817.5 273.1,819.5 270.7,821.5 268.4,823.5 266.2,825.5 263.9,827.5 261.7,829.5 259.5,831.5 257.4,833.5 255.2,835.5 253,837.5 250.9,839.5 248.7,841.5 246.6,843.5 244.4,845.5 242.2,847.5 240,849.5 237.7,851.5 235.4,853.5 233.1,855.5 230.8,857.5 228.5,859.5 226.2,861.5 223.8,863.5 221.4,865.5 219,867.5 216.6,869.5 214.2,871.5 211.7,873.5 209.3,875.5 206.8,877.5 204.3,879.5 201.9,881.5 199.4,883.5 197.1,885.5 194.9,887.5 192.9,889.5 191.1,891.5 189.5,893.5 188,895.5 186.6,897.5 185.3,899.5 183.9,901.5 182.6,903.5 181.3,905.5 180,907.5 178.7,909.5 177.4,911.5 176.1,913.5 174.6,915.5 172.2,917.5 169.9,919.5 167.8,921.5 165.8,923.5 163.8,925.5 161.9,927.5 159.9,929.5 158.1,931.5 156.3,933.5 154.6,935.5 153,937.5 151.6,939.5 150.2,941.5 149,943.5 147.9,945.5 146.9,947.5 146,949.5 145.2,951.5 144.5,953.5 143.8,955.5 143.2,957.5 142.7,959.5 142.1,961.5 141.6,963.5 141.1,965.5 140.6,967.5 140.2,969.5 139.7,971.5 139.3,973.5 138.8,975.5 138.4,977.5 138,979.5 137.6,981.5 137.2,983.5 136.8,985.5 136.5,987.5 136.1,989.5 135.8,991.5 135.4,993.5 135.1,995.5 134.7,997.5 134.4,999.5 134.1,1001.5 133.8,1003.5 133.6,1005.5 134.7,1005.5 135,1003.5 135.3,1001.5 135.6,999.5 136,997.5 136.4,995.5 136.8,993.5 137.2,991.5 137.5,989.5 137.9,987.5 138.3,985.5 138.7,983.5 139.1,981.5 139.5,979.5 139.9,977.5 140.4,975.5 140.9,973.5 141.3,971.5 141.8,969.5 142.3,967.5 142.8,965.5 143.3,963.5 143.9,961.5 144.5,959.5 145.1,957.5 145.7,955.5 146.4,953.5 147.2,951.5 148.1,949.5 149.1,947.5 150.3,945.5 151.6,943.5 153,941.5 154.5,939.5 156.1,937.5 157.9,935.5 159.9,933.5 162,931.5 164.1,929.5 166.3,927.5 168.5,925.5 170.6,923.5 172.8,921.5 175.2,919.5 177.6,917.5 180.2,915.5 181.8,913.5 183.2,911.5 184.6,909.5 186,907.5 187.4,905.5 188.8,903.5 190.1,901.5 191.5,899.5 193,897.5 194.4,895.5 196,893.5 197.7,891.5 199.6,889.5 201.6,887.5 203.9,885.5 206.3,883.5 208.7,881.5 211.1,879.5 213.6,877.5 216,875.5 218.4,873.5 220.9,871.5 223.3,869.5 225.6,867.5 227.9,865.5 230.2,863.5 232.4,861.5 234.7,859.5 236.9,857.5 239.1,855.5 241.2,853.5 243.4,851.5 245.6,849.5 247.7,847.5 249.7,845.5 251.8,843.5 253.8,841.5 255.8,839.5 257.8,837.5 259.9,835.5 261.9,833.5 263.9,831.5 266,829.5 268,827.5 270.1,825.5 272.2,823.5 274.4,821.5 276.5,819.5 278.7,817.5 280.9,815.5 283.1,813.5 285.2,811.5 287.3,809.5 289.3,807.5 291.2,805.5 293.1,803.5 294.7,801.5 296.1,799.5 298.6,797.5" fill="#ce4b75"/>
<polygon points="297.8,797.5 295.3,799.5 293.9,801.5 292.3,803.5 290.4,805.5 288.5,807.5 286.5,809.5 284.4,811.5 282.3,813.5 280.1,815.5 277.9,817.5 275.7,819.5 273.6,821.5 271.4,823.5 269.3,825.5 267.2,827.5 265.2,829.5 263.1,831.5 261.1,833.5 259.1,835.5 257,837.5 255,839.5 253,841.5 251,843.5 248.9,845.5 246.9,847.5 244.8,849.5 242.6,851.5 240.4,853.5 238.3,855.5 236.1,857.5 233.9,859.5 231.6,861.5 229.4,863.5 227.1,865.5 224.8,867.5 222.5,869.5 220.1,871.5 217.6,873.5 215.2,875.5 212.8,877.5 210.3,879.5 207.9,881.5 205.5,883.5 203.1,885.5 200.8,887.5 198.8,889.5 196.9,891.5 195.2,893.5 193.6,895.5 192.2,897.5 190.7,899.5 189.3,901.5 188,903.5 186.6,905.5 185.2,907.5 183.8,909.5 182.4,911.5 181,913.5 179.4,915.5 176.8,917.5 174.4,919.5 172,921.5 169.8,923.5 167.7,925.5 165.5,927.5 163.3,929.5 161.2,931.5 159.1,933.5 157.1,935.5 155.3,937.5 153.7,939.5 152.2,941.5 150.8,943.5 149.5,945.5 148.3,947.5 147.3,949.5 146.4,951.5 145.6,953.5 144.9,955.5 144.3,957.5 143.7,959.5 143.1,961.5 142.5,963.5 142,965.5 141.5,967.5 141,969.5 140.5,971.5 140.1,973.5 139.6,975.5 139.1,977.5 138.7,979.5 138.3,981.5 137.9,983.5 137.5,985.5 137.1,987.5 136.7,989.5 136.4,991.5 136,993.5 135.6,995.5 135.2,997.5 134.8,999.5 134.5,1001.5 134.2,1003.5 133.9,1005.5 135.2,1005.5 135.4,1003.5 135.8,1001.5 136.2,999.5 136.6,997.5 137,995.5 137.4,993.5 137.8,991.5 138.3,989.5 138.7,987.5 139.1,985.5 139.5,983.5 139.9,981.5 140.4,979.5 140.8,977.5 141.3,975.5 141.8,973.5 142.3,971.5 142.8,969.5 143.3,967.5 143.8,965.5 144.4,963.5 145,961.5 145.6,959.5 146.3,957.5 146.9,955.5 147.7,953.5 148.5,951.5 149.5,949.5 150.7,947.5 152,945.5 153.5,943.5 155.1,941.5 156.8,939.5 158.7,937.5 160.7,935.5 163,933.5 165.3,931.5 167.7,929.5 170.1,927.5 172.5,925.5 174.8,923.5 177.2,921.5 179.7,919.5 182.2,917.5 184.9,915.5 186.7,913.5 188.2,911.5 189.7,909.5 191.2,907.5 192.6,905.5 194.1,903.5 195.6,901.5 197,899.5 198.5,897.5 200.1,895.5 201.7,893.5 203.5,891.5 205.4,889.5 207.6,887.5 209.9,885.5 212.3,883.5 214.7,881.5 217.1,879.5 219.6,877.5 222,875.5 224.4,873.5 226.8,871.5 229.1,869.5 231.4,867.5 233.6,865.5 235.8,863.5 237.9,861.5 240,859.5 242.1,857.5 244.2,855.5 246.3,853.5 248.3,851.5 250.3,849.5 252.3,847.5 254.3,845.5 256.2,843.5 258.1,841.5 260,839.5 261.8,837.5 263.7,835.5 265.6,833.5 267.5,831.5 269.4,829.5 271.3,827.5 273.2,825.5 275.2,823.5 277.2,821.5 279.2,819.5 281.2,817.5 283.2,815.5 285.2,813.5 287.1,811.5 288.9,809.5 290.7,807.5 292.4,805.5 294,803.5 295.5,801.5 296.7,799.5 298.7,797.5" fill="#bc3587"/>
<polygon points="297.9,797.5 295.9,799.5 294.7,801.5 293.2,803.5 291.6,805.5 289.9,807.5 288.1,809.5 286.3,811.5 284.4,813.5 282.4,815.5 280.4,817.5 278.4,819.5 276.4,821.5 274.4,823.5 272.4,825.5 270.5,827.5 268.6,829.5 266.7,831.5 264.8,833.5 262.9,835.5 261,837.5 259.2,839.5 257.3,841.5 255.4,843.5 253.5,845.5 251.5,847.5 249.5,849.5 247.5,851.5 245.5,853.5 243.4,855.5 241.3,857.5 239.2,859.5 237.1,861.5 235,863.5 232.8,865.5 230.6,867.5 228.3,869.5 226,871.5 223.6,873.5 221.2,875.5 218.8,877.5 216.3,879.5 213.9,881.5 211.5,883.5 209.1,885.5 206.8,887.5 204.6,889.5 202.7,891.5 200.9,893.5 199.3,895.5 197.7,897.5 196.2,899.5 194.8,901.5 193.3,903.5 191.8,905.5 190.4,907.5 188.9,909.5 187.4,911.5 185.9,913.5 184.1,915.5 181.4,917.5 178.9,919.5 176.4,921.5 174,923.5 171.7,925.5 169.3,927.5 166.9,929.5 164.5,931.5 162.2,933.5 159.9,935.5 157.9,937.5 156,939.5 154.3,941.5 152.7,943.5 151.2,945.5 149.9,947.5 148.7,949.5 147.7,951.5 146.9,953.5 146.1,955.5 145.5,957.5 144.8,959.5 144.2,961.5 143.6,963.5 143,965.5 142.5,967.5 142,969.5 141.5,971.5 141,973.5 140.5,975.5 140,977.5 139.6,979.5 139.1,981.5 138.7,983.5 138.3,985.5 137.9,987.5 137.5,989.5 137,991.5 136.6,993.5 136.2,995.5 135.8,997.5 135.4,999.5 135,1001.5 134.6,1003.5 134.4,1005.5 135.7,1005.5 136,1003.5 136.4,1001.5 136.8,999.5 137.3,997.5 137.7,995.5 138.2,993.5 138.7,991.5 139.1,989.5 139.6,987.5 140,985.5 140.5,983.5 140.9,981.5 141.4,979.5 141.9,977.5 142.4,975.5 142.9,973.5 143.5,971.5 144,969.5 144.5,967.5 145,965.5 145.7,963.5 146.3,961.5 147,959.5 147.6,957.5 148.3,955.5 149.1,953.5 150,951.5 151.1,949.5 152.4,947.5 153.9,945.5 155.6,943.5 157.3,941.5 159.3,939.5 161.4,937.5 163.7,935.5 166.2,933.5 168.8,931.5 171.5,929.5 174.1,927.5 176.7,925.5 179.2,923.5 181.7,921.5 184.3,919.5 186.9,917.5 189.7,915.5 191.6,913.5 193.2,911.5 194.8,909.5 196.3,907.5 197.9,905.5 199.4,903.5 201,901.5 202.5,899.5 204.1,897.5 205.7,895.5 207.5,893.5 209.3,891.5 211.3,889.5 213.5,887.5 215.9,885.5 218.3,883.5 220.7,881.5 223.1,879.5 225.6,877.5 227.9,875.5 230.3,873.5 232.7,871.5 235,869.5 237.2,867.5 239.3,865.5 241.4,863.5 243.4,861.5 245.4,859.5 247.3,857.5 249.3,855.5 251.3,853.5 253.2,851.5 255.1,849.5 257,847.5 258.8,845.5 260.6,843.5 262.3,841.5 264.1,839.5 265.8,837.5 267.6,835.5 269.4,833.5 271.1,831.5 272.9,829.5 274.6,827.5 276.4,825.5 278.2,823.5 280,821.5 281.8,819.5 283.7,817.5 285.5,815.5 287.3,813.5 289,811.5 290.6,809.5 292.2,807.5 293.6,805.5 295,803.5 296.2,801.5 297.2,799.5 298.8,797.5" fill="#ac2694"/>
<polygon points="298,797.5 296.4,799.5 295.4,801.5 294.2,803.5 292.8,805.5 291.4,807.5 289.8,809.5 288.2,811.5 286.5,813.5 284.7,815.5 282.9,817.5 281,819.5 279.2,821.5 277.4,823.5 275.6,825.5 273.8,827.5 272.1,829.5 270.3,831.5 268.6,833.5 266.8,835.5 265,837.5 263.3,839.5 261.5,841.5 259.8,843.5 258,845.5 256.2,847.5 254.3,849.5 252.4,851.5 250.5,853.5 248.5,855.5 246.5,857.5 244.6,859.5 242.6,861.5 240.6,863.5 238.5,865.5 236.4,867.5 234.2,869.5 231.9,871.5 229.5,873.5 227.1,875.5 224.8,877.5 222.3,879.5 219.9,881.5 217.5,883.5 215.1,885.5 212.7,887.5 210.5,889.5 208.5,891.5 206.7,893.5 204.9,895.5 203.3,897.5 201.7,899.5 200.2,901.5 198.6,903.5 197.1,905.5 195.5,907.5 194,909.5 192.4,911.5 190.8,913.5 188.9,915.5 186.1,917.5 183.5,919.5 180.9,921.5 178.4,923.5 175.9,925.5 173.3,927.5 170.7,929.5 168,931.5 165.4,933.5 162.9,935.5 160.6,937.5 158.5,939.5 156.5,941.5 154.8,943.5 153.1,945.5 151.6,947.5 150.3,949.5 149.2,951.5 148.3,953.5 147.5,955.5 146.8,957.5 146.2,959.5 145.5,961.5 144.9,963.5 144.2,965.5 143.7,967.5 143.2,969.5 142.7,971.5 142.1,973.5 141.6,975.5 141.1,977.5 140.6,979.5 140.1,981.5 139.7,983.5 139.2,985.5 138.8,987.5 138.3,989.5 137.9,991.5 137.4,993.5 136.9,995.5 136.5,997.5 136,999.5 135.6,1001.5 135.2,1003.5 134.9,1005.5 136.4,1005.5 136.7,1003.5 137.1,1001.5 137.6,999.5 138.1,997.5 138.6,995.5 139.1,993.5 139.6,991.5 140.2,989.5 140.6,987.5 141.1,985.5 141.6,983.5 142.1,981.5 142.6,979.5 143.1,977.5 143.7,975.5 144.2,973.5 144.8,971.5 145.4,969.5 145.9,967.5 146.5,965.5 147.1,963.5 147.8,961.5 148.5,959.5 149.2,957.5 149.9,955.5 150.7,953.5 151.7,951.5 152.9,949.5 154.3,947.5 156,945.5 157.8,943.5 159.8,941.5 162,939.5 164.3,937.5 166.9,935.5 169.6,933.5 172.5,931.5 175.4,929.5 178.2,927.5 180.9,925.5 183.6,923.5 186.2,921.5 188.9,919.5 191.7,917.5 194.5,915.5 196.5,913.5 198.2,911.5 199.9,909.5 201.5,907.5 203.1,905.5 204.8,903.5 206.4,901.5 208,899.5 209.7,897.5 211.4,895.5 213.2,893.5 215.1,891.5 217.2,889.5 219.5,887.5 221.8,885.5 224.3,883.5 226.7,881.5 229.1,879.5 231.5,877.5 233.9,875.5 236.3,873.5 238.6,871.5 240.8,869.5 242.9,867.5 245,865.5 246.9,863.5 248.8,861.5 250.7,859.5 252.6,857.5 254.4,855.5 256.3,853.5 258.1,851.5 259.9,849.5 261.6,847.5 263.3,845.5 265,843.5 266.6,841.5 268.2,839.5 269.8,837.5 271.5,835.5 273.1,833.5 274.7,831.5 276.3,829.5 277.9,827.5 279.5,825.5 281.2,823.5 282.8,821.5 284.5,819.5 286.2,817.5 287.8,815.5 289.4,813.5 290.9,811.5 292.3,809.5 293.6,807.5 294.8,805.5 296,803.5 296.9,801.5 297.7,799.5 298.9,797.5" fill="#99159f"/>
<polygon points="298.1,797.5 296.9,799.5 296.1,801.5 295.2,803.5 294,805.5 292.8,807.5 291.5,809.5 290.1,811.5 288.6,813.5 287,815.5 285.4,817.5 283.7,819.5 282,821.5 280.4,823.5 278.7,825.5 277.1,827.5 275.5,829.5 273.9,831.5 272.3,833.5 270.7,835.5 269,837.5 267.4,839.5 265.8,841.5 264.2,843.5 262.5,845.5 260.8,847.5 259.1,849.5 257.3,851.5 255.5,853.5 253.6,855.5 251.8,857.5 249.9,859.5 248,861.5 246.1,863.5 244.2,865.5 242.1,867.5 240,869.5 237.8,871.5 235.5,873.5 233.1,875.5 230.7,877.5 228.3,879.5 225.9,881.5 223.5,883.5 221,885.5 218.7,887.5 216.4,889.5 214.3,891.5 212.4,893.5 210.6,895.5 208.9,897.5 207.2,899.5 205.6,901.5 204,903.5 202.3,905.5 200.7,907.5 199.1,909.5 197.4,911.5 195.7,913.5 193.7,915.5 190.9,917.5 188.1,919.5 185.4,921.5 182.8,923.5 180.1,925.5 177.4,927.5 174.6,929.5 171.7,931.5 168.8,933.5 166.1,935.5 163.5,937.5 161.2,939.5 159,941.5 157,943.5 155.2,945.5 153.5,947.5 152.1,949.5 150.9,951.5 149.9,953.5 149.1,955.5 148.4,957.5 147.7,959.5 147,961.5 146.3,963.5 145.7,965.5 145.1,967.5 144.6,969.5 144,971.5 143.4,973.5 142.9,975.5 142.3,977.5 141.8,979.5 141.3,981.5 140.8,983.5 140.3,985.5 139.8,987.5 139.4,989.5 138.8,991.5 138.3,993.5 137.8,995.5 137.3,997.5 136.8,999.5 136.3,1001.5 135.9,1003.5 135.6,1005.5 137.1,1005.5 137.4,1003.5 137.9,1001.5 138.4,999.5 139,997.5 139.6,995.5 140.2,993.5 140.7,991.5 141.3,989.5 141.9,987.5 142.4,985.5 142.9,983.5 143.5,981.5 144,979.5 144.6,977.5 145.1,975.5 145.7,973.5 146.3,971.5 146.9,969.5 147.5,967.5 148.1,965.5 148.7,963.5 149.4,961.5 150.2,959.5 150.9,957.5 151.6,955.5 152.5,953.5 153.6,951.5 154.8,949.5 156.4,947.5 158.2,945.5 160.2,943.5 162.4,941.5 164.8,939.5 167.4,937.5 170.2,935.5 173.2,933.5 176.3,931.5 179.4,929.5 182.5,927.5 185.3,925.5 188.1,923.5 190.8,921.5 193.6,919.5 196.4,917.5 199.3,915.5 201.4,913.5 203.2,911.5 204.9,909.5 206.7,907.5 208.4,905.5 210.1,903.5 211.8,901.5 213.5,899.5 215.2,897.5 217,895.5 218.9,893.5 221,891.5 223.1,889.5 225.4,887.5 227.8,885.5 230.3,883.5 232.7,881.5 235.1,879.5 237.5,877.5 239.9,875.5 242.2,873.5 244.5,871.5 246.6,869.5 248.7,867.5 250.7,865.5 252.5,863.5 254.3,861.5 256.1,859.5 257.8,857.5 259.5,855.5 261.3,853.5 263,851.5 264.6,849.5 266.3,847.5 267.8,845.5 269.4,843.5 270.9,841.5 272.4,839.5 273.8,837.5 275.3,835.5 276.8,833.5 278.3,831.5 279.8,829.5 281.2,827.5 282.7,825.5 284.1,823.5 285.6,821.5 287.1,819.5 288.7,817.5 290.1,815.5 291.5,813.5 292.8,811.5 294,809.5 295.1,807.5 296.1,805.5 296.9,803.5 297.6,801.5 298.2,799.5 299,797.5" fill="#8606a6"/>
<polygon points="298.2,797.5 297.4,799.5 296.8,801.5 296.1,803.5 295.3,805.5 294.3,807.5 293.2,809.5 292,811.5 290.7,813.5 289.3,815.5 287.9,817.5 286.3,819.5 284.8,821.5 283.3,823.5 281.9,825.5 280.4,827.5 279,829.5 277.5,831.5 276,833.5 274.5,835.5 273,837.5 271.6,839.5 270.1,841.5 268.6,843.5 267,845.5 265.5,847.5 263.8,849.5 262.2,851.5 260.5,853.5 258.7,855.5 257,857.5 255.3,859.5 253.5,861.5 251.7,863.5 249.9,865.5 247.9,867.5 245.8,869.5 243.7,871.5 241.4,873.5 239.1,875.5 236.7,877.5 234.3,879.5 231.9,881.5 229.5,883.5 227,885.5 224.6,887.5 222.3,889.5 220.2,891.5 218.1,893.5 216.2,895.5 214.4,897.5 212.7,899.5 211,901.5 209.3,903.5 207.6,905.5 205.9,907.5 204.1,909.5 202.4,911.5 200.6,913.5 198.5,915.5 195.6,917.5 192.8,919.5 190,921.5 187.3,923.5 184.5,925.5 181.7,927.5 178.6,929.5 175.5,931.5 172.4,933.5 169.4,935.5 166.6,937.5 164,939.5 161.6,941.5 159.4,943.5 157.4,945.5 155.6,947.5 154,949.5 152.8,951.5 151.7,953.5 150.8,955.5 150.1,957.5 149.4,959.5 148.6,961.5 147.9,963.5 147.3,965.5 146.7,967.5 146.1,969.5 145.5,971.5 144.9,973.5 144.3,975.5 143.8,977.5 143.2,979.5 142.7,981.5 142.1,983.5 141.6,985.5 141.1,987.5 140.5,989.5 139.9,991.5 139.4,993.5 138.8,995.5 138.2,997.5 137.6,999.5 137.1,1001.5 136.6,1003.5 136.3,1005.5 137.9,1005.5 138.3,1003.5 138.8,1001.5 139.4,999.5 140,997.5 140.7,995.5 141.3,993.5 142,991.5 142.6,989.5 143.2,987.5 143.8,985.5 144.4,983.5 145,981.5 145.5,979.5 146.1,977.5 146.7,975.5 147.4,973.5 148,971.5 148.6,969.5 149.2,967.5 149.8,965.5 150.6,963.5 151.3,961.5 152,959.5 152.7,957.5 153.5,955.5 154.4,953.5 155.5,951.5 156.9,949.5 158.6,947.5 160.6,945.5 162.8,943.5 165.2,941.5 167.8,939.5 170.6,937.5 173.7,935.5 176.9,933.5 180.3,931.5 183.6,929.5 186.8,927.5 189.8,925.5 192.7,923.5 195.5,921.5 198.3,919.5 201.2,917.5 204.1,915.5 206.3,913.5 208.2,911.5 210,909.5 211.9,907.5 213.7,905.5 215.4,903.5 217.2,901.5 219,899.5 220.8,897.5 222.7,895.5 224.7,893.5 226.8,891.5 229,889.5 231.4,887.5 233.8,885.5 236.3,883.5 238.7,881.5 241.1,879.5 243.5,877.5 245.8,875.5 248.1,873.5 250.4,871.5 252.5,869.5 254.5,867.5 256.4,865.5 258.1,863.5 259.8,861.5 261.4,859.5 263,857.5 264.7,855.5 266.3,853.5 267.8,851.5 269.4,849.5 270.9,847.5 272.4,845.5 273.8,843.5 275.1,841.5 276.5,839.5 277.9,837.5 279.2,835.5 280.5,833.5 281.9,831.5 283.2,829.5 284.5,827.5 285.8,825.5 287.1,823.5 288.5,821.5 289.8,819.5 291.1,817.5 292.4,815.5 293.6,813.5 294.7,811.5 295.6,809.5 296.5,807.5 297.3,805.5 297.9,803.5 298.4,801.5 298.7,799.5 299.1,797.5" fill="#7100a8"/>
<polygon points="298.3,797.5 297.9,799.5 297.6,801.5 297.1,803.5 296.5,805.5 295.7,807.5 294.8,809.5 293.9,811.5 292.8,813.5 291.6,815.5 290.3,817.5 289,819.5 287.7,821.5 286.3,823.5 285,825.5 283.7,827.5 282.4,829.5 281.1,831.5 279.7,833.5 278.4,835.5 277.1,837.5 275.7,839.5 274.3,841.5 273,843.5 271.6,845.5 270.1,847.5 268.6,849.5 267,851.5 265.5,853.5 263.9,855.5 262.2,857.5 260.6,859.5 259,861.5 257.3,863.5 255.6,865.5 253.7,867.5 251.7,869.5 249.6,871.5 247.3,873.5 245,875.5 242.7,877.5 240.3,879.5 237.9,881.5 235.5,883.5 233,885.5 230.6,887.5 228.2,889.5 226,891.5 223.9,893.5 221.9,895.5 220,897.5 218.2,899.5 216.4,901.5 214.6,903.5 212.9,905.5 211.1,907.5 209.2,909.5 207.4,911.5 205.5,913.5 203.3,915.5 200.4,917.5 197.5,919.5 194.7,921.5 191.9,923.5 189,925.5 186,927.5 182.8,929.5 179.5,931.5 176.1,933.5 172.9,935.5 169.8,937.5 167,939.5 164.4,941.5 162,943.5 159.8,945.5 157.8,947.5 156.1,949.5 154.7,951.5 153.6,953.5 152.7,955.5 151.9,957.5 151.2,959.5 150.5,961.5 149.8,963.5 149,965.5 148.4,967.5 147.8,969.5 147.2,971.5 146.6,973.5 145.9,975.5 145.3,977.5 144.7,979.5 144.2,981.5 143.6,983.5 143,985.5 142.4,987.5 141.8,989.5 141.2,991.5 140.5,993.5 139.9,995.5 139.2,997.5 138.6,999.5 138,1001.5 137.5,1003.5 137.1,1005.5 138.9,1005.5 139.3,1003.5 139.9,1001.5 140.5,999.5 141.2,997.5 141.9,995.5 142.7,993.5 143.4,991.5 144.1,989.5 144.7,987.5 145.4,985.5 146,983.5 146.6,981.5 147.3,979.5 147.9,977.5 148.5,975.5 149.2,973.5 149.9,971.5 150.5,969.5 151.2,967.5 151.8,965.5 152.6,963.5 153.3,961.5 154,959.5 154.8,957.5 155.6,955.5 156.5,953.5 157.7,951.5 159.2,949.5 161,947.5 163.1,945.5 165.5,943.5 168.1,941.5 170.9,939.5 174,937.5 177.3,935.5 180.8,933.5 184.4,931.5 187.9,929.5 191.3,927.5 194.4,925.5 197.4,923.5 200.2,921.5 203.1,919.5 206,917.5 209,915.5 211.2,913.5 213.2,911.5 215.1,909.5 217,907.5 218.9,905.5 220.8,903.5 222.6,901.5 224.5,899.5 226.4,897.5 228.3,895.5 230.4,893.5 232.6,891.5 234.9,889.5 237.3,887.5 239.8,885.5 242.3,883.5 244.7,881.5 247.1,879.5 249.5,877.5 251.8,875.5 254.1,873.5 256.3,871.5 258.3,869.5 260.3,867.5 262,865.5 263.7,863.5 265.3,861.5 266.8,859.5 268.3,857.5 269.8,855.5 271.3,853.5 272.7,851.5 274.2,849.5 275.6,847.5 276.9,845.5 278.2,843.5 279.4,841.5 280.6,839.5 281.9,837.5 283.1,835.5 284.3,833.5 285.5,831.5 286.6,829.5 287.8,827.5 289,825.5 290.1,823.5 291.3,821.5 292.5,819.5 293.6,817.5 294.7,815.5 295.7,813.5 296.6,811.5 297.3,809.5 298,807.5 298.5,805.5 298.8,803.5 299.1,801.5 299.2,799.5 299.2,797.5" fill="#5b01a5"/>
<polygon points="298.4,797.5 298.4,799.5 298.3,801.5 298,803.5 297.7,805.5 297.2,807.5 296.5,809.5 295.8,811.5 294.9,813.5 293.9,815.5 292.8,817.5 291.7,819.5 290.5,821.5 289.3,823.5 288.2,825.5 287,827.5 285.8,829.5 284.7,831.5 283.5,833.5 282.3,835.5 281.1,837.5 279.8,839.5 278.6,841.5 277.4,843.5 276.1,845.5 274.8,847.5 273.4,849.5 271.9,851.5 270.5,853.5 269,855.5 267.5,857.5 266,859.5 264.5,861.5 262.9,863.5 261.2,865.5 259.5,867.5 257.5,869.5 255.5,871.5 253.3,873.5 251,875.5 248.7,877.5 246.3,879.5 243.9,881.5 241.5,883.5 239,885.5 236.5,887.5 234.1,889.5 231.8,891.5 229.6,893.5 227.5,895.5 225.6,897.5 223.7,899.5 221.8,901.5 220,903.5 218.1,905.5 216.2,907.5 214.3,909.5 212.4,911.5 210.4,913.5 208.2,915.5 205.2,917.5 202.3,919.5 199.4,921.5 196.6,923.5 193.6,925.5 190.5,927.5 187.1,929.5 183.6,931.5 180,933.5 176.5,935.5 173.2,937.5 170.1,939.5 167.3,941.5 164.7,943.5 162.3,945.5 160.2,947.5 158.4,949.5 156.9,951.5 155.7,953.5 154.8,955.5 154,957.5 153.2,959.5 152.5,961.5 151.8,963.5 151,965.5 150.4,967.5 149.7,969.5 149.1,971.5 148.4,973.5 147.7,975.5 147.1,977.5 146.5,979.5 145.8,981.5 145.2,983.5 144.6,985.5 143.9,987.5 143.3,989.5 142.6,991.5 141.9,993.5 141.1,995.5 140.4,997.5 139.7,999.5 139.1,1001.5 138.5,1003.5 138.1,1005.5 139.9,1005.5 140.4,1003.5 141,1001.5 141.7,999.5 142.5,997.5 143.3,995.5 144.1,993.5 144.9,991.5 145.7,989.5 146.4,987.5 147.1,985.5 147.8,983.5 148.5,981.5 149.2,979.5 149.8,977.5 150.5,975.5 151.2,973.5 151.9,971.5 152.6,969.5 153.3,967.5 154,965.5 154.7,963.5 155.5,961.5 156.2,959.5 157,957.5 157.8,955.5 158.8,953.5 160,951.5 161.5,949.5 163.5,947.5 165.8,945.5 168.4,943.5 171.2,941.5 174.2,939.5 177.5,937.5 181,935.5 184.8,933.5 188.6,931.5 192.3,929.5 195.9,927.5 199.1,925.5 202.1,923.5 205,921.5 207.9,919.5 210.8,917.5 213.8,915.5 216.1,913.5 218.2,911.5 220.2,909.5 222.2,907.5 224.2,905.5 226.1,903.5 228,901.5 229.9,899.5 231.9,897.5 234,895.5 236.2,893.5 238.4,891.5 240.8,889.5 243.3,887.5 245.8,885.5 248.3,883.5 250.8,881.5 253.1,879.5 255.5,877.5 257.8,875.5 260,873.5 262.2,871.5 264.2,869.5 266,867.5 267.7,865.5 269.3,863.5 270.7,861.5 272.1,859.5 273.5,857.5 274.9,855.5 276.3,853.5 277.6,851.5 278.9,849.5 280.2,847.5 281.4,845.5 282.6,843.5 283.7,841.5 284.8,839.5 285.9,837.5 286.9,835.5 288,833.5 289.1,831.5 290.1,829.5 291.1,827.5 292.1,825.5 293.1,823.5 294.1,821.5 295.1,819.5 296.1,817.5 297,815.5 297.8,813.5 298.5,811.5 299,809.5 299.4,807.5 299.7,805.5 299.8,803.5 299.8,801.5 299.7,799.5 299.3,797.5" fill="#44039e"/>
<polygon points="298.5,797.5 298.9,799.5 299,801.5 299,803.5 298.9,805.5 298.6,807.5 298.2,809.5 297.7,811.5 297,813.5 296.2,815.5 295.3,817.5 294.3,819.5 293.3,821.5 292.3,823.5 291.3,825.5 290.3,827.5 289.3,829.5 288.3,831.5 287.2,833.5 286.1,835.5 285.1,837.5 284,839.5 282.9,841.5 281.8,843.5 280.6,845.5 279.4,847.5 278.1,849.5 276.8,851.5 275.5,853.5 274.1,855.5 272.7,857.5 271.3,859.5 269.9,861.5 268.5,863.5 266.9,865.5 265.2,867.5 263.4,869.5 261.4,871.5 259.2,873.5 257,875.5 254.7,877.5 252.3,879.5 250,881.5 247.5,883.5 245,885.5 242.5,887.5 240,889.5 237.6,891.5 235.4,893.5 233.2,895.5 231.1,897.5 229.1,899.5 227.2,901.5 225.3,903.5 223.4,905.5 221.4,907.5 219.4,909.5 217.4,911.5 215.3,913.5 213,915.5 210,917.5 207.1,919.5 204.2,921.5 201.3,923.5 198.3,925.5 195.1,927.5 191.5,929.5 187.8,931.5 184,933.5 180.2,935.5 176.7,937.5 173.4,939.5 170.4,941.5 167.6,943.5 165,945.5 162.7,947.5 160.7,949.5 159.2,951.5 158,953.5 157,955.5 156.2,957.5 155.4,959.5 154.7,961.5 153.9,963.5 153.2,965.5 152.5,967.5 151.8,969.5 151.1,971.5 150.4,973.5 149.7,975.5 149,977.5 148.4,979.5 147.7,981.5 147,983.5 146.3,985.5 145.6,987.5 144.9,989.5 144.1,991.5 143.3,993.5 142.5,995.5 141.7,997.5 140.9,999.5 140.2,1001.5 139.6,1003.5 139.1,1005.5 141,1005.5 141.6,1003.5 142.3,1001.5 143.1,999.5 144,997.5 144.9,995.5 145.8,993.5 146.6,991.5 147.5,989.5 148.3,987.5 149,985.5 149.8,983.5 150.5,981.5 151.2,979.5 151.9,977.5 152.7,975.5 153.4,973.5 154.2,971.5 154.9,969.5 155.6,967.5 156.3,965.5 157.1,963.5 157.9,961.5 158.6,959.5 159.4,957.5 160.2,955.5 161.1,953.5 162.4,951.5 164.1,949.5 166.2,947.5 168.6,945.5 171.4,943.5 174.4,941.5 177.7,939.5 181.1,937.5 184.9,935.5 188.9,933.5 192.9,931.5 196.9,929.5 200.5,927.5 203.9,925.5 207,923.5 209.9,921.5 212.8,919.5 215.7,917.5 218.6,915.5 221,913.5 223.2,911.5 225.3,909.5 227.4,907.5 229.4,905.5 231.4,903.5 233.4,901.5 235.4,899.5 237.5,897.5 239.6,895.5 241.9,893.5 244.2,891.5 246.7,889.5 249.2,887.5 251.8,885.5 254.3,883.5 256.8,881.5 259.1,879.5 261.5,877.5 263.7,875.5 265.9,873.5 268.1,871.5 270,869.5 271.8,867.5 273.4,865.5 274.9,863.5 276.2,861.5 277.5,859.5 278.8,857.5 280,855.5 281.3,853.5 282.5,851.5 283.7,849.5 284.8,847.5 285.9,845.5 287,843.5 287.9,841.5 288.9,839.5 289.9,837.5 290.8,835.5 291.7,833.5 292.6,831.5 293.5,829.5 294.4,827.5 295.2,825.5 296.1,823.5 296.9,821.5 297.8,819.5 298.6,817.5 299.3,815.5 299.9,813.5 300.3,811.5 300.7,809.5 300.8,807.5 300.9,805.5 300.8,803.5 300.5,801.5 300.2,799.5 299.5,797.5" fill="#2e0595"/>
<polygon points="298.7,797.5 299.4,799.5 299.7,801.5 300,803.5 300.1,805.5 300,807.5 299.9,809.5 299.5,811.5 299.1,813.5 298.5,815.5 297.8,817.5 297,819.5 296.1,821.5 295.3,823.5 294.4,825.5 293.6,827.5 292.7,829.5 291.8,831.5 290.9,833.5 290,835.5 289.1,837.5 288.1,839.5 287.1,841.5 286.2,843.5 285.1,845.5 284,847.5 282.9,849.5 281.7,851.5 280.5,853.5 279.2,855.5 278,857.5 276.7,859.5 275.4,861.5 274.1,863.5 272.6,865.5 271,867.5 269.2,869.5 267.3,871.5 265.1,873.5 262.9,875.5 260.7,877.5 258.3,879.5 256,881.5 253.5,883.5 251,885.5 248.4,887.5 245.9,889.5 243.4,891.5 241.1,893.5 238.8,895.5 236.7,897.5 234.6,899.5 232.6,901.5 230.6,903.5 228.6,905.5 226.6,907.5 224.5,909.5 222.4,911.5 220.2,913.5 217.8,915.5 214.9,917.5 212,919.5 209.1,921.5 206.2,923.5 203.1,925.5 199.7,927.5 196.1,929.5 192.1,931.5 188.1,933.5 184.1,935.5 180.3,937.5 176.9,939.5 173.6,941.5 170.6,943.5 167.8,945.5 165.4,947.5 163.3,949.5 161.6,951.5 160.3,953.5 159.4,955.5 158.6,957.5 157.8,959.5 157.1,961.5 156.3,963.5 155.5,965.5 154.8,967.5 154.1,969.5 153.4,971.5 152.6,973.5 151.9,975.5 151.1,977.5 150.4,979.5 149.7,981.5 149,983.5 148.2,985.5 147.5,987.5 146.7,989.5 145.8,991.5 145,993.5 144.1,995.5 143.2,997.5 142.3,999.5 141.5,1001.5 140.8,1003.5 140.2,1005.5 142.3,1005.5 142.9,1003.5 143.7,1001.5 144.6,999.5 145.6,997.5 146.5,995.5 147.5,993.5 148.5,991.5 149.4,989.5 150.3,987.5 151.1,985.5 151.9,983.5 152.7,981.5 153.5,979.5 154.3,977.5 155,975.5 155.8,973.5 156.6,971.5 157.4,969.5 158.2,967.5 158.9,965.5 159.7,963.5 160.4,961.5 161.2,959.5 161.9,957.5 162.7,955.5 163.7,953.5 165,951.5 166.7,949.5 169,947.5 171.6,945.5 174.6,943.5 177.8,941.5 181.2,939.5 184.9,937.5 188.9,935.5 193.1,933.5 197.4,931.5 201.5,929.5 205.3,927.5 208.7,925.5 211.8,923.5 214.8,921.5 217.7,919.5 220.5,917.5 223.4,915.5 225.9,913.5 228.2,911.5 230.4,909.5 232.6,907.5 234.7,905.5 236.8,903.5 238.8,901.5 240.9,899.5 243.1,897.5 245.3,895.5 247.6,893.5 250.1,891.5 252.6,889.5 255.2,887.5 257.8,885.5 260.3,883.5 262.8,881.5 265.1,879.5 267.4,877.5 269.7,875.5 271.9,873.5 274,871.5 275.9,869.5 277.6,867.5 279.1,865.5 280.4,863.5 281.7,861.5 282.8,859.5 284,857.5 285.1,855.5 286.3,853.5 287.4,851.5 288.5,849.5 289.5,847.5 290.5,845.5 291.4,843.5 292.2,841.5 293,839.5 293.9,837.5 294.7,835.5 295.5,833.5 296.2,831.5 297,829.5 297.7,827.5 298.4,825.5 299.1,823.5 299.7,821.5 300.4,819.5 301,817.5 301.6,815.5 302,813.5 302.2,811.5 302.3,809.5 302.3,807.5 302.1,805.5 301.7,803.5 301.3,801.5 300.7,799.5 299.6,797.5" fill="#1d068e"/>
<polygon points="298.8,797.5 299.9,799.5 300.5,801.5 300.9,803.5 301.3,805.5 301.5,807.5 301.5,809.5 301.4,811.5 301.2,813.5 300.8,815.5 300.2,817.5 299.6,819.5 298.9,821.5 298.3,823.5 297.6,825.5 296.9,827.5 296.2,829.5 295.4,831.5 294.7,833.5 293.9,835.5 293.1,837.5 292.2,839.5 291.4,841.5 290.6,843.5 289.7,845.5 288.7,847.5 287.7,849.5 286.6,851.5 285.5,853.5 284.3,855.5 283.2,857.5 282,859.5 280.9,861.5 279.6,863.5 278.3,865.5 276.8,867.5 275.1,869.5 273.2,871.5 271.1,873.5 268.9,875.5 266.6,877.5 264.3,879.5 262,881.5 259.5,883.5 257,885.5 254.4,887.5 251.8,889.5 249.3,891.5 246.8,893.5 244.5,895.5 242.3,897.5 240.1,899.5 238,901.5 236,903.5 233.9,905.5 231.8,907.5 229.6,909.5 227.4,911.5 225.1,913.5 222.6,915.5 219.7,917.5 216.9,919.5 214,921.5 211,923.5 207.9,925.5 204.5,927.5 200.7,929.5 196.6,931.5 192.3,933.5 188.1,935.5 184.1,937.5 180.4,939.5 177,941.5 173.8,943.5 170.8,945.5 168.2,947.5 165.9,949.5 164.2,951.5 162.9,953.5 161.9,955.5 161.1,957.5 160.4,959.5 159.6,961.5 158.9,963.5 158.1,965.5 157.4,967.5 156.6,969.5 155.8,971.5 155,973.5 154.2,975.5 153.5,977.5 152.7,979.5 151.9,981.5 151.1,983.5 150.3,985.5 149.5,987.5 148.6,989.5 147.7,991.5 146.7,993.5 145.7,995.5 144.8,997.5 143.8,999.5 142.9,1001.5 142.1,1003.5 141.5,1005.5 143.7,1005.5 144.4,1003.5 145.2,1001.5 146.2,999.5 147.3,997.5 148.4,995.5 149.5,993.5 150.5,991.5 151.5,989.5 152.5,987.5 153.4,985.5 154.2,983.5 155.1,981.5 155.9,979.5 156.7,977.5 157.6,975.5 158.4,973.5 159.2,971.5 160.1,969.5 160.9,967.5 161.6,965.5 162.4,963.5 163.2,961.5 163.9,959.5 164.6,957.5 165.4,955.5 166.4,953.5 167.7,951.5 169.5,949.5 171.9,947.5 174.7,945.5 177.9,943.5 181.3,941.5 184.9,939.5 188.8,937.5 193.1,935.5 197.5,933.5 202,931.5 206.2,929.5 210.1,927.5 213.6,925.5 216.8,923.5 219.7,921.5 222.6,919.5 225.4,917.5 228.3,915.5 230.8,913.5 233.2,911.5 235.5,909.5 237.7,907.5 239.9,905.5 242.1,903.5 244.2,901.5 246.4,899.5 248.6,897.5 250.9,895.5 253.4,893.5 255.9,891.5 258.5,889.5 261.1,887.5 263.8,885.5 266.3,883.5 268.8,881.5 271.1,879.5 273.4,877.5 275.7,875.5 277.8,873.5 279.9,871.5 281.7,869.5 283.4,867.5 284.8,865.5 286,863.5 287.1,861.5 288.2,859.5 289.2,857.5 290.3,855.5 291.3,853.5 292.3,851.5 293.2,849.5 294.1,847.5 295,845.5 295.8,843.5 296.5,841.5 297.2,839.5 297.9,837.5 298.5,835.5 299.2,833.5 299.8,831.5 300.4,829.5 301,827.5 301.5,825.5 302,823.5 302.6,821.5 303.1,819.5 303.5,817.5 303.9,815.5 304.1,813.5 304.1,811.5 304,809.5 303.7,807.5 303.3,805.5 302.7,803.5 302,801.5 301.2,799.5 299.7,797.5" fill="#19068c"/>
<polygon points="298.9,797.5 300.4,799.5 301.2,801.5 301.9,803.5 302.5,805.5 302.9,807.5 303.2,809.5 303.3,811.5 303.3,813.5 303.1,815.5 302.7,817.5 302.3,819.5 301.8,821.5 301.2,823.5 300.7,825.5 300.2,827.5 299.6,829.5 299,831.5 298.4,833.5 297.7,835.5 297.1,837.5 296.4,839.5 295.7,841.5 295,843.5 294.2,845.5 293.3,847.5 292.4,849.5 291.5,851.5 290.5,853.5 289.5,855.5 288.4,857.5 287.4,859.5 286.3,861.5 285.2,863.5 284,865.5 282.6,867.5 280.9,869.5 279.1,871.5 277,873.5 274.9,875.5 272.6,877.5 270.3,879.5 268,881.5 265.5,883.5 263,885.5 260.3,887.5 257.7,889.5 255.1,891.5 252.6,893.5 250.1,895.5 247.8,897.5 245.6,899.5 243.4,901.5 241.3,903.5 239.1,905.5 236.9,907.5 234.7,909.5 232.4,911.5 230,913.5 227.5,915.5 224.6,917.5 221.8,919.5 218.9,921.5 216,923.5 212.8,925.5 209.3,927.5 205.4,929.5 201.2,931.5 196.7,933.5 192.3,935.5 188,937.5 184.1,939.5 180.5,941.5 177.1,943.5 173.9,945.5 171.1,947.5 168.7,949.5 166.9,951.5 165.6,953.5 164.6,955.5 163.8,957.5 163.1,959.5 162.4,961.5 161.6,963.5 160.8,965.5 160.1,967.5 159.3,969.5 158.4,971.5 157.6,973.5 156.8,975.5 155.9,977.5 155.1,979.5 154.3,981.5 153.4,983.5 152.6,985.5 151.7,987.5 150.7,989.5 149.7,991.5 148.7,993.5 147.6,995.5 146.5,997.5 145.4,999.5 144.4,1001.5 143.6,1003.5 142.9,1005.5 145.2,1005.5 145.9,1003.5 146.9,1001.5 148,999.5 149.1,997.5 150.3,995.5 151.5,993.5 152.7,991.5 153.8,989.5 154.8,987.5 155.8,985.5 156.8,983.5 157.6,981.5 158.5,979.5 159.4,977.5 160.3,975.5 161.2,973.5 162.1,971.5 162.9,969.5 163.8,967.5 164.6,965.5 165.4,963.5 166.1,961.5 166.8,959.5 167.4,957.5 168.2,955.5 169.2,953.5 170.6,951.5 172.5,949.5 175,947.5 177.9,945.5 181.3,943.5 184.9,941.5 188.7,939.5 192.9,937.5 197.3,935.5 202,933.5 206.6,931.5 211.1,929.5 215.1,927.5 218.6,925.5 221.8,923.5 224.7,921.5 227.5,919.5 230.3,917.5 233.1,915.5 235.7,913.5 238.2,911.5 240.6,909.5 242.9,907.5 245.2,905.5 247.4,903.5 249.6,901.5 251.9,899.5 254.2,897.5 256.6,895.5 259.1,893.5 261.7,891.5 264.4,889.5 267.1,887.5 269.8,885.5 272.3,883.5 274.8,881.5 277.1,879.5 279.4,877.5 281.6,875.5 283.7,873.5 285.8,871.5 287.6,869.5 289.1,867.5 290.5,865.5 291.6,863.5 292.6,861.5 293.6,859.5 294.5,857.5 295.4,855.5 296.3,853.5 297.2,851.5 298,849.5 298.8,847.5 299.5,845.5 300.2,843.5 300.8,841.5 301.3,839.5 301.9,837.5 302.4,835.5 302.9,833.5 303.4,831.5 303.9,829.5 304.3,827.5 304.7,825.5 305,823.5 305.4,821.5 305.7,819.5 306,817.5 306.2,815.5 306.2,813.5 306,811.5 305.7,809.5 305.2,807.5 304.5,805.5 303.7,803.5 302.7,801.5 301.7,799.5 299.8,797.5" fill="#130789"/>
<polygon points="299,797.5 300.9,799.5 301.9,801.5 302.9,803.5 303.7,805.5 304.4,807.5 304.9,809.5 305.2,811.5 305.4,813.5 305.4,815.5 305.2,817.5 304.9,819.5 304.6,821.5 304.2,823.5 303.9,825.5 303.5,827.5 303.1,829.5 302.6,831.5 302.1,833.5 301.6,835.5 301.1,837.5 300.5,839.5 300,841.5 299.4,843.5 298.7,845.5 298,847.5 297.2,849.5 296.4,851.5 295.5,853.5 294.6,855.5 293.7,857.5 292.8,859.5 291.8,861.5 290.8,863.5 289.7,865.5 288.3,867.5 286.8,869.5 285,871.5 282.9,873.5 280.8,875.5 278.6,877.5 276.3,879.5 274,881.5 271.5,883.5 269,885.5 266.3,887.5 263.6,889.5 260.9,891.5 258.3,893.5 255.8,895.5 253.4,897.5 251.1,899.5 248.8,901.5 246.6,903.5 244.4,905.5 242.1,907.5 239.8,909.5 237.4,911.5 234.9,913.5 232.3,915.5 229.5,917.5 226.7,919.5 223.9,921.5 221,923.5 217.8,925.5 214.3,927.5 210.3,929.5 205.8,931.5 201.2,933.5 196.5,935.5 192.1,937.5 187.9,939.5 184.1,941.5 180.5,943.5 177.1,945.5 174.2,947.5 171.7,949.5 169.8,951.5 168.4,953.5 167.4,955.5 166.6,957.5 166,959.5 165.3,961.5 164.6,963.5 163.8,965.5 163,967.5 162.1,969.5 161.3,971.5 160.4,973.5 159.5,975.5 158.6,977.5 157.7,979.5 156.8,981.5 156,983.5 155,985.5 154,987.5 153,989.5 151.9,991.5 150.7,993.5 149.5,995.5 148.3,997.5 147.2,999.5 146.1,1001.5 145.1,1003.5 144.4,1005.5 146.8,1005.5 147.6,1003.5 148.6,1001.5 149.8,999.5 151.1,997.5 152.4,995.5 153.8,993.5 155,991.5 156.2,989.5 157.4,987.5 158.4,985.5 159.4,983.5 160.4,981.5 161.3,979.5 162.3,977.5 163.2,975.5 164.1,973.5 165.1,971.5 166,969.5 166.9,967.5 167.7,965.5 168.5,963.5 169.2,961.5 169.8,959.5 170.5,957.5 171.2,955.5 172.2,953.5 173.6,951.5 175.5,949.5 178.1,947.5 181.3,945.5 184.8,943.5 188.6,941.5 192.7,939.5 197,937.5 201.7,935.5 206.6,933.5 211.4,931.5 216,929.5 220.1,927.5 223.7,925.5 226.9,923.5 229.8,921.5 232.5,919.5 235.2,917.5 237.9,915.5 240.6,913.5 243.2,911.5 245.7,909.5 248.1,907.5 250.4,905.5 252.8,903.5 255.1,901.5 257.4,899.5 259.8,897.5 262.2,895.5 264.8,893.5 267.5,891.5 270.3,889.5 273,887.5 275.7,885.5 278.3,883.5 280.8,881.5 283.1,879.5 285.4,877.5 287.6,875.5 289.7,873.5 291.7,871.5 293.4,869.5 294.9,867.5 296.2,865.5 297.2,863.5 298.1,861.5 298.9,859.5 299.7,857.5 300.5,855.5 301.3,853.5 302.1,851.5 302.8,849.5 303.4,847.5 304,845.5 304.6,843.5 305,841.5 305.5,839.5 305.9,837.5 306.3,835.5 306.6,833.5 307,831.5 307.3,829.5 307.6,827.5 307.8,825.5 308,823.5 308.2,821.5 308.4,819.5 308.5,817.5 308.5,815.5 308.3,813.5 307.9,811.5 307.4,809.5 306.6,807.5 305.7,805.5 304.6,803.5 303.4,801.5 302.3,799.5 299.9,797.5" fill="#0d0887"/>
<polygon points="298,799.1 301,796.3 304,794.7 307,792.9 310,790.9 313,788.9 316,787 319,785.1 322,783.4 325,781.7 328,780.2 331,778.6 334,777.1 337,775.6 340,774.1 343,772.6 346,771.2 349,769.7 352,768.3 355,767 358,765.7 361,764.4 364,763.2 367,762 370,760.8 373,759.6 376,758.4 379,757.2 382,756.1 385,755 388,754 391,753 394,752.2 397,751.3 400,750.5 403,749.7 406,748.9 409,748.1 412,747.3 415,746.5 418,745.8 421,745.2 424,744.6 427,744.1 430,743.6 433,743.2 436,742.7 439,742.2 442,741.8 445,741.3 448,740.9 451,740.4 454,740 457,739.5 460,739 463,738.5 466,738 469,737.5 469,736.3 466,736.7 463,737.2 460,737.6 457,738.1 454,738.5 451,739 448,739.4 445,739.8 442,740.2 439,740.7 436,741.1 433,741.5 430,741.9 427,742.4 424,742.9 421,743.4 418,744 415,744.7 412,745.4 409,746.2 406,746.9 403,747.7 400,748.5 397,749.3 394,750.1 391,750.9 388,751.9 385,752.8 382,753.9 379,755 376,756.1 373,757.3 370,758.5 367,759.6 364,760.8 361,762 358,763.2 355,764.5 352,765.8 349,767.2 346,768.6 343,770 340,771.5 337,773 334,774.5 331,776 328,777.6 325,779.1 322,780.8 319,782.5 316,784.4 313,786.3 310,788.3 307,790.3 304,792.1 301,793.7 298,796.5" fill="#e16462"/>
<polygon points="298,797.4 301,794.6 304,793 307,791.2 310,789.2 313,787.2 316,785.3 319,783.4 322,781.7 325,780 328,778.5 331,776.9 334,775.4 337,773.9 340,772.4 343,770.9 346,769.5 349,768.1 352,766.7 355,765.4 358,764.1 361,762.9 364,761.7 367,760.5 370,759.4 373,758.2 376,757 379,755.9 382,754.8 385,753.7 388,752.8 391,751.8 394,751 397,750.2 400,749.4 403,748.6 406,747.8 409,747.1 412,746.3 415,745.6 418,744.9 421,744.3 424,743.8 427,743.3 430,742.8 433,742.4 436,742 439,741.6 442,741.1 445,740.7 448,740.3 451,739.9 454,739.4 457,739 460,738.5 463,738.1 466,737.6 469,737.2 469,735.9 466,736.3 463,736.8 460,737.2 457,737.6 454,738 451,738.4 448,738.8 445,739.2 442,739.6 439,740 436,740.4 433,740.8 430,741.2 427,741.6 424,742 421,742.5 418,743.1 415,743.8 412,744.4 409,745.2 406,745.9 403,746.7 400,747.4 397,748.2 394,748.9 391,749.7 388,750.6 385,751.6 382,752.6 379,753.7 376,754.8 373,755.9 370,757 367,758.2 364,759.3 361,760.5 358,761.7 355,762.9 352,764.2 349,765.5 346,766.9 343,768.3 340,769.8 337,771.3 334,772.8 331,774.3 328,775.9 325,777.4 322,779.1 319,780.8 316,782.7 313,784.6 310,786.6 307,788.6 304,790.4 301,792 298,794.8" fill="#ef7e50"/>
<polygon points="298,795.7 301,792.9 304,791.3 307,789.5 310,787.5 313,785.5 316,783.6 319,781.7 322,780 325,778.3 328,776.8 331,775.2 334,773.7 337,772.2 340,770.7 343,769.2 346,767.8 349,766.4 352,765.1 355,763.8 358,762.6 361,761.4 364,760.2 367,759.1 370,757.9 373,756.8 376,755.7 379,754.6 382,753.5 385,752.5 388,751.5 391,750.6 394,749.8 397,749.1 400,748.3 403,747.6 406,746.8 409,746.1 412,745.3 415,744.7 418,744 421,743.4 424,742.9 427,742.5 430,742.1 433,741.7 436,741.3 439,740.9 442,740.5 445,740.1 448,739.7 451,739.3 454,738.9 457,738.5 460,738.1 463,737.7 466,737.2 469,736.8 469,735.6 466,736 463,736.3 460,736.7 457,737.1 454,737.5 451,737.9 448,738.2 445,738.6 442,738.9 439,739.3 436,739.7 433,740 430,740.4 427,740.8 424,741.2 421,741.7 418,742.2 415,742.8 412,743.5 409,744.2 406,744.9 403,745.6 400,746.3 397,747 394,747.8 391,748.5 388,749.4 385,750.3 382,751.3 379,752.3 376,753.4 373,754.5 370,755.6 367,756.7 364,757.8 361,758.9 358,760.1 355,761.3 352,762.5 349,763.8 346,765.2 343,766.6 340,768.1 337,769.6 334,771.1 331,772.6 328,774.2 325,775.7 322,777.4 319,779.1 316,781 313,782.9 310,784.9 307,786.9 304,788.7 301,790.3 298,793.1" fill="#f9983e"/>
<polygon points="298,794 301,791.2 304,789.6 307,787.8 310,785.8 313,783.8 316,781.9 319,780 322,778.3 325,776.6 328,775.1 331,773.5 334,772 337,770.5 340,769 343,767.5 346,766.1 349,764.7 352,763.4 355,762.2 358,761 361,759.8 364,758.7 367,757.6 370,756.5 373,755.4 376,754.3 379,753.2 382,752.2 385,751.2 388,750.3 391,749.4 394,748.7 397,747.9 400,747.2 403,746.5 406,745.8 409,745.1 412,744.4 415,743.7 418,743.1 421,742.6 424,742.1 427,741.7 430,741.3 433,740.9 436,740.6 439,740.2 442,739.8 445,739.5 448,739.1 451,738.8 454,738.4 457,738 460,737.6 463,737.2 466,736.9 469,736.5 469,735.2 466,735.6 463,735.9 460,736.3 457,736.6 454,737 451,737.3 448,737.6 445,738 442,738.3 439,738.6 436,738.9 433,739.3 430,739.6 427,740 424,740.3 421,740.8 418,741.3 415,741.9 412,742.5 409,743.2 406,743.8 403,744.5 400,745.2 397,745.9 394,746.6 391,747.3 388,748.2 385,749 382,750 379,751 376,752.1 373,753.1 370,754.2 367,755.3 364,756.3 361,757.4 358,758.5 355,759.7 352,760.9 349,762.2 346,763.5 343,764.9 340,766.4 337,767.9 334,769.4 331,770.9 328,772.5 325,774 322,775.7 319,777.4 316,779.3 313,781.2 310,783.2 307,785.2 304,787 301,788.6 298,791.4" fill="#feb72d"/>
<polygon points="298,792.3 301,789.5 304,787.9 307,786.1 310,784.1 313,782.1 316,780.2 319,778.3 322,776.6 325,774.9 328,773.4 331,771.8 334,770.3 337,768.8 340,767.3 343,765.8 346,764.4 349,763.1 352,761.8 355,760.6 358,759.4 361,758.3 364,757.2 367,756.2 370,755.1 373,754 376,753 379,751.9 382,750.9 385,749.9 388,749.1 391,748.2 394,747.5 397,746.8 400,746.1 403,745.4 406,744.7 409,744.1 412,743.4 415,742.8 418,742.2 421,741.7 424,741.2 427,740.9 430,740.5 433,740.2 436,739.8 439,739.5 442,739.2 445,738.9 448,738.5 451,738.2 454,737.9 457,737.5 460,737.2 463,736.8 466,736.5 469,736.1 469,734.8 466,735.2 463,735.5 460,735.8 457,736.1 454,736.4 451,736.8 448,737.1 445,737.4 442,737.6 439,737.9 436,738.2 433,738.5 430,738.8 427,739.1 424,739.5 421,739.9 418,740.4 415,740.9 412,741.5 409,742.2 406,742.8 403,743.4 400,744.1 397,744.8 394,745.4 391,746.1 388,746.9 385,747.8 382,748.7 379,749.7 376,750.7 373,751.7 370,752.8 367,753.8 364,754.8 361,755.9 358,757 355,758.1 352,759.3 349,760.5 346,761.8 343,763.2 340,764.7 337,766.2 334,767.7 331,769.2 328,770.8 325,772.3 322,774 319,775.7 316,777.6 313,779.5 310,781.5 307,783.5 304,785.3 301,786.9 298,789.7" fill="#fcce25"/>
<polygon points="298,790.6 301,787.8 304,786.2 307,784.4 310,782.4 313,780.4 316,778.5 319,776.6 322,774.9 325,773.2 328,771.7 331,770.1 334,768.6 337,767.1 340,765.6 343,764.1 346,762.7 349,761.4 352,760.2 355,759 358,757.9 361,756.8 364,755.7 367,754.7 370,753.7 373,752.6 376,751.6 379,750.6 382,749.6 385,748.7 388,747.8 391,747 394,746.3 397,745.7 400,745 403,744.3 406,743.7 409,743.1 412,742.4 415,741.8 418,741.3 421,740.8 424,740.4 427,740 430,739.7 433,739.4 436,739.1 439,738.8 442,738.5 445,738.3 448,738 451,737.7 454,737.3 457,737 460,736.7 463,736.4 466,736.1 469,735.7 469,734.5 466,734.8 463,735.1 460,735.4 457,735.6 454,735.9 451,736.2 448,736.5 445,736.7 442,737 439,737.3 436,737.5 433,737.8 430,738 427,738.3 424,738.7 421,739 418,739.5 415,740 412,740.6 409,741.2 406,741.8 403,742.4 400,743 397,743.6 394,744.3 391,745 388,745.7 385,746.5 382,747.4 379,748.4 376,749.3 373,750.3 370,751.3 367,752.3 364,753.3 361,754.4 358,755.4 355,756.5 352,757.7 349,758.9 346,760.1 343,761.5 340,763 337,764.5 334,766 331,767.5 328,769.1 325,770.6 322,772.3 319,774 316,775.9 313,777.8 310,779.8 307,781.8 304,783.6 301,785.2 298,788" fill="#f7e425"/>
<polyline points="402,738.6 405,737.9 408,737.2 411,736.6 414,735.9 417,735.3 420,734.7 423,734.1 426,733.5 429,733 432,732.4 435,731.8 438,731.3 441,730.7 444,730.2 447,729.6 450,729 453,728.3 456,727.6 459,726.9 462,726.2 465,725.5 468,724.8 471,724.1 474,723.5 477,722.8 480,722.2 483,721.7 486,721.1 489,720.6 492,720 495,719.5 498,718.9 501,718.4 504,717.8 507,717.3 510,716.7 513,716.1 516,715.6 519,715 522,714.4 525,713.9 528,713.3 531,712.8 534,712.2 537,711.6 540,711.1 543,710.5 546,709.9 549,709.4 552,708.9 555,708.4 558,708 561,707.5 564,707.1 567,706.7 570,706.3 573,705.9 576,705.5 579,705.1 582,704.7 585,704.3 588,703.9 591,703.5 594,703.1 597,702.7 600,702.3 603,701.9 606,701.5 609,701.2 612,700.8 615,700.5 618,700.2 621,699.9 624,699.6 627,699.3 630,699.1 633,698.8 636,698.5 639,698.2 642,697.9 645,697.6 648,697.4 651,697.2 654,697 657,696.9 660,696.8 663,696.7 666,696.6" fill="none" stroke="#f58b47" stroke-width="2" stroke-dasharray="7 3 3 4 11 5" opacity="0.8"/>
<path d="M275.4,864.8h1.7v1.3h-1.8zM232.5,901.5h1.3v1.3h-1.8zM258.4,884.9h2.5v2h-1.8zM280.6,879.3h1.3v2.4h-1.8zM296.7,857.9h2.3v1.5h-1.8zM234.5,916.3h1.7v2h-1.8zM305.6,812.6h1.8v1.6h-1.8zM235.6,917.1h1.6v2.3h-1.8zM192.1,939.8h2.4v2.2h-1.8zM288.2,857.6h1.4v1.8h-1.8zM169.8,951.4h2.3v2h-1.8zM161.5,975.1h2.2v2h-1.8zM223.2,916h1.9v2.1h-1.8zM305.9,812.1h2.1v2.6h-1.8zM167.6,964.4h1.2v1.8h-1.8zM280.8,833.6h2.3v1.4h-1.8zM281.5,849.5h2v2.4h-1.8zM164.8,963.9h1.6v1.8h-1.8zM255.3,871.8h1.5v1.5h-1.8zM246.5,897h1.6v1.2h-1.8zM269.4,883.8h2.2v1.9h-1.8zM219.9,923.5h1.3v2.5h-1.8zM167.5,956h1.8v1.3h-1.8zM195.2,926.9h1.5v1.4h-1.8zM256.6,868h1.7v1.2h-1.8zM163.7,974.9h1.4v1.6h-1.8zM291.4,869.5h2.6v1.9h-1.8zM224.8,896.8h1.7v1.6h-1.8zM167,965.8h1.9v1.4h-1.8zM227.6,908.6h2.6v2.4h-1.8zM190.1,939.2h1.9v2.3h-1.8zM283.9,865.9h2.6v2.4h-1.8zM163.2,961.2h1.7v1.2h-1.8zM302.4,805.6h1.6v2.2h-1.8zM151.7,991.3h2.5v1.7h-1.8zM277.9,844.1h1.5v2.1h-1.8zM159.6,980.1h2.3v1.3h-1.8zM205.5,932.1h2.3v2.3h-1.8zM254.8,895.6h2.3v2.6h-1.8zM269.6,879.2h2.5v2.2h-1.8zM303.8,834h2.3v1.4h-1.8zM167.1,965.3h2.1v1.7h-1.8zM244.3,909.7h2.1v1.9h-1.8zM157.8,986.7h2.4v2.4h-1.8zM289.7,842.2h1.6v1.8h-1.8zM303.2,826.2h1.7v1.8h-1.8zM230.9,916.7h1.9v1.9h-1.8zM228.7,904.7h1.5v1.2h-1.8zM168.1,959.8h2v1.7h-1.8zM243.7,903.7h2.3v1.3h-1.8zM242.7,912.1h1.9v2h-1.8zM170.9,952h1.8v2.1h-1.8zM243.4,901.1h1.9v1.9h-1.8zM156.8,988.3h2.4v2.5h-1.8zM284,851.9h1.4v1.4h-1.8zM238.8,888.4h1.3v2.1h-1.8zM169.6,956.8h2.1v1.4h-1.8zM162,976.6h1.5v2.5h-1.8zM253.4,879.7h1.4v1.8h-1.8zM252.5,903.1h1.5v1.6h-1.8zM179.9,944.4h1.2v1.7h-1.8zM225.4,924.8h1.3v2.6h-1.8zM168.9,957.7h1.3v2.3h-1.8zM278.2,854.1h2.5v2.3h-1.8zM291.2,851.7h2.2v1.3h-1.8zM302,811.5h1.8v1.3h-1.8zM154.8,987.7h1.3v2.4h-1.8zM257,890.8h2v2.5h-1.8zM268.3,853.6h1.4v1.3h-1.8zM299.1,840.4h1.6v2.3h-1.8zM294,858h1.2v1.6h-1.8zM303,803.1h2v1.5h-1.8zM260.4,895h1.8v1.9h-1.8zM166.8,966.9h1.9v2.2h-1.8zM150.4,996.5h2.1v1.8h-1.8zM255.7,869.5h1.3v2.2h-1.8zM300.7,851.1h2.4v2.1h-1.8zM272.7,856.4h1.8v1.4h-1.8zM270.6,889.2h2v1.5h-1.8zM150.1,993.1h1.7v1.2h-1.8zM263.2,876.3h1.2v1.6h-1.8zM307.3,818h1.3v1.2h-1.8zM297.3,860.8h2.3v2.1h-1.8zM183.1,943.2h1.7v1.7h-1.8zM150.6,996.9h1.3v2.4h-1.8zM159,978.4h2.2v2.3h-1.8zM300.9,827.9h2.3v2.4h-1.8zM236.2,916.8h2.2v2.2h-1.8zM299.8,846h1.3v2.4h-1.8zM241.9,911.7h2.1v2.2h-1.8zM243.2,897.9h1.9v1.9h-1.8zM202,931.9h1.6v1.3h-1.8zM301,853.1h2.6v1.9h-1.8zM280.7,876.5h2.2v2.3h-1.8zM204.6,923.4h2.2v1.6h-1.8zM206.8,913.6h1.6v2.1h-1.8zM194.9,938.4h1.9v1.9h-1.8zM304,823.7h1.5v2.6h-1.8zM155.8,987.3h2.6v1.8h-1.8zM294.7,853.7h1.5v2h-1.8zM300.5,828.3h1.9v2.4h-1.8zM188.3,940.7h1.9v1.2h-1.8zM301,800.7h1.4v1.7h-1.8zM297.2,863.2h1.2v2.3h-1.8zM162.4,967.8h2.5v1.6h-1.8zM274.2,874.4h2.6v2h-1.8zM252.6,872.1h2.4v1.6h-1.8zM151.3,987.1h1.9v1.5h-1.8zM270.1,874.7h2.1v2.5h-1.8zM155.9,988.1h2.2v1.3h-1.8zM175.6,946.5h1.6v1.3h-1.8zM153.7,985.4h1.7v1.6h-1.8zM175.4,947.8h1.6v2h-1.8zM248,878.9h1.5v2.5h-1.8zM255.7,899.4h1.8v1.4h-1.8zM285.3,838.5h1.3v1.5h-1.8zM286.7,851.7h1.8v1.8h-1.8zM244.7,904.8h1.7v1.3h-1.8zM295.9,855.5h2.1v2.4h-1.8zM303.9,843.2h1.5v1.8h-1.8zM254.7,889.2h1.2v1.2h-1.8zM186.1,941.9h1.9v2h-1.8zM300.4,800h2.4v2.6h-1.8zM272.7,849.7h1.9v2.2h-1.8zM156.5,988.3h1.8v2h-1.8zM302.9,807.9h1.5v2.5h-1.8zM218.6,929.1h2.1v2.2h-1.8zM296.8,822.4h2v1.7h-1.8zM303.3,844.7h1.8v2.5h-1.8zM219.1,928.9h1.9v1.5h-1.8zM291.6,849.4h1.2v1.9h-1.8zM204.1,934.9h1.6v2.1h-1.8zM159,985h1.8v2.2h-1.8zM303.3,839.6h2.2v1.9h-1.8zM299.4,841h1.5v1.5h-1.8zM172.7,952.1h2.5v1.9h-1.8zM304.8,837.5h2.5v1.4h-1.8zM278.6,878.7h1.4v1.3h-1.8zM302.4,812h2.2v2.6h-1.8zM155.4,986.3h1.5v2.5h-1.8zM173.3,949.3h1.7v1.7h-1.8zM286,833.9h1.7v2.5h-1.8zM304.4,824.7h2.4v2.4h-1.8zM250.1,886.5h1.7v2.5h-1.8zM287,838.6h2.3v2.3h-1.8zM296.4,808.1h2.5v1.6h-1.8zM175.5,949.5h2.5v2.1h-1.8zM297.4,852.4h1.6v1.6h-1.8zM301.8,800.8h2.5v1.2h-1.8zM287.3,846.8h2.5v2.5h-1.8zM287.1,877.3h2.5v1.5h-1.8zM166.7,960.5h2.4v2.3h-1.8zM229.1,921.5h2.3v1.3h-1.8zM300.4,839.5h1.5v1.3h-1.8zM303.7,806.8h2.4v2.6h-1.8zM269.4,853h1.9v2.2h-1.8zM271.7,889.4h2.1v2.2h-1.8zM163.9,969.4h1.4v2.4h-1.8zM291.8,858.8h1.5v1.5h-1.8zM295.5,849.1h2v1.7h-1.8zM272.4,879.2h2.1v2.6h-1.8zM307.7,820.5h2.3v2.4h-1.8zM152.2,982.9h2.6v2h-1.8zM157.6,986h2.4v1.8h-1.8zM284.8,852h2.1v1.5h-1.8zM254.2,873.7h1.6v2h-1.8zM215.3,930.3h2.1v1.5h-1.8zM285.7,862.4h2v1.3h-1.8zM303.7,820.3h1.3v1.4h-1.8zM193.1,939.1h1.6v1.6h-1.8zM154.9,990.6h1.8v2.4h-1.8zM149,999.3h1.5v2.2h-1.8zM290.6,840.7h2.3v1.8h-1.8zM162.6,976.6h1.4v1.2h-1.8zM228.6,910.3h1.7v1.9h-1.8zM298.1,829.2h1.9v2.5h-1.8zM299.6,821.8h1.5v1.4h-1.8zM156.8,988.6h1.9v1.3h-1.8zM155.6,985.2h2.4v1.4h-1.8zM163.3,957.2h2.4v2.4h-1.8zM304.6,836.6h1.7v1.4h-1.8zM295.6,849.4h2.5v1.3h-1.8zM242.7,912.5h1.4v2h-1.8zM243,910h1.6v1.8h-1.8zM227.4,916.5h1.8v1.2h-1.8zM221.9,923.8h1.5v2.3h-1.8zM169.2,956h1.3v1.4h-1.8zM248.9,886.1h1.9v1.3h-1.8zM213.8,927.3h1.9v1.3h-1.8zM249.8,900.8h2.5v1.4h-1.8zM161.7,971.4h1.5v2.6h-1.8zM259,898.4h2.5v1.4h-1.8zM169.2,957.7h2.3v1.4h-1.8zM161.5,979.3h2.3v1.4h-1.8zM251.7,900.4h1.9v1.6h-1.8zM297.8,807.4h2.5v2.2h-1.8zM156.6,979.1h2.1v1.7h-1.8zM160.2,974.6h2v2.4h-1.8zM301.9,820.9h2.3v1.6h-1.8zM150.6,998.1h1.7v2.3h-1.8zM260.5,888.5h1.6v2.1h-1.8zM149.7,996.8h2.1v1.6h-1.8zM301.4,800.4h1.8v1.9h-1.8zM154,979.1h2.1v1.2h-1.8zM301.6,800.5h1.5v2h-1.8zM219.6,917.8h1.9v1.4h-1.8zM154.1,987.3h2.4v2.3h-1.8zM277.2,880.4h1.2v2.1h-1.8zM235.9,912.5h2.5v2.2h-1.8zM293.4,849.7h1.3v1.9h-1.8zM282.5,881.2h1.2v2h-1.8zM149.9,988.2h2.1v1.9h-1.8zM218.1,928.3h1.6v1.3h-1.8zM160.6,977.9h2.2v1.2h-1.8zM166.4,968.9h1.8v1.5h-1.8zM289.5,821.1h1.7v2.2h-1.8zM192.6,939h2v1.8h-1.8zM166.7,957.7h1.6v2.1h-1.8zM148.6,993h1.5v2.2h-1.8zM153.1,988.9h1.7v2.4h-1.8zM294.4,865.7h2.2v2.1h-1.8zM148.6,995.8h2.4v2.2h-1.8zM161.2,971.5h1.6v1.5h-1.8zM220.2,924.5h1.4v1.2h-1.8zM289.4,821.3h1.3v2.2h-1.8zM220.6,926.8h2.2v1.3h-1.8zM225.7,918.1h2.4v1.3h-1.8zM160.5,973.6h2.5v1.3h-1.8zM303.7,841.1h2.3v2.1h-1.8zM167.7,965h1.6v1.3h-1.8z" fill="#fff" opacity="0.7"/>
<path d="M522.5,735.9h0M720.3,711h0M654.6,721.1h0M536,737.6h0M629.9,734.8h0M430.9,777.8h0M677.9,759.9h0M702,715.2h0M771.3,714.6h0M395.2,768.3h0M326.3,789.5h0M747.1,731.7h0M641.5,772h0M664.2,763.5h0M581.7,739.1h0M439.4,774.2h0M392,792.1h0M684.8,735.3h0M640.6,740.2h0" fill="none" stroke="#5102a3" stroke-width="4.0" stroke-linecap="round" opacity="0.85"/>
<path d="M796.3,703.9h0M722.5,704.5h0M489.3,738.6h0M690.6,707h0M336.4,783.9h0M608.6,717.5h0M772.8,705.3h0M469.3,739.4h0M549.4,730.1h0M569.4,722h0" fill="none" stroke="#b6308b" stroke-width="4.5" stroke-linecap="round" opacity="0.85"/>
<path d="M730.4,715.7h0M631.6,711h0M697.9,714h0M523.3,744.1h0M512.6,730.7h0M744,712.1h0M712,704.1h0M382.5,762.8h0M820.2,729.2h0M521.7,729h0M579.2,721.8h0M419.5,773.4h0M457.4,756.9h0" fill="none" stroke="#a51f99" stroke-width="4.5" stroke-linecap="round" opacity="0.85"/>
<path d="M665.4,705.8h0M777.7,706.8h0M681.3,709.8h0M489.7,739.7h0M382.1,763.6h0" fill="none" stroke="#c6417d" stroke-width="4.0" stroke-linecap="round" opacity="0.85"/>
<path d="M620.2,711.7h0M541.3,731.9h0M526.4,730.2h0M718.9,706.3h0M603.5,713.4h0M563.4,721.1h0M551.7,727h0M535.8,729.2h0M382,764.4h0M651.1,706.3h0M586.6,717.7h0M692.5,710h0" fill="none" stroke="#c6417d" stroke-width="4.5" stroke-linecap="round" opacity="0.85"/>
<path d="M629.1,712.2h0M511,735.1h0M765.1,719.2h0M694.3,710.7h0M674.4,727.2h0M514.1,736.7h0M328.3,787.1h0M621.9,732.8h0M391.5,756.2h0M454.8,742.3h0M506.2,735.5h0" fill="none" stroke="#8f0da4" stroke-width="4.5" stroke-linecap="round" opacity="0.85"/>
<path d="M505.5,739.4h0M597.2,734.2h0M517,737.1h0M384.4,768.6h0M712.1,763.8h0M509.3,766.9h0M511.8,761h0M803.5,738.7h0M598,751.4h0M677.7,758.7h0" fill="none" stroke="#8808a6" stroke-width="4.0" stroke-linecap="round" opacity="0.85"/>
<path d="M607.6,733.1h0M518.3,746.5h0" fill="none" stroke="#7a02a8" stroke-width="5.0" stroke-linecap="round" opacity="0.85"/>
<path d="M653.9,746.9h0M710.5,756.3h0M519.9,764.9h0M442.3,778.9h0M349.8,791.9h0M619.1,777.5h0M700.3,730.4h0M540.1,826h0" fill="none" stroke="#4a3ab8" stroke-width="4.5" stroke-linecap="round" opacity="0.85"/>
<path d="M431.9,766.7h0M687.1,718.3h0M413,759.3h0M786.4,719h0M694.5,716.2h0M691.4,712.5h0M617.8,723.7h0M445.2,766.8h0M662.8,721.5h0M657,716.9h0M407.9,765.8h0M505.6,739.8h0M547.4,747.4h0M726.7,756.1h0M617.6,754.2h0M536.7,759.2h0M823,767.7h0M684,745.4h0M684,743.3h0" fill="none" stroke="#8808a6" stroke-width="4.5" stroke-linecap="round" opacity="0.85"/>
<path d="M738.2,719.2h0M780.6,715.5h0M803.1,734.5h0M511.8,742.4h0M660.1,735.8h0M772.4,761.8h0M346.2,795.9h0M645.3,739.6h0M348.3,793.5h0M431.7,787.1h0" fill="none" stroke="#6a00a8" stroke-width="4.5" stroke-linecap="round" opacity="0.85"/>
<path d="M514.1,737.6h0M686.7,712.5h0M646,714.2h0M420.4,775.5h0M397.4,759.6h0M802.8,722.1h0M779.9,710.9h0M714.2,722.5h0M800.3,747.4h0M630.4,745.6h0M698.8,730.9h0M681.1,765.3h0M517.2,750.1h0M685,731.1h0" fill="none" stroke="#7a02a8" stroke-width="4.0" stroke-linecap="round" opacity="0.85"/>
<path d="M778.2,706.9h0M534.8,744.1h0M640.1,710.8h0M388.9,759.5h0M764.4,724.9h0M614.5,714.2h0M742.8,705.9h0M746.2,709h0M760.6,729.5h0" fill="none" stroke="#a51f99" stroke-width="4.0" stroke-linecap="round" opacity="0.85"/>
<path d="M724.3,726.6h0M509.4,741.6h0M786.5,723.2h0M788.1,715.6h0M654.5,770.7h0M643.3,714.8h0M546.5,742.1h0M568.2,738.7h0M424.5,757h0M654,747.2h0" fill="none" stroke="#7a02a8" stroke-width="4.5" stroke-linecap="round" opacity="0.85"/>
<path d="M814.1,719.8h0M675.6,712.8h0M673.8,719h0M708.8,716.7h0M757.7,715.7h0M669.8,713h0M800.8,722.7h0" fill="none" stroke="#b12a90" stroke-width="4.0" stroke-linecap="round" opacity="0.85"/>
<path d="M527.1,730.6h0" fill="none" stroke="#e56a5d" stroke-width="5.0" stroke-linecap="round" opacity="0.85"/>
<path d="M341.4,778h0M658.9,712.4h0M445.6,743.1h0M742.2,709.5h0M665.5,711.5h0M815.5,705.1h0M525.2,731.2h0" fill="none" stroke="#e56a5d" stroke-width="4.0" stroke-linecap="round" opacity="0.85"/>
<path d="M816.5,707.6h0M813.3,704.3h0M782.5,716.1h0M694,705.9h0M338.1,778.2h0M641.2,720.6h0M395,754.7h0M485.6,745.4h0" fill="none" stroke="#8f0da4" stroke-width="4.0" stroke-linecap="round" opacity="0.85"/>
<path d="M701.3,733.3h0M760.2,723.8h0M749.9,744.4h0M440.1,769h0M614.2,793.7h0M393.1,792.2h0M357.1,804.5h0M523.7,807.6h0M644.2,819.7h0" fill="none" stroke="#3b2bb0" stroke-width="4.5" stroke-linecap="round" opacity="0.85"/>
<path d="M706.6,716.9h0M510.6,752.2h0" fill="none" stroke="#9e199d" stroke-width="4.5" stroke-linecap="round" opacity="0.85"/>
<path d="M684.2,731.5h0M476.1,757.2h0M666.9,719h0M707.3,726h0M759.2,719.9h0" fill="none" stroke="#b12a90" stroke-width="4.5" stroke-linecap="round" opacity="0.85"/>
<path d="M558,730.8h0M699.5,715.9h0M674.9,738.2h0M521.9,759.2h0M797.1,748.3h0M576.8,764.8h0M350.9,793.4h0M533.1,753h0M485.5,793.7h0M721.6,741.9h0M503.5,763.5h0M427,783.2h0M549,789.1h0M372.5,784.2h0M823.1,769.2h0M737.6,765.2h0" fill="none" stroke="#6a00a8" stroke-width="4.0" stroke-linecap="round" opacity="0.85"/>
<path d="M393.9,759.4h0M569.7,721.1h0M381.5,757.3h0M691.4,704.5h0M469.3,739.7h0M458.1,741.6h0M675.6,709h0" fill="none" stroke="#e56a5d" stroke-width="4.5" stroke-linecap="round" opacity="0.85"/>
<path d="M663.5,718.7h0M669.9,719.8h0M602.9,734.5h0M781.7,723.5h0M636.5,730.8h0M736.8,714.6h0M794.8,720.7h0M595,726.2h0M514.4,738.7h0" fill="none" stroke="#9e199d" stroke-width="4.0" stroke-linecap="round" opacity="0.85"/>
<path d="M514.3,737h0" fill="none" stroke="#d6556d" stroke-width="5.0" stroke-linecap="round" opacity="0.85"/>
<path d="M821.7,745.2h0M483.2,769.6h0M504.9,787.1h0M749.9,784.7h0M576,795.8h0M577.4,777h0M813.3,785h0M588.1,787.1h0M407.2,790.7h0M808.9,770.9h0M474.3,811.7h0M356.1,802.1h0M314.6,817h0M303.3,857.4h0M290.6,877.4h0M308.2,850.9h0M310.4,814.4h0" fill="none" stroke="#6a4cc8" stroke-width="4.0" stroke-linecap="round" opacity="0.85"/>
<path d="M372.8,763h0M461.7,746.8h0M636.6,714.7h0M318.3,786.3h0M621.4,714.1h0M481.7,737.9h0M762.9,704.2h0M530,730.1h0" fill="none" stroke="#d6556d" stroke-width="4.0" stroke-linecap="round" opacity="0.85"/>
<path d="M754.4,711.9h0M599.8,732.7h0M791.7,710.9h0M780.1,735.2h0M669.8,726.6h0M422.9,772h0M382.7,789.1h0M725.3,772h0M363.4,793.8h0M559.4,777.1h0M713.6,745.1h0M498.1,775.8h0M640.3,759.4h0" fill="none" stroke="#5102a3" stroke-width="4.5" stroke-linecap="round" opacity="0.85"/>
<path d="M760,709.6h0" fill="none" stroke="#c6417d" stroke-width="5.0" stroke-linecap="round" opacity="0.85"/>
<path d="M683.3,710.1h0M641.2,714h0M791.9,707.1h0M436.9,744.8h0" fill="none" stroke="#d6556d" stroke-width="4.5" stroke-linecap="round" opacity="0.85"/>
<path d="M789.2,707.6h0M528.6,732.6h0M503.5,732.4h0M476.2,739.3h0M494.2,736.8h0M650.8,706.3h0" fill="none" stroke="#b6308b" stroke-width="4.0" stroke-linecap="round" opacity="0.85"/>
<path d="M464.6,773.4h0M738.9,741.1h0M803.9,778.4h0M588.9,786.6h0M498.7,760.3h0M630.8,744h0M507.5,806.6h0M414.6,809.3h0M443.3,821.2h0M561.5,809.6h0M582.9,849.6h0M406.2,847.9h0M423.8,814.6h0M741.8,830.8h0M306.4,803.5h0M309.2,864.5h0M313.6,844.9h0M301.2,860.9h0M309.8,836.3h0M275.8,888.4h0M294.3,877.2h0M310.2,840h0M311.9,828.3h0" fill="none" stroke="#4a3ab8" stroke-width="4.0" stroke-linecap="round" opacity="0.85"/>
<path d="M763.7,709.5h0M757.8,705.2h0" fill="none" stroke="#a51f99" stroke-width="5.0" stroke-linecap="round" opacity="0.85"/>
<path d="M580.8,749.1h0M504.2,768.4h0M540.7,793.3h0M378.7,779.1h0M804,756.1h0M511.8,762.4h0M423,794.5h0M395.3,780.1h0M617.2,815.5h0M518.2,801.6h0M506.6,804.3h0M742.6,833.9h0M627.6,811.9h0M718.7,831.4h0M366.1,833.2h0M514.2,820h0M268.9,899.4h0M269.6,899.2h0M317.3,827.1h0M270.1,892.3h0" fill="none" stroke="#3b2bb0" stroke-width="4.0" stroke-linecap="round" opacity="0.85"/>
<path d="M760.2,735.7h0M470.7,797.5h0M489.5,785.8h0M508.6,774.7h0M726.7,809.3h0M453.6,811.7h0M367,860.7h0M734.9,803.5h0M360.8,824.7h0M609.7,849.1h0M320.6,830.4h0M313,833.4h0M317.8,819h0M265.1,898.7h0M325.1,817.5h0M267,894h0" fill="none" stroke="#3a20a8" stroke-width="4.0" stroke-linecap="round" opacity="0.85"/>
<path d="M340.8,796.7h0M451.4,806.3h0M484.8,821.2h0M586.5,800.9h0" fill="none" stroke="#6a4cc8" stroke-width="4.5" stroke-linecap="round" opacity="0.85"/>
<path d="M753,792.2h0M517.5,771.5h0M585.5,778.7h0M423,779.6h0M724.9,775.1h0M374.4,797.1h0M740,809.7h0M301.5,857.9h0" fill="none" stroke="#5a3fc0" stroke-width="4.0" stroke-linecap="round" opacity="0.85"/>
<path d="M373.4,796.6h0M456.7,794.1h0M638.6,797.7h0M575.9,771.4h0M500.2,772.6h0M750.8,826.4h0M669.3,810.5h0" fill="none" stroke="#3a20a8" stroke-width="4.5" stroke-linecap="round" opacity="0.85"/>
<path d="M350.1,795.6h0M819.2,789.6h0M339.7,796.2h0M651.7,795.2h0M375.4,864.4h0M323.8,838.1h0M455.9,841.7h0" fill="none" stroke="#5a3fc0" stroke-width="4.5" stroke-linecap="round" opacity="0.85"/>
<path d="M743.4,802h0M701.8,831.5h0M272,893.7h0M311.3,814.4h0M271.2,893.7h0M312.6,840.5h0" fill="none" stroke="#3a20a8" stroke-width="3.5" stroke-linecap="round" opacity="0.85"/>
<path d="M601.9,803.1h0M323.2,815.9h0M618.7,847.2h0M292.3,875.8h0M262,898.8h0" fill="none" stroke="#3b2bb0" stroke-width="3.5" stroke-linecap="round" opacity="0.85"/>
<path d="M590.1,803h0M606,807.5h0M726,804.2h0M754.9,823.9h0M308.7,800.7h0M298.9,869h0" fill="none" stroke="#5a3fc0" stroke-width="3.5" stroke-linecap="round" opacity="0.85"/>
<path d="M742,815.1h0M324.8,812.1h0M311.9,813.1h0M263.4,896.3h0M277.7,886.3h0M307.4,849.4h0" fill="none" stroke="#6a4cc8" stroke-width="3.5" stroke-linecap="round" opacity="0.85"/>
<path d="M305.6,861.1h0M266.6,899.7h0M310.5,807.3h0" fill="none" stroke="#4a3ab8" stroke-width="3.5" stroke-linecap="round" opacity="0.85"/>
<path d="M772.1,701.8h0M712.4,697.2h0M811,702.2h0M646.1,699.4h0M728.7,697h0M791.3,696.4h0M758.3,702.1h0M737.8,699.3h0M667.1,699.3h0M775.4,696.3h0M720.7,700.7h0M643.3,704.3h0M692.1,698.3h0M750.8,698.8h0M770.5,696.5h0M756.1,695.8h0M653.6,699.8h0M790.8,698.4h0M786.7,695.7h0M701.4,696.1h0M750.4,700.5h0M820.1,697.4h0M704.6,696.7h0" fill="none" stroke="#f0f921" stroke-width="4.0" stroke-linecap="round" opacity="0.85"/>
<path d="M669.1,697.6h0M756.2,695.9h0M807.9,701.6h0M643.9,703.7h0M824.9,695.9h0M660.5,704.8h0M820.8,696h0M699.2,699.1h0M780.8,697.6h0M763.1,696.3h0M668.6,698.6h0M687,700.6h0M662,698.5h0M642.9,701.9h0M740.2,699.5h0M762.1,700.8h0M811.6,698.9h0M739.4,696.4h0M796.5,695.6h0M727.5,701.7h0M702,699.3h0M747.7,698.5h0M795.7,695h0M802.5,698.4h0M659.8,698.7h0M671.9,703.5h0M794.8,701.2h0M785.7,701.3h0M813.6,701.7h0M647.7,704.3h0M701.9,696.8h0M768.6,694.8h0M685,702.5h0" fill="none" stroke="#f0f921" stroke-width="4.5" stroke-linecap="round" opacity="0.85"/>
<path d="M707.3,698.3h0M757,698.2h0M813.7,700.7h0M825,696.6h0M668.3,704.2h0M668,702.7h0M640.5,699.8h0M818,694.8h0M673,698.6h0M711.7,698.8h0M775.8,703h0M656.1,702.1h0M750.2,703.4h0M723.6,699.3h0M773.4,697.8h0M711.7,700.3h0M798.4,699.3h0M665.2,702.9h0M777.7,698h0M666.1,700h0M789.1,696.1h0M680.9,699.8h0M726.6,696.9h0M722.3,698.8h0M794.1,695.4h0M695.8,700.6h0M774.6,698.5h0M763.3,695.5h0M676.8,699.6h0M809,700.4h0M747.6,696.9h0M704,696.7h0M767.6,700.7h0M773.4,697.6h0M794.1,702.4h0M731,695.3h0M740.1,697.1h0M699.2,703h0M762.2,701h0M723.3,701.6h0M749.3,699.8h0M795,698.6h0M699.7,699.3h0M814.8,696.4h0M772.4,702.6h0M819.9,699.5h0M733,698h0" fill="none" stroke="#f0f921" stroke-width="5.0" stroke-linecap="round" opacity="0.85"/>
<path d="M751.9,697.7h0M728.8,695.4h0M758.1,696.9h0M650.7,698.6h0M765.3,700.5h0M717.1,700.9h0M707.7,696.3h0M793.5,701.1h0M672.3,701.3h0M777.3,696h0" fill="none" stroke="#fbd724" stroke-width="5.0" stroke-linecap="round" opacity="0.85"/>
<path d="M742.2,701h0M677.8,702.6h0M742.1,700.9h0M788.3,700.1h0M763.3,699.2h0M694.9,699.1h0M718.2,695.7h0M710.7,699.1h0M773.8,697.3h0M646.1,700.7h0M814.7,698.6h0M745.7,695.3h0M755,700.7h0M728.4,698.7h0M756.1,698.6h0M821.3,697.1h0M693.6,701.1h0M642.2,702.3h0" fill="none" stroke="#fbd724" stroke-width="4.5" stroke-linecap="round" opacity="0.85"/>
<path d="M738.5,697.4h0M704,703.5h0M808.2,697.8h0M641.3,705.8h0" fill="none" stroke="#fbd724" stroke-width="4.0" stroke-linecap="round" opacity="0.85"/>
<path d="M728.5,700.7h0M649.7,703.8h0M775.5,695h0M713.2,699.8h0M641.6,698.4h0M726.7,695.5h0M715.9,696.7h0" fill="none" stroke="#feba2c" stroke-width="4.0" stroke-linecap="round" opacity="0.85"/>
<path d="M673.8,704.3h0M732.8,700.5h0M810.8,700.3h0M741.5,703.5h0M649.2,703.1h0M787.2,701.9h0M762.8,700.1h0M818.3,696.6h0M664.5,698.3h0M683.3,700.9h0M785.8,701.2h0M715.6,696.1h0M749.2,703.2h0M807.7,695.4h0" fill="none" stroke="#feba2c" stroke-width="5.0" stroke-linecap="round" opacity="0.85"/>
<path d="M705.3,701.5h0M692.6,698.5h0M722.3,700.9h0M656.4,700.2h0M642.8,705.7h0" fill="none" stroke="#ea7457" stroke-width="5.0" stroke-linecap="round" opacity="0.85"/>
<path d="M776.4,695.2h0M784,698.2h0M733.9,697.1h0M694.7,698.5h0M650.2,703h0M763,700.1h0M691.9,700.3h0M802.9,695.1h0M666.7,702.8h0" fill="none" stroke="#f89540" stroke-width="5.0" stroke-linecap="round" opacity="0.85"/>
<path d="M705.2,697.4h0M726.4,698.6h0M744.8,702.9h0M687.4,703.2h0M805.5,699.4h0M821.9,699.6h0M691.2,698.9h0" fill="none" stroke="#f89540" stroke-width="4.5" stroke-linecap="round" opacity="0.85"/>
<path d="M686.5,698.6h0M700.6,695.9h0M640.2,704.3h0M701.3,696.1h0M728.1,702.7h0M789.3,699.5h0M664.8,697.9h0M739.7,696h0M787.2,698.5h0M749.3,699.7h0M690.4,701.8h0M672.6,704.4h0M790.4,694.9h0M707.3,698.1h0M677.9,703.9h0" fill="none" stroke="#ea7457" stroke-width="4.5" stroke-linecap="round" opacity="0.85"/>
<path d="M676.5,696.6h0M796.4,701.6h0M667.9,702.2h0M650.2,702.9h0M702.4,697.3h0M779.5,694.9h0M713.4,703.3h0" fill="none" stroke="#feba2c" stroke-width="4.5" stroke-linecap="round" opacity="0.85"/>
<path d="M707.3,702.8h0M674.2,699.1h0M814.9,697.6h0M756.3,702h0M776.6,701h0M780.1,696.7h0" fill="none" stroke="#f89540" stroke-width="4.0" stroke-linecap="round" opacity="0.85"/>
<path d="M687.5,698.1h0M803.7,701.2h0M741.5,695.8h0M731.6,701.7h0M674.8,698.9h0" fill="none" stroke="#ea7457" stroke-width="4.0" stroke-linecap="round" opacity="0.85"/>
<path d="M805.9,693.4h0M632.8,699.8h0M600.2,702.9h0M693.2,697h0M616.7,699.8h0M655.7,697.3h0M655.7,697.6h0M592.4,704.6h0M560.9,708h0M717,695.8h0M570.5,707.2h0M816.6,694.4h0M618,701.1h0M702.9,694.6h0M620.2,701.1h0M680.9,695.9h0M589.8,703h0M580.3,706.1h0M757.7,695.8h0M752.2,695.7h0M681,695.3h0M771.4,694.9h0M734.6,696.4h0M595.6,701.8h0M753.6,695.2h0M562.4,708.3h0" fill="none" stroke="#fca636" stroke-width="3.0" stroke-linecap="round" opacity="0.85"/>
<path d="M786.6,695.1h0M675.1,695.8h0M757.6,695.9h0M661.3,696.4h0M747.3,695.7h0M798.4,695.1h0M720.9,695.5h0M634.9,699.9h0M735,694.7h0M817.8,695.3h0M676.7,695.7h0M758.9,696.2h0M654.1,697h0M708.4,696h0M588,704.7h0M654.5,698.2h0M748.9,696.3h0" fill="none" stroke="#fcce25" stroke-width="3.0" stroke-linecap="round" opacity="0.85"/>
<path d="M678.9,696.4h0M688.7,695.6h0M567.5,706.8h0M659.6,698.1h0M752.7,695.3h0M663.8,698h0M773.9,696h0M687.1,695.2h0M709,696.2h0M752,695.5h0M728.2,696.6h0M788.3,694.4h0M689.3,695h0M786.1,694.8h0M695.1,695.2h0M676.2,697h0M602.8,703.1h0" fill="none" stroke="#f2844b" stroke-width="3.0" stroke-linecap="round" opacity="0.85"/>
</g>
<line x1="129.8" y1="798.7" x2="824.2" y2="798.7" stroke="#000" stroke-width="5.4" stroke-dasharray="18.4 8.8"/>
<line x1="685.3" y1="1005.2" x2="685.3" y2="592.2" stroke="#000" stroke-width="5.4" stroke-dasharray="18.4 8.8"/>
<circle cx="258.6" cy="819.5" r="6.2" fill="none" stroke="#2a2400" stroke-width="2.6"/>
<rect x="195" y="646.6" width="58" height="11.6" fill="#0d0887"/>
<rect x="252.5" y="646.6" width="58" height="11.6" fill="#46039f"/>
<rect x="310" y="646.6" width="58" height="11.6" fill="#7201a8"/>
<rect x="367.5" y="646.6" width="58" height="11.6" fill="#9c179e"/>
<rect x="425" y="646.6" width="58" height="11.6" fill="#bd3786"/>
<rect x="482.5" y="646.6" width="58" height="11.6" fill="#d8576b"/>
<rect x="540" y="646.6" width="58" height="11.6" fill="#ed7953"/>
<rect x="597.5" y="646.6" width="58" height="11.6" fill="#fb9f3a"/>
<rect x="655" y="646.6" width="58" height="11.6" fill="#fdca26"/>
<rect x="712.5" y="646.6" width="58" height="11.6" fill="#f0f921"/>
<polygon points="770,646.6 796,652.4 770,658.2" fill="#f0f921" stroke="#555" stroke-width="0.8"/>
<polygon points="195,646.6 168,652.4 195,658.2" fill="#fff" stroke="#555" stroke-width="1.2"/>
<path d="M195,646.6 H770 M195,658.2 H770" stroke="#777" stroke-width="0.8" fill="none" opacity="0.6"/>
<text x="195" y="633.6" font-size="34" text-anchor="middle" fill="#000" stroke="#000" stroke-width="1.0">10</text>
<line x1="310" y1="646.6" x2="310" y2="651.6" stroke="#222" stroke-width="1.4" opacity="0.7"/>
<text x="310" y="633.6" font-size="34" text-anchor="middle" fill="#000" stroke="#000" stroke-width="1.0">12</text>
<line x1="425" y1="646.6" x2="425" y2="651.6" stroke="#222" stroke-width="1.4" opacity="0.7"/>
<text x="425" y="633.6" font-size="34" text-anchor="middle" fill="#000" stroke="#000" stroke-width="1.0">14</text>
<line x1="540" y1="646.6" x2="540" y2="651.6" stroke="#222" stroke-width="1.4" opacity="0.7"/>
<text x="540" y="633.6" font-size="34" text-anchor="middle" fill="#000" stroke="#000" stroke-width="1.0">16</text>
<line x1="655" y1="646.6" x2="655" y2="651.6" stroke="#222" stroke-width="1.4" opacity="0.7"/>
<text x="655" y="633.6" font-size="34" text-anchor="middle" fill="#000" stroke="#000" stroke-width="1.0">18</text>
<text x="770" y="633.6" font-size="34" text-anchor="middle" fill="#000" stroke="#000" stroke-width="1.0">20</text>
<text x="481" y="693.5" font-size="38" text-anchor="middle" fill="#000" stroke="#000" stroke-width="1.0">Depth [km]</text>
<rect x="129.8" y="592.2" width="694.4" height="413" fill="none" stroke="#9c9c9c" stroke-width="2.3"/>
<line x1="199.2" y1="1005.2" x2="199.2" y2="999.2" stroke="#777" stroke-width="1.6"/>
<text x="199.2" y="1037" font-size="34" text-anchor="middle" fill="#000" stroke="#000" stroke-width="1.0">−100</text>
<line x1="338.1" y1="1005.2" x2="338.1" y2="999.2" stroke="#777" stroke-width="1.6"/>
<text x="338.1" y="1037" font-size="34" text-anchor="middle" fill="#000" stroke="#000" stroke-width="1.0">0</text>
<line x1="477" y1="1005.2" x2="477" y2="999.2" stroke="#777" stroke-width="1.6"/>
<text x="477" y="1037" font-size="34" text-anchor="middle" fill="#000" stroke="#000" stroke-width="1.0">100</text>
<line x1="615.9" y1="1005.2" x2="615.9" y2="999.2" stroke="#777" stroke-width="1.6"/>
<text x="615.9" y="1037" font-size="34" text-anchor="middle" fill="#000" stroke="#000" stroke-width="1.0">200</text>
<line x1="754.8" y1="1005.2" x2="754.8" y2="999.2" stroke="#777" stroke-width="1.6"/>
<text x="754.8" y="1037" font-size="34" text-anchor="middle" fill="#000" stroke="#000" stroke-width="1.0">300</text>
<path d="M129.8,1005.2h3.5M129.8,988.8h3.5M129.8,975h3.5M129.8,963h3.5M129.8,952.5h3.5M129.8,880.9h3.5M129.8,844.5h3.5M129.8,818.7h3.5M129.8,798.7h3.5M129.8,782.3h3.5M129.8,768.5h3.5M129.8,756.5h3.5M129.8,746h3.5M129.8,674.4h3.5M129.8,638h3.5M129.8,612.2h3.5M129.8,592.2h3.5" stroke="#8a8a8a" stroke-width="1.3" fill="none"/>
<line x1="129.8" y1="943" x2="136.8" y2="943" stroke="#777" stroke-width="1.6"/>
<text x="122" y="954.5" font-size="34" text-anchor="end" fill="#000" stroke="#000" stroke-width="1.0">10<tspan font-size="23.8" dy="-13.5">0</tspan></text>
<line x1="129.8" y1="736.5" x2="136.8" y2="736.5" stroke="#777" stroke-width="1.6"/>
<text x="122" y="748" font-size="34" text-anchor="end" fill="#000" stroke="#000" stroke-width="1.0">10<tspan font-size="23.8" dy="-13.5">1</tspan></text>
<text x="46.8" y="798" font-size="38" text-anchor="middle" fill="#000" stroke="#000" stroke-width="1.0" transform="rotate(-90 46.8 798)">Peak Pressure [GPa]</text>
<text x="476" y="1082" font-size="38" text-anchor="middle" stroke="#000" stroke-width="1.0">Peak Temperature [<tspan font-size="22" dy="-13" dx="7">∘</tspan><tspan dy="13" dx="8">C]</tspan></text>
<!-- panel d -->
<defs>
<clipPath id="clipD"><rect x="920.5" y="592" width="693.1" height="413.2"/></clipPath>
</defs>
<line x1="1227" y1="592" x2="1227" y2="1005.2" stroke="#cecece" stroke-width="2"/>
<line x1="1536" y1="592" x2="1536" y2="1005.2" stroke="#cecece" stroke-width="2"/>
<line x1="920.5" y1="922.6" x2="1613.6" y2="922.6" stroke="#cecece" stroke-width="2"/>
<line x1="920.5" y1="839.9" x2="1613.6" y2="839.9" stroke="#cecece" stroke-width="2"/>
<line x1="920.5" y1="757.3" x2="1613.6" y2="757.3" stroke="#cecece" stroke-width="2"/>
<line x1="920.5" y1="674.6" x2="1613.6" y2="674.6" stroke="#cecece" stroke-width="2"/>
<path d="M920.5,592 H1613.6" stroke="#a8a8a8" stroke-width="2.6" fill="none"/>
<path d="M920.5,1005.2 H1613.6" stroke="#9a9a9a" stroke-width="2" fill="none"/>
<path d="M920.5,591 V1006.2 M1613.6,591 V1006.2" stroke="#444" stroke-width="2.3" fill="none"/>
<path d="M1013,1005.2v-4M1067.1,1005.2v-4M1105.5,1005.2v-4M1135.3,1005.2v-4M1159.6,1005.2v-4M1180.2,1005.2v-4M1198,1005.2v-4M1213.8,1005.2v-4M1320.3,1005.2v-4M1374.5,1005.2v-4M1412.9,1005.2v-4M1442.6,1005.2v-4M1467,1005.2v-4M1487.5,1005.2v-4M1505.4,1005.2v-4M1521.1,1005.2v-4" stroke="#777" stroke-width="1.4" fill="none"/>
<g clip-path="url(#clipD)">
<polyline points="920.5,1004.6 952.3,1004.6 986.2,1004.6 1020.2,1004.6 1052,1004.6 1079.3,1004.6 1100,1004.6 1112.7,1004.6 1118.9,1004.5 1120.6,1004.5 1120,1004.4 1119.1,1004.3 1120,1004.2 1122.3,1004 1124.2,1003.9 1125.8,1003.7 1127.3,1003.5 1128.6,1003.1 1130,1002.5 1131.4,1001.7 1132.6,1000.9 1133.8,999.8 1134.9,998.7 1135.9,997.4 1137,996 1138.1,994.5 1139.1,992.8 1140.1,991 1141.1,989.1 1142.1,987.1 1143,985 1143.9,982.8 1144.8,980.4 1145.6,977.9 1146.4,975.4 1147.2,972.7 1148,970 1148.7,967.2 1149.4,964.4 1150.1,961.4 1150.7,958.4 1151.4,955.3 1152,952 1152.6,948.6 1153.2,945.1 1153.8,941.4 1154.4,937.7 1155,933.9 1155.5,930 1156,926 1156.4,921.9 1156.8,917.7 1157.2,913.4 1157.6,909.2 1158,905 1158.4,900.9 1158.7,896.9 1159.1,892.8 1159.4,888.7 1159.7,884.5 1160,880 1160.3,875.3 1160.5,870.4 1160.8,865.3 1161,860.2 1161.3,855.1 1161.5,850 1161.8,845 1162,840 1162.2,835 1162.5,830 1162.8,825 1163,820 1163.3,815 1163.5,810 1163.8,805 1164,800 1164.3,795 1164.5,790 1164.7,784.9 1164.9,779.8 1165,774.7 1165.2,769.6 1165.3,764.7 1165.5,760 1165.7,755.5 1165.8,751.2 1166,747.1 1166.2,743 1166.3,739 1166.5,735 1166.7,731 1166.8,727 1167,723 1167.2,719.1 1167.3,715.5 1167.5,712 1167.7,708.8 1167.8,705.7 1168,702.8 1168.2,700 1168.4,697.4 1168.6,695 1168.8,692.6 1169,690.2 1169.2,687.9 1169.5,686 1169.7,684.7 1170,684 1170.3,684.2 1170.6,685.1 1170.9,686.6 1171.2,688.3 1171.6,690.2 1172,692 1172.4,693.7 1172.9,695.6 1173.4,697.6 1174,699.6 1174.5,701.8 1175,704 1175.5,706.3 1176,708.7 1176.5,711.2 1177,713.8 1177.5,716.4 1178,719 1178.5,721.6 1179,724.3 1179.5,727.1 1180,729.8 1180.5,732.4 1181,735 1181.5,737.4 1182,739.7 1182.5,742 1183,744.3 1183.5,746.6 1184,749 1184.6,751.6 1185.1,754.2 1185.7,756.9 1186.3,759.7 1186.9,762.4 1187.5,765 1188.1,767.5 1188.6,770 1189.2,772.4 1189.8,774.9 1190.4,777.4 1191,780 1191.6,782.7 1192.3,785.6 1193,788.4 1193.6,791.3 1194.3,794.2 1195,797 1195.7,799.7 1196.3,802.4 1197,805.1 1197.6,807.7 1198.3,810.3 1199,813 1199.7,815.7 1200.5,818.3 1201.2,821 1202,823.7 1202.7,826.3 1203.5,829 1204.2,831.7 1205,834.3 1205.7,837 1206.5,839.7 1207.2,842.3 1208,845 1208.8,847.7 1209.6,850.4 1210.4,853.1 1211.2,855.7 1212.1,858.4 1213,861 1213.9,863.6 1214.9,866.1 1215.9,868.6 1217,871 1218,873.5 1219,876 1220,878.5 1221,881 1221.9,883.6 1222.9,886.1 1223.9,888.6 1225,891 1226.1,893.4 1227.2,895.8 1228.4,898.2 1229.6,900.5 1230.8,902.8 1232,905 1233.3,907.1 1234.6,909.1 1235.9,911.1 1237.3,913.1 1238.7,915 1240,917 1241.3,919 1242.7,921 1244,923 1245.3,925 1246.7,927 1248,929 1249.3,931 1250.7,933 1252,934.9 1253.3,936.9 1254.7,938.9 1256,941 1257.3,943.1 1258.7,945.2 1260,947.4 1261.3,949.6 1262.7,951.8 1264,954 1265.3,956.3 1266.7,958.6 1268,961 1269.3,963.4 1270.7,965.7 1272,968 1273.3,970.3 1274.7,972.6 1276,974.8 1277.3,977 1278.7,979.1 1280,981 1281.3,982.8 1282.7,984.4 1284,986 1285.3,987.4 1286.7,988.8 1288,990 1289.3,991.1 1290.6,992.1 1291.9,992.9 1293.3,993.7 1294.6,994.4 1296,995 1297.4,995.6 1298.8,996.1 1300.2,996.6 1301.7,996.9 1303.3,997.3 1305,997.5 1306.9,997.7 1309,997.7 1311.2,997.7 1313.4,997.7 1315.7,997.6 1318,997.5 1320.3,997.4 1322.5,997.1 1324.8,996.9 1327.1,996.6 1329.5,996.4 1332,996.2 1334.6,996 1337.3,995.9 1340.1,995.7 1342.9,995.6 1345.5,995.6 1348,995.6 1350.2,995.7 1352.3,995.9 1354.2,996.1 1356.1,996.4 1358,996.7 1360,997 1361.8,997.3 1363.4,997.6 1365,997.9 1366.8,998.2 1369.1,998.5 1372,998.8 1375.6,999 1379.7,999.2 1384.2,999.4 1389.2,999.6 1394.5,999.8 1400,1000 1406,1000.2 1412.4,1000.5 1419.2,1000.8 1426.2,1001 1433.2,1001.3 1440,1001.5 1446.7,1001.7 1453.3,1001.9 1460,1002.1 1466.7,1002.2 1473.3,1002.4 1480,1002.5 1486.7,1002.6 1493.3,1002.8 1500,1002.9 1506.7,1003 1513.3,1003.1 1520,1003.2 1526.5,1003.3 1532.8,1003.4 1539.1,1003.5 1545.6,1003.6 1552.5,1003.7 1560,1003.8 1568.2,1003.9 1577,1003.9 1586.1,1004 1595.5,1004.1 1604.8,1004.1 1614,1004.2" fill="none" stroke="#000" stroke-width="5.4" stroke-dasharray="5.2 8.5" stroke-dashoffset="-4"/>
<polyline points="920.5,1004.4 958.4,1004.4 999,1004.4 1039.7,1004.5 1077.5,1004.5 1109.9,1004.5 1134,1004.4 1148.1,1004.3 1154,1004.3 1154.4,1004.2 1151.9,1004 1149.3,1003.8 1149,1003.5 1150.7,1003.1 1152,1002.7 1153.1,1002.2 1154.1,1001.6 1155,1000.9 1156,1000 1157,998.9 1157.9,997.7 1158.7,996.3 1159.5,994.9 1160.2,993.4 1161,992 1161.7,990.5 1162.4,989 1163.1,987.4 1163.7,985.9 1164.3,984.4 1165,983 1165.7,981.7 1166.3,980.4 1166.9,979.1 1167.6,977.9 1168.3,976.9 1169,976 1169.8,975.3 1170.5,974.7 1171.3,974.3 1172.1,974 1173,973.7 1174,973.4 1175,973.1 1176,973 1177.1,972.8 1178.3,972.7 1179.6,972.6 1181,972.6 1182.6,972.6 1184.4,972.6 1186.2,972.7 1188.2,972.8 1190.1,972.9 1192,973 1193.8,973.1 1195.7,973.2 1197.6,973.3 1199.4,973.4 1201.2,973.5 1203,973.6 1204.7,973.7 1206.4,973.9 1208.1,974 1209.7,974.2 1211.3,974.2 1213,974.2 1214.6,974.1 1216.3,973.9 1217.9,973.6 1219.5,973.3 1221.2,973 1223,972.6 1224.8,972.2 1226.7,971.7 1228.7,971.2 1230.7,970.6 1232.8,970 1235,969.5 1237.3,969 1239.6,968.4 1242,967.8 1244.5,967.2 1247.2,966.7 1250,966.2 1252.9,965.8 1255.9,965.3 1259.1,965 1262.4,964.6 1266,964.2 1270,963.8 1274.4,963.4 1279.1,962.9 1284.1,962.4 1289.3,962 1294.6,961.5 1300,961 1305.5,960.5 1311.2,960 1317.1,959.5 1323,959 1329,958.5 1335,958 1341,957.5 1347.1,957 1353.3,956.5 1359.5,956 1365.8,955.5 1372,955 1378.4,954.5 1384.9,954 1391.4,953.5 1397.9,953 1404.1,952.5 1410,952 1415.5,951.5 1420.8,951.1 1425.9,950.6 1430.7,950.2 1435.4,949.7 1440,949.3 1444.4,948.9 1448.6,948.5 1452.6,948.2 1456.4,947.8 1460.2,947.4 1464,947 1467.7,946.5 1471.3,945.9 1474.8,945.3 1478.2,944.7 1481.6,944.1 1485,943.5 1488.4,942.9 1491.7,942.3 1495.1,941.6 1498.4,941 1501.7,940.4 1505,939.8 1508.4,939.2 1511.9,938.6 1515.3,938.1 1518.7,937.5 1522,937 1525,936.5 1527.8,936.1 1530.3,935.7 1532.8,935.3 1535.1,935 1537.5,934.6 1540,934.3 1542.6,934 1545.3,933.7 1547.9,933.3 1550.6,933.1 1553.3,932.8 1556,932.6 1558.7,932.4 1561.4,932.3 1564.1,932.2 1566.8,932.1 1569.4,932 1572,932 1574.4,932 1576.8,932 1579.1,932 1581.4,932 1583.7,932.1 1586,932.2 1588.3,932.3 1590.7,932.5 1593,932.8 1595.3,933 1597.7,933.2 1600,933.5 1602.3,933.8 1604.7,934 1607,934.3 1609.3,934.6 1611.7,934.9 1614,935.2" fill="none" stroke="#008000" stroke-width="5.4" stroke-linejoin="round"/>
<polyline points="1330,958.5 1331.5,958.5 1333,958 1334.5,958.1 1336,958.3 1337.5,958.2 1339,957.3 1340.5,957.3 1342,957 1343.5,957.3 1345,956.7 1346.5,957 1348,957.1 1349.5,956.6 1351,956.9 1352.5,956.7 1354,956 1355.5,956.4 1357,956 1358.5,956 1360,955.8 1361.5,956 1363,955.7 1364.5,955.3 1366,955.5 1367.5,955.6 1369,955 1370.5,954.8 1372,954.9 1373.5,955.3 1375,955.2 1376.5,954.8 1378,954.9 1379.5,954.8 1381,954.2 1382.5,953.8 1384,954.2 1385.5,954 1387,953.7 1388.5,953.4 1390,953.5 1391.5,953.4 1393,953.1 1394.5,953 1396,953.1 1397.5,953.3 1399,953 1400.5,952.5 1402,952.4 1403.5,952.5 1405,952.1 1406.5,952 1408,952.2 1409.5,951.6 1411,951.9 1412.5,951.6 1414,951.8 1415.5,951.8 1417,951.6 1418.5,951.4 1420,951 1421.5,951.1 1423,950.7 1424.5,950.8 1426,950.4 1427.5,950.4 1429,949.9 1430.5,949.9 1432,950.5 1433.5,949.6 1435,949.9 1436.5,949.8 1438,949.7 1439.5,949.3 1441,949.3 1442.5,948.5 1444,948.4 1445.5,948.3 1447,948.1 1448.5,947.8 1450,947.7 1451.5,948.3 1453,947.4 1454.5,948.9 1456,948.2 1457.5,947.7 1459,948 1460.5,946.7 1462,948.4 1463.5,948 1465,947.5 1466.5,946.5 1468,947.4 1469.5,946.9 1471,946.4 1472.5,947.1 1474,945.8 1475.5,944.6 1477,945 1478.5,943.3 1480,943 1481.5,945.1 1483,945.1 1484.5,945.7 1486,945 1487.5,943.2 1489,940.7 1490.5,942.4 1492,944.4 1493.5,943.4 1495,941.6 1496.5,941.1 1498,939.5 1499.5,939 1501,938 1502.5,942.6 1504,940.8 1505.5,937.5 1507,938.9 1508.5,936.3 1510,937.1 1511.5,940.3 1513,939.5 1514.5,938.1 1516,936.4 1517.5,938.8 1519,940.8 1520.5,936.8 1522,933.7 1523.5,933.4 1525,933.2 1526.5,939.9 1528,936.4 1529.5,938.6 1531,932.9 1532.5,933.4 1534,936.8 1535.5,938.2 1537,933.4 1538.5,931 1540,937.3 1541.5,932.4 1543,936 1544.5,931 1546,935.3 1547.5,936.3 1549,935.2 1550.5,932 1552,934.9 1553.5,929.9 1555,931.2 1556.5,931.9 1558,935.6 1559.5,929.6 1561,935.5 1562.5,934.8 1564,936.2 1565.5,931.2 1567,929.8 1568.5,930 1570,934.8 1571.5,935.8 1573,933.6 1574.5,931.9 1576,930.3 1577.5,934.8 1579,935.2 1580.5,928.8 1582,929.8 1583.5,934.9 1585,935 1586.5,930.7 1588,930.6 1589.5,932 1591,933 1592.5,929.5 1594,935.7 1595.5,933.4 1597,935.5 1598.5,931.2 1600,937.3 1601.5,935.7 1603,932.6 1604.5,937.7 1606,935.9 1607.5,937.2 1609,930.9 1610.5,931.1 1612,936.9 1613.5,933.5" fill="none" stroke="#008000" stroke-width="5.4" stroke-linejoin="round"/>
</g>
<line x1="920.5" y1="1005.2" x2="926.5" y2="1005.2" stroke="#777" stroke-width="1.6"/>
<text x="912.8" y="1017.6" font-size="34" text-anchor="end" fill="#000" stroke="#000" stroke-width="1.0">0</text>
<line x1="920.5" y1="922.6" x2="926.5" y2="922.6" stroke="#777" stroke-width="1.6"/>
<text x="912.8" y="935" font-size="34" text-anchor="end" fill="#000" stroke="#000" stroke-width="1.0">1</text>
<line x1="920.5" y1="839.9" x2="926.5" y2="839.9" stroke="#777" stroke-width="1.6"/>
<text x="912.8" y="852.3" font-size="34" text-anchor="end" fill="#000" stroke="#000" stroke-width="1.0">2</text>
<line x1="920.5" y1="757.3" x2="926.5" y2="757.3" stroke="#777" stroke-width="1.6"/>
<text x="912.8" y="769.7" font-size="34" text-anchor="end" fill="#000" stroke="#000" stroke-width="1.0">3</text>
<line x1="920.5" y1="674.6" x2="926.5" y2="674.6" stroke="#777" stroke-width="1.6"/>
<text x="912.8" y="687" font-size="34" text-anchor="end" fill="#000" stroke="#000" stroke-width="1.0">4</text>
<line x1="920.5" y1="592" x2="926.5" y2="592" stroke="#777" stroke-width="1.6"/>
<text x="912.8" y="604.4" font-size="34" text-anchor="end" fill="#000" stroke="#000" stroke-width="1.0">5</text>
<line x1="1607.6" y1="592" x2="1613.6" y2="592" stroke="#4a9a4a" stroke-width="1.6"/>
<text x="1621" y="604.4" font-size="34" text-anchor="start" fill="#008000" stroke="#008000" stroke-width="1.0">350</text>
<line x1="1607.6" y1="674.6" x2="1613.6" y2="674.6" stroke="#4a9a4a" stroke-width="1.6"/>
<text x="1621" y="687" font-size="34" text-anchor="start" fill="#008000" stroke="#008000" stroke-width="1.0">250</text>
<line x1="1607.6" y1="757.3" x2="1613.6" y2="757.3" stroke="#4a9a4a" stroke-width="1.6"/>
<text x="1621" y="769.7" font-size="34" text-anchor="start" fill="#008000" stroke="#008000" stroke-width="1.0">150</text>
<line x1="1607.6" y1="839.9" x2="1613.6" y2="839.9" stroke="#4a9a4a" stroke-width="1.6"/>
<text x="1621" y="852.3" font-size="34" text-anchor="start" fill="#008000" stroke="#008000" stroke-width="1.0">50</text>
<line x1="1607.6" y1="922.6" x2="1613.6" y2="922.6" stroke="#4a9a4a" stroke-width="1.6"/>
<text x="1621" y="935" font-size="34" text-anchor="start" fill="#008000" stroke="#008000" stroke-width="1.0">−50</text>
<line x1="1607.6" y1="1005.2" x2="1613.6" y2="1005.2" stroke="#4a9a4a" stroke-width="1.6"/>
<text x="1621" y="1017.6" font-size="34" text-anchor="start" fill="#008000" stroke="#008000" stroke-width="1.0">−150</text>
<line x1="920.5" y1="1005.2" x2="920.5" y2="998.2" stroke="#777" stroke-width="1.6"/>
<text x="921" y="1039.3" font-size="34" text-anchor="middle" stroke="#000" stroke-width="1.0">10<tspan font-size="23.8" dy="-13.5">0</tspan></text>
<line x1="1227" y1="1005.2" x2="1227" y2="998.2" stroke="#777" stroke-width="1.6"/>
<text x="1227.5" y="1039.3" font-size="34" text-anchor="middle" stroke="#000" stroke-width="1.0">10<tspan font-size="23.8" dy="-13.5">1</tspan></text>
<line x1="1536" y1="1005.2" x2="1536" y2="998.2" stroke="#777" stroke-width="1.6"/>
<text x="1536.5" y="1039.3" font-size="34" text-anchor="middle" stroke="#000" stroke-width="1.0">10<tspan font-size="23.8" dy="-13.5">2</tspan></text>
<text x="1267" y="1082" font-size="38" text-anchor="middle" fill="#000" stroke="#000" stroke-width="1.0">time [s]</text>
<text x="876" y="798" font-size="38" text-anchor="middle" fill="#000" stroke="#000" stroke-width="1.0" transform="rotate(-90 876 798)">Pressure [GPa]</text>
<text x="1752" y="798" font-size="38" text-anchor="middle" fill="#008000" stroke="#008000" stroke-width="1.0" transform="rotate(-90 1752 798)">Temperature [<tspan font-size="22" dy="-13" dx="7">∘</tspan><tspan dy="13" dx="8">C]</tspan></text>
<text x="16.5" y="74.6" font-size="75" font-family="'Liberation Sans','DejaVu Sans',sans-serif" stroke="#000" stroke-width="0.3">a</text>
<text x="851" y="74.3" font-size="75" font-family="'Liberation Sans','DejaVu Sans',sans-serif" stroke="#000" stroke-width="0.3">b</text>
<text x="17" y="552.5" font-size="75" font-family="'Liberation Sans','DejaVu Sans',sans-serif" stroke="#000" stroke-width="0.3">c</text>
<text x="851" y="552.5" font-size="75" font-family="'Liberation Sans','DejaVu Sans',sans-serif" stroke="#000" stroke-width="0.3">d</text>
</g>
</svg>
</body></html>
